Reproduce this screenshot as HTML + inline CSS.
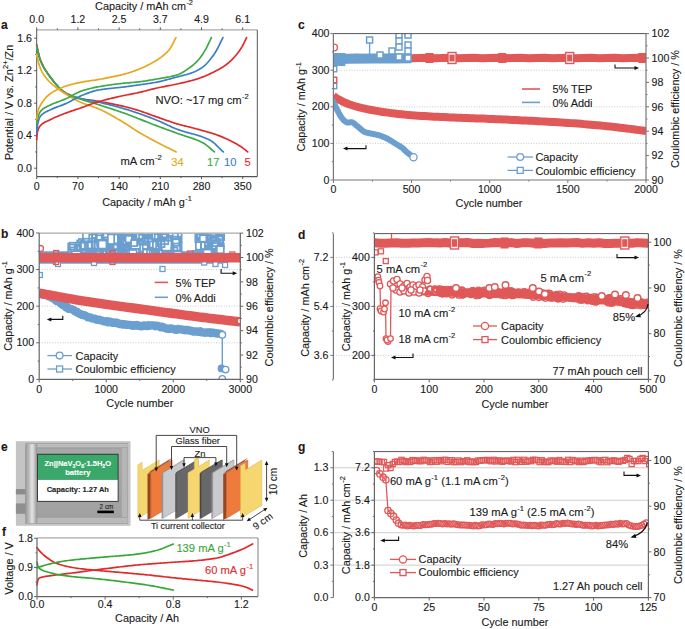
<!DOCTYPE html>
<html><head><meta charset="utf-8"><style>
html,body{margin:0;padding:0;background:#fff;width:685px;height:629px;overflow:hidden}
svg{display:block;font-family:"Liberation Sans", sans-serif}
text{stroke-width:0.12px;paint-order:stroke}
</style></head><body>
<svg width="685" height="629" viewBox="0 0 685 629">
<rect width="685" height="629" fill="#fff"/>
<line x1="36.7" y1="29.9" x2="257.3" y2="29.9" stroke="#a9a9a9" stroke-width="1.3" />
<line x1="257.3" y1="29.9" x2="257.3" y2="176.6" stroke="#555555" stroke-width="1" />
<line x1="36.7" y1="29.9" x2="36.7" y2="176.6" stroke="#555555" stroke-width="1" />
<line x1="36.7" y1="176.6" x2="257.3" y2="176.6" stroke="#555555" stroke-width="1.1" />
<line x1="36.7" y1="176.6" x2="36.7" y2="179.1" stroke="#555555" stroke-width="1" />
<line x1="36.7" y1="29.9" x2="36.7" y2="27.4" stroke="#555555" stroke-width="1" />
<line x1="57.3" y1="176.6" x2="57.3" y2="178.1" stroke="#555555" stroke-width="1" />
<line x1="57.3" y1="29.9" x2="57.3" y2="28.4" stroke="#555555" stroke-width="1" />
<line x1="77.9" y1="176.6" x2="77.9" y2="179.1" stroke="#555555" stroke-width="1" />
<line x1="77.9" y1="29.9" x2="77.9" y2="27.4" stroke="#555555" stroke-width="1" />
<line x1="98.5" y1="176.6" x2="98.5" y2="178.1" stroke="#555555" stroke-width="1" />
<line x1="98.5" y1="29.9" x2="98.5" y2="28.4" stroke="#555555" stroke-width="1" />
<line x1="119.1" y1="176.6" x2="119.1" y2="179.1" stroke="#555555" stroke-width="1" />
<line x1="119.1" y1="29.9" x2="119.1" y2="27.4" stroke="#555555" stroke-width="1" />
<line x1="139.7" y1="176.6" x2="139.7" y2="178.1" stroke="#555555" stroke-width="1" />
<line x1="139.7" y1="29.9" x2="139.7" y2="28.4" stroke="#555555" stroke-width="1" />
<line x1="160.3" y1="176.6" x2="160.3" y2="179.1" stroke="#555555" stroke-width="1" />
<line x1="160.3" y1="29.9" x2="160.3" y2="27.4" stroke="#555555" stroke-width="1" />
<line x1="180.9" y1="176.6" x2="180.9" y2="178.1" stroke="#555555" stroke-width="1" />
<line x1="180.9" y1="29.9" x2="180.9" y2="28.4" stroke="#555555" stroke-width="1" />
<line x1="201.5" y1="176.6" x2="201.5" y2="179.1" stroke="#555555" stroke-width="1" />
<line x1="201.5" y1="29.9" x2="201.5" y2="27.4" stroke="#555555" stroke-width="1" />
<line x1="222.1" y1="176.6" x2="222.1" y2="178.1" stroke="#555555" stroke-width="1" />
<line x1="222.1" y1="29.9" x2="222.1" y2="28.4" stroke="#555555" stroke-width="1" />
<line x1="242.7" y1="176.6" x2="242.7" y2="179.1" stroke="#555555" stroke-width="1" />
<line x1="242.7" y1="29.9" x2="242.7" y2="27.4" stroke="#555555" stroke-width="1" />
<line x1="36.7" y1="168.2" x2="34.2" y2="168.2" stroke="#555555" stroke-width="1" />
<line x1="36.7" y1="151.95" x2="35.2" y2="151.95" stroke="#555555" stroke-width="1" />
<line x1="36.7" y1="135.7" x2="34.2" y2="135.7" stroke="#555555" stroke-width="1" />
<line x1="36.7" y1="119.45" x2="35.2" y2="119.45" stroke="#555555" stroke-width="1" />
<line x1="36.7" y1="103.2" x2="34.2" y2="103.2" stroke="#555555" stroke-width="1" />
<line x1="36.7" y1="86.95" x2="35.2" y2="86.95" stroke="#555555" stroke-width="1" />
<line x1="36.7" y1="70.7" x2="34.2" y2="70.7" stroke="#555555" stroke-width="1" />
<line x1="36.7" y1="54.45" x2="35.2" y2="54.45" stroke="#555555" stroke-width="1" />
<line x1="36.7" y1="38.2" x2="34.2" y2="38.2" stroke="#555555" stroke-width="1" />
<text x="36.7" y="189.6" font-size="10.6" text-anchor="middle" fill="#1a1a1a" stroke="#1a1a1a" >0</text>
<text x="77.9" y="189.6" font-size="10.6" text-anchor="middle" fill="#1a1a1a" stroke="#1a1a1a" >70</text>
<text x="119.1" y="189.6" font-size="10.6" text-anchor="middle" fill="#1a1a1a" stroke="#1a1a1a" >140</text>
<text x="160.3" y="189.6" font-size="10.6" text-anchor="middle" fill="#1a1a1a" stroke="#1a1a1a" >210</text>
<text x="201.5" y="189.6" font-size="10.6" text-anchor="middle" fill="#1a1a1a" stroke="#1a1a1a" >280</text>
<text x="242.7" y="189.6" font-size="10.6" text-anchor="middle" fill="#1a1a1a" stroke="#1a1a1a" >350</text>
<text x="36.7" y="23.2" font-size="10.6" text-anchor="middle" fill="#1a1a1a" stroke="#1a1a1a" >0.0</text>
<text x="77.9" y="23.2" font-size="10.6" text-anchor="middle" fill="#1a1a1a" stroke="#1a1a1a" >1.2</text>
<text x="119.1" y="23.2" font-size="10.6" text-anchor="middle" fill="#1a1a1a" stroke="#1a1a1a" >2.5</text>
<text x="160.3" y="23.2" font-size="10.6" text-anchor="middle" fill="#1a1a1a" stroke="#1a1a1a" >3.7</text>
<text x="201.5" y="23.2" font-size="10.6" text-anchor="middle" fill="#1a1a1a" stroke="#1a1a1a" >4.9</text>
<text x="242.7" y="23.2" font-size="10.6" text-anchor="middle" fill="#1a1a1a" stroke="#1a1a1a" >6.1</text>
<text x="32" y="171.8" font-size="10.6" text-anchor="end" fill="#1a1a1a" stroke="#1a1a1a" >0.0</text>
<text x="32" y="139.3" font-size="10.6" text-anchor="end" fill="#1a1a1a" stroke="#1a1a1a" >0.4</text>
<text x="32" y="106.8" font-size="10.6" text-anchor="end" fill="#1a1a1a" stroke="#1a1a1a" >0.8</text>
<text x="32" y="74.3" font-size="10.6" text-anchor="end" fill="#1a1a1a" stroke="#1a1a1a" >1.2</text>
<text x="32" y="41.8" font-size="10.6" text-anchor="end" fill="#1a1a1a" stroke="#1a1a1a" >1.6</text>
<text x="147" y="206.2" font-size="10.85" text-anchor="middle" fill="#1a1a1a" stroke="#1a1a1a" >Capacity / mAh g<tspan font-size="7.38" dx="0.33" dy="-4.88">-1</tspan><tspan dy="4.88">&#8203;</tspan></text>
<text x="144" y="10.3" font-size="10.85" text-anchor="middle" fill="#1a1a1a" stroke="#1a1a1a" >Capacity / mAh cm<tspan font-size="7.38" dx="0.33" dy="-4.88">-2</tspan><tspan dy="4.88">&#8203;</tspan></text>
<text x="12.5" y="102.5" font-size="10.85" text-anchor="middle" fill="#1a1a1a" stroke="#1a1a1a" transform="rotate(-90 12.5 102.5)" >Potential / V vs. Zn<tspan font-size="7.38" dx="0.33" dy="-4.88">2+</tspan><tspan dy="4.88">&#8203;</tspan>/Zn</text>
<text x="155.5" y="103.8" font-size="11.2" text-anchor="start" fill="#1a1a1a" stroke="#1a1a1a" >NVO: ~17 mg cm<tspan font-size="7.62" dx="0.34" dy="-5.04">-2</tspan><tspan dy="5.04">&#8203;</tspan></text>
<text x="120.5" y="165.2" font-size="11.2" text-anchor="start" fill="#1a1a1a" stroke="#1a1a1a" >mA cm<tspan font-size="7.62" dx="0.34" dy="-5.04">-2</tspan><tspan dy="5.04">&#8203;</tspan></text>
<text x="171.3" y="165.5" font-size="11.2" text-anchor="start" fill="#e5a920" stroke="#e5a920" >34</text>
<text x="207" y="165.5" font-size="11.2" text-anchor="start" fill="#3daa45" stroke="#3daa45" >17</text>
<text x="224" y="165.5" font-size="11.2" text-anchor="start" fill="#3b7fc4" stroke="#3b7fc4" >10</text>
<text x="244.6" y="165.5" font-size="11.2" text-anchor="start" fill="#e02b2b" stroke="#e02b2b" >5</text>
<text x="1" y="28.7" font-size="12" text-anchor="start" fill="#1f1515" stroke="#1f1515" font-weight="bold" >a</text>
<path d="M36.7,44.7 L38.17,51.8 L39.64,57.7 L40.92,61.05 L42.2,64 L43.48,66.59 L44.76,68.89 L46.04,70.96 L47.32,72.85 L48.6,74.65 L49.88,76.39 L51.11,78.04 L52.33,79.65 L53.55,81.24 L54.77,82.77 L56,84.25 L57.22,85.66 L58.44,87.01 L59.66,88.27 L60.89,89.44 L62.11,90.51 L63.33,91.47 L64.55,92.32 L65.78,93.04 L67,93.68 L68.23,94.29 L69.46,94.86 L70.68,95.39 L71.91,95.89 L73.14,96.36 L74.36,96.8 L75.59,97.2 L76.82,97.58 L78.04,97.93 L79.27,98.25 L80.5,98.54 L81.73,98.81 L82.95,99.06 L84.17,99.28 L85.39,99.48 L86.62,99.66 L87.84,99.83 L89.06,100 L90.28,100.15 L91.51,100.31 L92.73,100.46 L93.95,100.62 L95.17,100.79 L96.39,100.97 L97.62,101.17 L98.82,101.37 L100.01,101.58 L101.21,101.79 L102.41,102 L103.61,102.22 L104.81,102.44 L106.01,102.66 L107.21,102.89 L108.4,103.12 L109.6,103.35 L110.8,103.59 L112,103.83 L113.2,104.07 L114.4,104.32 L115.6,104.57 L116.79,104.83 L117.99,105.09 L119.19,105.35 L120.39,105.62 L121.59,105.89 L122.79,106.17 L123.99,106.45 L125.17,106.73 L126.36,107.03 L127.55,107.33 L128.74,107.64 L129.92,107.96 L131.11,108.29 L132.3,108.62 L133.49,108.96 L134.68,109.31 L135.86,109.67 L137.05,110.02 L138.3,110.41 L139.55,110.81 L140.79,111.23 L142.04,111.65 L143.29,112.08 L144.53,112.52 L145.78,112.97 L147.03,113.42 L148.27,113.87 L149.52,114.33 L150.77,114.78 L152.02,115.24 L153.26,115.69 L154.51,116.14 L155.76,116.58 L157,117.01 L158.18,117.42 L159.36,117.83 L160.54,118.25 L161.71,118.67 L162.89,119.09 L164.07,119.51 L165.24,119.93 L166.42,120.34 L167.6,120.76 L168.78,121.17 L169.95,121.57 L171.13,121.97 L172.31,122.36 L173.48,122.74 L174.66,123.12 L175.84,123.48 L177.02,123.84 L178.26,124.2 L179.51,124.55 L180.76,124.89 L182,125.22 L183.25,125.54 L184.5,125.86 L185.74,126.17 L186.99,126.48 L188.24,126.79 L189.49,127.1 L190.73,127.41 L191.98,127.72 L193.23,128.04 L194.47,128.37 L195.72,128.7 L196.97,129.04 L198.15,129.36 L199.32,129.69 L200.5,130.01 L201.68,130.33 L202.85,130.65 L204.03,130.98 L205.21,131.3 L206.39,131.64 L207.56,131.97 L208.74,132.31 L209.92,132.66 L211.09,133.02 L212.27,133.39 L213.45,133.77 L214.63,134.15 L215.8,134.56 L216.98,134.97 L218.21,135.42 L219.44,135.88 L220.67,136.37 L221.91,136.87 L223.14,137.38 L224.37,137.91 L225.6,138.46 L226.83,139.02 L228.06,139.6 L229.29,140.19 L230.53,140.79 L231.76,141.41 L232.99,142.04 L234.2,142.68 L235.42,143.34 L236.63,144.02 L237.84,144.74 L239.06,145.48 L240.27,146.25 L241.49,147.05 L242.7,147.89 L243.95,148.83 L245.2,149.85 L246.45,150.91 L247.7,151.95" stroke="#e02b2b" stroke-width="1.7" fill="none" stroke-linecap="round" stroke-linejoin="round" />
<path d="M36.7,46.32 L38.17,52.97 L39.64,58.51 L40.92,61.7 L42.2,64.49 L43.48,66.95 L44.76,69.14 L46.04,71.12 L47.32,72.95 L48.6,74.68 L49.88,76.39 L51.11,78.01 L52.33,79.61 L53.55,81.18 L54.77,82.71 L56,84.19 L57.22,85.61 L58.44,86.96 L59.66,88.23 L60.89,89.41 L62.11,90.49 L63.33,91.47 L64.55,92.32 L65.78,93.04 L67,93.68 L68.23,94.27 L69.46,94.83 L70.68,95.34 L71.91,95.82 L73.14,96.27 L74.36,96.7 L75.59,97.09 L76.82,97.47 L78.04,97.82 L79.27,98.17 L80.5,98.49 L81.73,98.81 L82.95,99.11 L84.17,99.39 L85.39,99.65 L86.62,99.9 L87.84,100.13 L89.06,100.36 L90.28,100.58 L91.51,100.79 L92.73,101.01 L93.95,101.24 L95.17,101.47 L96.39,101.72 L97.62,101.98 L98.82,102.25 L100.01,102.52 L101.21,102.79 L102.41,103.07 L103.61,103.35 L104.81,103.64 L106.01,103.93 L107.21,104.22 L108.4,104.52 L109.6,104.82 L110.8,105.12 L112,105.43 L113.2,105.74 L114.4,106.05 L115.6,106.37 L116.79,106.7 L117.99,107.02 L119.19,107.36 L120.39,107.69 L121.59,108.03 L122.79,108.38 L123.99,108.72 L125.18,109.08 L126.37,109.43 L127.56,109.8 L128.76,110.17 L129.95,110.54 L131.14,110.92 L132.34,111.3 L133.53,111.69 L134.72,112.08 L135.92,112.48 L137.11,112.89 L138.3,113.29 L139.49,113.71 L140.69,114.12 L141.88,114.55 L143.07,114.97 L144.27,115.4 L145.46,115.84 L146.65,116.27 L147.84,116.72 L149.04,117.16 L150.23,117.61 L151.42,118.07 L152.62,118.52 L153.81,118.99 L155,119.45 L156.23,119.94 L157.45,120.45 L158.67,120.97 L159.89,121.51 L161.12,122.07 L162.34,122.63 L163.56,123.2 L164.79,123.77 L166.01,124.35 L167.23,124.92 L168.45,125.49 L169.68,126.06 L170.9,126.62 L172.12,127.16 L173.35,127.7 L174.57,128.22 L175.79,128.72 L177.02,129.2 L178.24,129.66 L179.46,130.09 L180.68,130.5 L181.9,130.89 L183.12,131.27 L184.34,131.63 L185.56,131.98 L186.78,132.32 L188,132.65 L189.22,132.98 L190.44,133.31 L191.66,133.64 L192.89,133.97 L194.11,134.3 L195.33,134.64 L196.55,135 L197.77,135.36 L198.99,135.74 L200.21,136.13 L201.43,136.54 L202.65,136.98 L203.87,137.44 L205.09,137.92 L206.31,138.44 L207.53,138.98 L208.75,139.56 L209.98,140.17 L211.18,140.87 L212.39,141.71 L213.6,142.67 L214.81,143.73 L216.02,144.86 L217.23,146.04 L218.44,147.25 L219.65,148.47 L220.86,149.68 L222.07,150.84 L223.28,151.95" stroke="#3b7fc4" stroke-width="1.7" fill="none" stroke-linecap="round" stroke-linejoin="round" />
<path d="M36.7,46.32 L38.17,52.96 L39.64,58.51 L40.92,61.73 L42.2,64.55 L43.48,67.05 L44.76,69.27 L46.04,71.28 L47.32,73.14 L48.6,74.91 L49.88,76.63 L51.11,78.27 L52.33,79.89 L53.55,81.47 L54.77,83 L56,84.49 L57.22,85.92 L58.44,87.27 L59.66,88.55 L60.89,89.74 L62.11,90.84 L63.33,91.82 L64.55,92.7 L65.78,93.45 L67,94.11 L68.23,94.72 L69.46,95.27 L70.68,95.79 L71.91,96.27 L73.14,96.72 L74.36,97.15 L75.59,97.56 L76.82,97.95 L78.04,98.35 L79.27,98.74 L80.5,99.13 L81.73,99.54 L82.95,99.95 L84.17,100.35 L85.39,100.73 L86.62,101.11 L87.84,101.48 L89.06,101.85 L90.28,102.21 L91.51,102.57 L92.73,102.93 L93.95,103.29 L95.17,103.66 L96.39,104.04 L97.62,104.42 L98.82,104.8 L100.01,105.18 L101.21,105.56 L102.41,105.94 L103.61,106.32 L104.81,106.7 L106.01,107.09 L107.21,107.47 L108.4,107.86 L109.6,108.24 L110.8,108.63 L112,109.03 L113.2,109.42 L114.4,109.82 L115.6,110.22 L116.79,110.62 L117.99,111.03 L119.19,111.44 L120.39,111.85 L121.59,112.27 L122.79,112.69 L123.99,113.11 L125.26,113.57 L126.54,114.04 L127.82,114.52 L129.09,115.01 L130.37,115.5 L131.65,116 L132.93,116.5 L134.2,116.99 L135.48,117.49 L136.76,117.99 L137.97,118.46 L139.19,118.93 L140.41,119.41 L141.62,119.89 L142.84,120.37 L144.06,120.85 L145.27,121.34 L146.49,121.82 L147.7,122.3 L148.92,122.78 L150.14,123.26 L151.35,123.73 L152.57,124.2 L153.79,124.67 L155,125.14 L156.23,125.6 L157.45,126.06 L158.67,126.52 L159.89,126.98 L161.12,127.43 L162.34,127.88 L163.56,128.33 L164.79,128.78 L166.01,129.23 L167.23,129.68 L168.45,130.12 L169.68,130.57 L170.9,131.02 L172.12,131.46 L173.35,131.91 L174.57,132.36 L175.79,132.81 L177.02,133.26 L178.21,133.7 L179.4,134.11 L180.6,134.52 L181.79,134.92 L182.98,135.3 L184.17,135.69 L185.37,136.07 L186.56,136.45 L187.75,136.83 L188.95,137.21 L190.14,137.6 L191.33,138 L192.53,138.41 L193.72,138.84 L194.91,139.28 L196.11,139.74 L197.3,140.22 L198.49,140.72 L199.69,141.25 L200.88,141.81 L202.07,142.39 L203.27,143.01 L204.51,143.74 L205.75,144.6 L206.99,145.55 L208.24,146.58 L209.48,147.65 L210.72,148.75 L211.96,149.85 L213.21,150.92 L214.45,151.95" stroke="#3daa45" stroke-width="1.7" fill="none" stroke-linecap="round" stroke-linejoin="round" />
<path d="M36.7,54.45 L37.58,58.77 L38.47,62.57 L39.64,66.3 L40.82,69.39 L42,71.84 L43.31,74.07 L44.63,76.04 L45.94,77.78 L47.26,79.33 L48.57,80.75 L49.88,82.07 L51.11,83.24 L52.33,84.35 L53.55,85.41 L54.77,86.41 L56,87.37 L57.22,88.29 L58.44,89.17 L59.66,90.03 L60.89,90.86 L62.11,91.66 L63.33,92.46 L64.55,93.24 L65.78,94.02 L67,94.79 L68.23,95.56 L69.46,96.31 L70.68,97.04 L71.91,97.77 L73.14,98.47 L74.36,99.16 L75.59,99.82 L76.82,100.47 L78.04,101.09 L79.27,101.68 L80.5,102.25 L81.73,102.79 L82.95,103.3 L84.17,103.77 L85.39,104.21 L86.62,104.63 L87.84,105.03 L89.06,105.42 L90.28,105.81 L91.51,106.2 L92.73,106.6 L93.95,107.01 L95.17,107.44 L96.39,107.91 L97.62,108.4 L98.82,108.91 L100.01,109.45 L101.21,110 L102.41,110.57 L103.61,111.16 L104.81,111.76 L106.01,112.37 L107.21,113 L108.4,113.65 L109.6,114.3 L110.8,114.97 L112,115.64 L113.2,116.33 L114.4,117.02 L115.6,117.71 L116.79,118.42 L117.99,119.13 L119.19,119.84 L120.39,120.55 L121.59,121.27 L122.79,121.98 L123.99,122.7 L125.26,123.48 L126.54,124.29 L127.82,125.12 L129.09,125.97 L130.37,126.83 L131.65,127.69 L132.93,128.54 L134.2,129.38 L135.48,130.2 L136.76,130.99 L137.93,131.7 L139.11,132.4 L140.29,133.09 L141.47,133.77 L142.64,134.45 L143.82,135.13 L145,135.79 L146.17,136.45 L147.35,137.11 L148.53,137.76 L149.71,138.41 L150.88,139.05 L152.06,139.68 L153.24,140.32 L154.41,140.95 L155.59,141.58 L156.77,142.2 L157.98,142.84 L159.2,143.47 L160.41,144.09 L161.62,144.71 L162.84,145.33 L164.05,145.93 L165.27,146.54 L166.48,147.14 L167.69,147.74 L168.91,148.34 L170.12,148.94 L171.34,149.54 L172.55,150.14 L173.76,150.74 L174.98,151.34 L176.19,151.95" stroke="#e5a920" stroke-width="1.7" fill="none" stroke-linecap="round" stroke-linejoin="round" />
<path d="M36.7,139.76 L36.99,135.52 L37.29,132.45 L38.85,127.66 L40.41,125.54 L41.59,124.42 L42.78,123.49 L43.96,122.71 L45.15,122.06 L46.33,121.49 L47.52,120.95 L48.7,120.42 L49.88,119.86 L51.11,119.25 L52.33,118.66 L53.55,118.1 L54.77,117.55 L56,117.01 L57.22,116.5 L58.44,115.99 L59.66,115.49 L60.89,115 L62.11,114.52 L63.33,114.05 L64.55,113.58 L65.78,113.11 L67,112.65 L68.23,112.2 L69.46,111.76 L70.68,111.33 L71.91,110.91 L73.14,110.49 L74.36,110.08 L75.59,109.67 L76.82,109.26 L78.04,108.85 L79.27,108.43 L80.5,108.01 L81.73,107.59 L82.95,107.15 L84.17,106.71 L85.39,106.26 L86.62,105.81 L87.84,105.35 L89.06,104.9 L90.28,104.45 L91.51,104.01 L92.73,103.57 L93.95,103.15 L95.17,102.74 L96.39,102.35 L97.62,101.98 L98.82,101.63 L100.01,101.29 L101.21,100.95 L102.41,100.62 L103.61,100.3 L104.81,99.98 L106.01,99.67 L107.21,99.36 L108.4,99.06 L109.6,98.76 L110.8,98.47 L112,98.18 L113.2,97.89 L114.4,97.61 L115.6,97.34 L116.79,97.06 L117.99,96.79 L119.19,96.52 L120.39,96.26 L121.59,96 L122.79,95.74 L123.99,95.48 L125.17,95.23 L126.35,95 L127.53,94.77 L128.72,94.55 L129.9,94.33 L131.08,94.12 L132.26,93.9 L133.45,93.68 L134.63,93.45 L135.81,93.21 L136.99,92.96 L138.17,92.7 L139.35,92.43 L140.52,92.15 L141.7,91.86 L142.88,91.57 L144.06,91.26 L145.23,90.96 L146.41,90.65 L147.59,90.34 L148.76,90.03 L149.94,89.73 L151.12,89.42 L152.3,89.13 L153.47,88.83 L154.65,88.55 L155.83,88.27 L157,88.01 L158.18,87.75 L159.36,87.5 L160.54,87.26 L161.71,87.03 L162.89,86.8 L164.07,86.57 L165.24,86.35 L166.42,86.13 L167.6,85.91 L168.78,85.69 L169.95,85.46 L171.13,85.24 L172.31,85.01 L173.48,84.77 L174.66,84.53 L175.84,84.28 L177.02,84.02 L178.26,83.75 L179.51,83.47 L180.76,83.19 L182,82.91 L183.25,82.63 L184.5,82.34 L185.74,82.04 L186.99,81.74 L188.24,81.44 L189.49,81.12 L190.73,80.8 L191.98,80.46 L193.23,80.11 L194.47,79.75 L195.72,79.38 L196.97,78.99 L198.15,78.6 L199.32,78.2 L200.5,77.78 L201.68,77.35 L202.85,76.9 L204.03,76.43 L205.21,75.95 L206.39,75.45 L207.56,74.94 L208.74,74.41 L209.92,73.87 L211.09,73.32 L212.27,72.75 L213.45,72.18 L214.63,71.59 L215.8,70.99 L216.98,70.37 L218.23,69.71 L219.48,69.01 L220.73,68.28 L221.98,67.52 L223.23,66.72 L224.48,65.87 L225.73,64.98 L226.99,64.04 L228.24,63.03 L229.49,61.96 L230.74,60.81 L231.99,59.6 L233.24,58.31 L234.49,56.96 L235.74,55.54 L236.99,54.04 L238.19,52.51 L239.39,50.83 L240.59,49.02 L241.79,47.08 L242.99,45.02 L244.19,42.72 L245.39,40.18 L246.58,37.63" stroke="#e02b2b" stroke-width="1.7" fill="none" stroke-linecap="round" stroke-linejoin="round" />
<path d="M36.7,133.26 L37.14,128.22 L37.58,124.32 L39,118.93 L40.41,116.2 L41.59,114.91 L42.78,113.86 L43.96,113.01 L45.15,112.3 L46.33,111.69 L47.52,111.14 L48.7,110.6 L49.88,110.02 L51.11,109.43 L52.33,108.87 L53.55,108.35 L54.77,107.85 L56,107.38 L57.22,106.92 L58.44,106.47 L59.66,106.03 L60.89,105.58 L62.11,105.12 L63.33,104.64 L64.55,104.14 L65.78,103.61 L67,103.04 L68.23,102.43 L69.46,101.81 L70.68,101.16 L71.91,100.5 L73.14,99.83 L74.36,99.16 L75.59,98.5 L76.82,97.86 L78.04,97.24 L79.27,96.64 L80.5,96.08 L81.73,95.56 L82.95,95.07 L84.17,94.57 L85.39,94.08 L86.62,93.6 L87.84,93.13 L89.06,92.67 L90.28,92.23 L91.51,91.82 L92.73,91.43 L93.95,91.07 L95.17,90.74 L96.39,90.45 L97.62,90.2 L98.82,89.98 L100.01,89.78 L101.21,89.59 L102.41,89.41 L103.61,89.24 L104.81,89.08 L106.01,88.93 L107.21,88.78 L108.4,88.65 L109.6,88.51 L110.8,88.39 L112,88.26 L113.2,88.14 L114.4,88.02 L115.6,87.9 L116.79,87.77 L117.99,87.65 L119.19,87.52 L120.39,87.39 L121.59,87.25 L122.79,87.1 L123.99,86.95 L125.17,86.79 L126.35,86.64 L127.53,86.48 L128.72,86.32 L129.9,86.16 L131.08,86 L132.26,85.83 L133.45,85.67 L134.63,85.5 L135.81,85.33 L136.99,85.16 L138.17,84.99 L139.35,84.83 L140.52,84.66 L141.7,84.49 L142.88,84.33 L144.06,84.16 L145.23,83.99 L146.41,83.82 L147.59,83.65 L148.76,83.47 L149.94,83.29 L151.12,83.11 L152.3,82.91 L153.47,82.72 L154.65,82.51 L155.83,82.3 L157,82.07 L158.18,81.84 L159.36,81.59 L160.54,81.33 L161.71,81.05 L162.89,80.77 L164.07,80.47 L165.24,80.17 L166.42,79.86 L167.6,79.54 L168.78,79.22 L169.95,78.89 L171.13,78.57 L172.31,78.24 L173.48,77.92 L174.66,77.59 L175.84,77.27 L177.02,76.96 L178.28,76.63 L179.54,76.31 L180.8,76 L182.07,75.68 L183.33,75.37 L184.59,75.04 L185.85,74.7 L187.12,74.35 L188.38,73.97 L189.64,73.57 L190.91,73.14 L192.12,72.69 L193.33,72.22 L194.54,71.72 L195.75,71.17 L196.95,70.59 L198.16,69.97 L199.37,69.29 L200.58,68.56 L201.79,67.77 L203.01,66.89 L204.23,65.88 L205.45,64.76 L206.67,63.54 L207.89,62.21 L209.1,60.8 L210.32,59.31 L211.54,57.75 L212.76,56.13 L213.98,54.45 L215.26,52.49 L216.55,50.26 L217.84,47.83 L219.12,45.28 L220.41,42.68 L221.7,40.11 L222.98,37.63" stroke="#3b7fc4" stroke-width="1.7" fill="none" stroke-linecap="round" stroke-linejoin="round" />
<path d="M36.7,123.51 L37.14,120.88 L37.58,118.64 L39,114.06 L40.41,111.32 L41.59,110.08 L42.78,109.06 L43.96,108.21 L45.15,107.51 L46.33,106.9 L47.52,106.34 L48.7,105.8 L49.88,105.23 L51.11,104.63 L52.33,104.08 L53.55,103.56 L54.77,103.06 L56,102.59 L57.22,102.13 L58.44,101.68 L59.66,101.23 L60.89,100.78 L62.11,100.32 L63.33,99.84 L64.55,99.34 L65.78,98.81 L67,98.24 L68.23,97.64 L69.46,97 L70.68,96.34 L71.91,95.66 L73.14,94.99 L74.36,94.31 L75.59,93.66 L76.82,93.03 L78.04,92.43 L79.27,91.88 L80.5,91.37 L81.73,90.93 L82.95,90.53 L84.17,90.15 L85.39,89.79 L86.62,89.45 L87.84,89.12 L89.06,88.8 L90.28,88.5 L91.51,88.21 L92.73,87.94 L93.95,87.67 L95.17,87.42 L96.39,87.18 L97.62,86.95 L98.82,86.73 L100.01,86.52 L101.21,86.31 L102.41,86.1 L103.61,85.91 L104.81,85.71 L106.01,85.52 L107.21,85.34 L108.4,85.16 L109.6,84.99 L110.8,84.82 L112,84.65 L113.2,84.49 L114.4,84.33 L115.6,84.18 L116.79,84.03 L117.99,83.89 L119.19,83.74 L120.39,83.61 L121.59,83.47 L122.79,83.34 L123.99,83.21 L125.17,83.09 L126.35,82.99 L127.53,82.88 L128.72,82.79 L129.9,82.7 L131.08,82.6 L132.26,82.51 L133.45,82.41 L134.63,82.31 L135.81,82.2 L136.99,82.07 L138.17,81.94 L139.35,81.8 L140.52,81.65 L141.7,81.49 L142.88,81.32 L144.06,81.15 L145.23,80.97 L146.41,80.79 L147.59,80.6 L148.76,80.41 L149.94,80.21 L151.12,80.01 L152.3,79.81 L153.47,79.61 L154.65,79.4 L155.83,79.19 L157,78.99 L158.18,78.78 L159.36,78.59 L160.54,78.39 L161.71,78.2 L162.89,78.01 L164.07,77.81 L165.24,77.61 L166.42,77.4 L167.6,77.19 L168.78,76.96 L169.95,76.72 L171.13,76.47 L172.31,76.2 L173.48,75.92 L174.66,75.61 L175.84,75.28 L177.02,74.92 L178.26,74.49 L179.51,73.96 L180.76,73.36 L182.01,72.69 L183.25,71.95 L184.5,71.17 L185.75,70.36 L187,69.51 L188.25,68.65 L189.49,67.77 L190.86,66.79 L192.22,65.75 L193.58,64.62 L194.95,63.42 L196.31,62.11 L197.67,60.71 L198.9,59.31 L200.13,57.76 L201.35,56.08 L202.58,54.28 L203.81,52.38 L205.03,50.39 L206.3,48.12 L207.57,45.6 L208.85,42.95 L210.12,40.25 L211.39,37.63" stroke="#3daa45" stroke-width="1.7" fill="none" stroke-linecap="round" stroke-linejoin="round" />
<path d="M36.7,119.45 L37.29,114.93 L37.88,111.32 L39.14,107.62 L40.41,105.23 L41.59,103.3 L42.78,101.54 L43.96,99.93 L45.15,98.47 L46.33,97.16 L47.52,95.98 L48.7,94.94 L49.88,94.02 L51.11,93.16 L52.33,92.36 L53.55,91.6 L54.77,90.89 L56,90.23 L57.22,89.61 L58.44,89.02 L59.66,88.47 L60.89,87.95 L62.11,87.46 L63.33,87 L64.55,86.56 L65.78,86.14 L67,85.73 L68.23,85.35 L69.46,84.98 L70.68,84.63 L71.91,84.29 L73.14,83.97 L74.36,83.67 L75.59,83.37 L76.82,83.09 L78.04,82.82 L79.27,82.56 L80.5,82.31 L81.73,82.07 L82.95,81.85 L84.17,81.64 L85.39,81.44 L86.62,81.26 L87.84,81.08 L89.06,80.91 L90.28,80.74 L91.51,80.57 L92.73,80.4 L93.95,80.22 L95.17,80.04 L96.39,79.84 L97.62,79.64 L98.82,79.43 L100.01,79.22 L101.21,79 L102.41,78.79 L103.61,78.57 L104.81,78.35 L106.01,78.13 L107.21,77.9 L108.4,77.67 L109.6,77.44 L110.8,77.2 L112,76.95 L113.2,76.7 L114.4,76.45 L115.6,76.19 L116.79,75.92 L117.99,75.65 L119.19,75.38 L120.39,75.09 L121.59,74.8 L122.79,74.5 L123.99,74.19 L125.17,73.88 L126.35,73.55 L127.53,73.21 L128.72,72.85 L129.9,72.48 L131.08,72.1 L132.26,71.7 L133.45,71.29 L134.63,70.86 L135.81,70.42 L136.99,69.97 L138.17,69.51 L139.35,69.03 L140.52,68.54 L141.7,68.04 L142.88,67.53 L144.06,66.99 L145.23,66.45 L146.41,65.88 L147.59,65.3 L148.76,64.71 L149.94,64.09 L151.12,63.46 L152.3,62.8 L153.47,62.13 L154.65,61.43 L155.83,60.71 L157,59.97 L158.2,59.2 L159.41,58.4 L160.61,57.57 L161.81,56.7 L163.01,55.77 L164.21,54.78 L165.41,53.72 L166.61,52.57 L167.81,51.33 L169.01,49.98 L170.41,48.05 L171.81,45.64 L173.21,42.97 L174.61,40.23 L176.01,37.63" stroke="#e5a920" stroke-width="1.7" fill="none" stroke-linecap="round" stroke-linejoin="round" />
<line x1="333.4" y1="143.4" x2="646" y2="143.4" stroke="#bdbdbd" stroke-width="0.8" stroke-dasharray="1,1.6"/>
<line x1="333.4" y1="106.8" x2="646" y2="106.8" stroke="#bdbdbd" stroke-width="0.8" stroke-dasharray="1,1.6"/>
<line x1="333.4" y1="70.2" x2="646" y2="70.2" stroke="#bdbdbd" stroke-width="0.8" stroke-dasharray="1,1.6"/>
<clipPath id="cpc"><rect x="333.4" y="33.6" width="312.6" height="146.4"/></clipPath><g clip-path="url(#cpc)">
<path d="M333.4,57.7 L341.21,58.3 L349.03,58 L356.84,57.7 L364.66,58.3 L372.47,58 L380.29,57.7 L388.1,58.3 L395.92,58 L403.73,57.7 L411.55,58.3 L419.37,58 L427.18,57.7 L435,58.3 L442.81,58 L450.62,57.7 L458.44,58.3 L466.25,58 L474.07,57.7 L481.88,58.3 L489.7,58 L497.51,57.7 L505.33,58.3 L513.14,58 L520.96,57.7 L528.77,58.3 L536.59,58 L544.4,57.7 L552.22,58.3 L560.03,58 L567.85,57.7 L575.66,58.3 L583.48,58 L591.29,57.7 L599.11,58.3 L606.92,58 L614.74,57.7 L622.55,58.3 L630.37,58 L638.18,57.7 L646,58.3" stroke="#e05858" stroke-width="8" fill="none" stroke-linecap="butt" stroke-linejoin="round" />
<rect x="425.52" y="53" width="8" height="10" fill="#e05858" stroke="none" stroke-width="1" />
<rect x="498.2" y="53" width="8" height="10" fill="#e05858" stroke="none" stroke-width="1" />
<rect x="638.25" y="53" width="8" height="10" fill="#e05858" stroke="none" stroke-width="1" />
<rect x="448.03" y="52.5" width="8" height="11" fill="#fff" stroke="#e05858" stroke-width="1.4" />
<rect x="449.43" y="54.6" width="5.2" height="6.8" fill="#e05858" stroke="none" stroke-width="1" />
<rect x="565.73" y="52.5" width="8" height="11" fill="#fff" stroke="#e05858" stroke-width="1.4" />
<rect x="567.13" y="54.6" width="5.2" height="6.8" fill="#e05858" stroke="none" stroke-width="1" />
<path d="M333.4,59.5 L338.09,59 L349.03,58.8 L372.47,58.6 L395.92,58.4 L411.55,58.2" stroke="#6a9fd0" stroke-width="10" fill="none" stroke-linecap="butt" stroke-linejoin="round" />
<polygon points="333.4,53 345.4,53 345.4,66 333.4,66" fill="#6a9fd0" stroke="none" stroke-width="1" />
<rect x="366.6" y="37" width="6" height="6" stroke="#6a9fd0" stroke-width="1.5" fill="#fff" />
<rect x="396" y="32" width="6" height="6" stroke="#6a9fd0" stroke-width="1.5" fill="#fff" />
<rect x="396" y="38" width="6" height="6" stroke="#6a9fd0" stroke-width="1.5" fill="#fff" />
<rect x="396" y="44" width="6" height="6" stroke="#6a9fd0" stroke-width="1.5" fill="#fff" />
<rect x="396" y="54" width="6" height="6" stroke="#6a9fd0" stroke-width="1.5" fill="#fff" />
<rect x="405" y="32" width="6" height="6" stroke="#6a9fd0" stroke-width="1.5" fill="#fff" />
<rect x="405" y="42" width="6" height="6" stroke="#6a9fd0" stroke-width="1.5" fill="#fff" />
<rect x="405" y="48" width="6" height="6" stroke="#6a9fd0" stroke-width="1.5" fill="#fff" />
<rect x="405" y="55" width="6" height="6" stroke="#6a9fd0" stroke-width="1.5" fill="#fff" />
<rect x="389" y="48" width="6" height="6" stroke="#6a9fd0" stroke-width="1.5" fill="#fff" />
<rect x="377" y="52" width="6" height="6" stroke="#6a9fd0" stroke-width="1.5" fill="#fff" />
<line x1="369.6" y1="43" x2="369.6" y2="54" stroke="#6a9fd0" stroke-width="1.3" />
<rect x="331.25" y="66.25" width="5.5" height="5.5" stroke="#6a9fd0" stroke-width="1.4" fill="#fff" />
<rect x="331.25" y="83.25" width="5.5" height="5.5" stroke="#6a9fd0" stroke-width="1.4" fill="#fff" />
<rect x="331.25" y="77.25" width="5.5" height="5.5" stroke="#e05858" stroke-width="1.4" fill="#fff" />
<circle cx="334" cy="47.5" r="3.4" stroke="#e05858" stroke-width="1.4" fill="#fff" />
<path d="M333.4,96.19 L335.74,97.7 L338.09,99.11 L341.74,101.04 L345.38,102.77 L349.03,104.24 L352.16,105.3 L355.28,106.26 L358.41,107.13 L361.53,107.92 L364.66,108.63 L368.01,109.33 L371.36,109.99 L374.71,110.6 L378.06,111.17 L381.41,111.7 L384.76,112.19 L388.1,112.66 L391.45,113.1 L394.8,113.52 L398.15,113.91 L401.5,114.29 L404.85,114.63 L408.2,114.94 L411.55,115.22 L414.81,115.46 L418.06,115.68 L421.32,115.9 L424.57,116.1 L427.83,116.29 L431.09,116.47 L434.34,116.64 L437.6,116.81 L440.86,116.96 L444.11,117.12 L447.37,117.27 L450.62,117.41 L453.88,117.56 L457.14,117.69 L460.39,117.81 L463.65,117.93 L466.91,118.05 L470.16,118.16 L473.42,118.27 L476.67,118.39 L479.93,118.5 L483.19,118.62 L486.44,118.75 L489.7,118.88 L492.96,119.02 L496.21,119.16 L499.47,119.3 L502.72,119.45 L505.98,119.59 L509.24,119.75 L512.49,119.9 L515.75,120.06 L519.01,120.22 L522.26,120.38 L525.52,120.54 L528.77,120.71 L532.03,120.87 L535.29,121.04 L538.54,121.21 L541.8,121.38 L545.06,121.55 L548.31,121.73 L551.57,121.91 L554.83,122.09 L558.08,122.28 L561.34,122.48 L564.59,122.69 L567.85,122.9 L571.11,123.13 L574.36,123.36 L577.62,123.61 L580.88,123.86 L584.13,124.12 L587.39,124.39 L590.64,124.67 L593.9,124.96 L597.16,125.26 L600.41,125.56 L603.67,125.88 L606.92,126.2 L610.18,126.53 L613.44,126.89 L616.69,127.27 L619.95,127.66 L623.21,128.06 L626.46,128.47 L629.72,128.89 L632.97,129.31 L636.23,129.73 L639.49,130.14 L642.74,130.55 L646,130.96" stroke="#e05858" stroke-width="8" fill="none" stroke-linecap="butt" stroke-linejoin="round" />
<path d="M333.4,101.68 L334.18,103.45 L334.96,105.24 L335.74,106.99 L336.53,108.63 L337.31,110.19 L338.09,111.72 L338.87,113.19 L339.65,114.59 L340.43,115.88 L341.21,117.05 L342,118.12 L342.78,119.12 L343.56,120 L344.34,120.71 L345.12,121.34 L345.9,121.93 L346.69,122.37 L347.47,122.54 L348.28,122.5 L349.09,122.41 L349.91,122.3 L350.72,122.21 L351.53,122.17 L352.42,122.36 L353.3,122.84 L354.19,123.53 L355.07,124.32 L355.96,125.12 L356.84,125.83 L357.65,126.44 L358.46,127.1 L359.27,127.8 L360.08,128.51 L360.89,129.22 L361.7,129.91 L362.51,130.56 L363.32,131.15 L364.13,131.68 L364.94,132.1 L365.75,132.42 L366.61,132.66 L367.47,132.86 L368.33,133.03 L369.19,133.19 L370.05,133.35 L370.91,133.52 L371.75,133.69 L372.59,133.87 L373.43,134.04 L374.27,134.21 L375.11,134.38 L375.95,134.57 L376.79,134.77 L377.63,134.98 L378.45,135.21 L379.27,135.45 L380.08,135.7 L380.9,135.97 L381.71,136.26 L382.53,136.56 L383.35,136.87 L384.16,137.2 L384.98,137.54 L385.77,137.9 L386.56,138.28 L387.35,138.69 L388.15,139.12 L388.94,139.57 L389.73,140.04 L390.52,140.52 L391.31,141.01 L392.11,141.51 L392.9,142.01 L393.69,142.51 L394.48,143.02 L395.27,143.52 L396.07,144.01 L396.86,144.5 L397.74,145.02 L398.63,145.53 L399.51,146.04 L400.4,146.58 L401.29,147.16 L402.17,147.79 L403.02,148.5 L403.86,149.32 L404.7,150.18 L405.55,151.04 L406.39,151.82 L407.25,152.54 L408.11,153.22 L408.97,153.88 L409.83,154.53 L410.69,155.18 L411.55,155.84" stroke="#6a9fd0" stroke-width="6" fill="none" stroke-linecap="round" stroke-linejoin="round" />
<circle cx="413.5" cy="157.3" r="3.6" stroke="#6a9fd0" stroke-width="1.3" fill="#fff" />
</g>
<line x1="333.4" y1="33.6" x2="646" y2="33.6" stroke="#555" stroke-width="1" />
<line x1="333.4" y1="180" x2="646" y2="180" stroke="#777" stroke-width="1.2" />
<line x1="333.4" y1="33.6" x2="333.4" y2="180" stroke="#777" stroke-width="1.2" />
<line x1="646" y1="33.6" x2="646" y2="180" stroke="#777" stroke-width="1.2" />
<line x1="333.4" y1="180" x2="330.4" y2="180" stroke="#777" stroke-width="1" />
<line x1="333.4" y1="143.4" x2="330.4" y2="143.4" stroke="#777" stroke-width="1" />
<line x1="333.4" y1="106.8" x2="330.4" y2="106.8" stroke="#777" stroke-width="1" />
<line x1="333.4" y1="70.2" x2="330.4" y2="70.2" stroke="#777" stroke-width="1" />
<line x1="333.4" y1="33.6" x2="330.4" y2="33.6" stroke="#777" stroke-width="1" />
<line x1="333.4" y1="161.7" x2="331.9" y2="161.7" stroke="#777" stroke-width="1" />
<line x1="333.4" y1="125.1" x2="331.9" y2="125.1" stroke="#777" stroke-width="1" />
<line x1="333.4" y1="88.5" x2="331.9" y2="88.5" stroke="#777" stroke-width="1" />
<line x1="333.4" y1="51.9" x2="331.9" y2="51.9" stroke="#777" stroke-width="1" />
<line x1="646" y1="180" x2="649" y2="180" stroke="#777" stroke-width="1" />
<line x1="646" y1="155.6" x2="649" y2="155.6" stroke="#777" stroke-width="1" />
<line x1="646" y1="131.2" x2="649" y2="131.2" stroke="#777" stroke-width="1" />
<line x1="646" y1="106.8" x2="649" y2="106.8" stroke="#777" stroke-width="1" />
<line x1="646" y1="82.4" x2="649" y2="82.4" stroke="#777" stroke-width="1" />
<line x1="646" y1="58" x2="649" y2="58" stroke="#777" stroke-width="1" />
<line x1="646" y1="33.6" x2="649" y2="33.6" stroke="#777" stroke-width="1" />
<line x1="646" y1="167.8" x2="647.5" y2="167.8" stroke="#777" stroke-width="1" />
<line x1="646" y1="143.4" x2="647.5" y2="143.4" stroke="#777" stroke-width="1" />
<line x1="646" y1="119" x2="647.5" y2="119" stroke="#777" stroke-width="1" />
<line x1="646" y1="94.6" x2="647.5" y2="94.6" stroke="#777" stroke-width="1" />
<line x1="646" y1="70.2" x2="647.5" y2="70.2" stroke="#777" stroke-width="1" />
<line x1="646" y1="45.8" x2="647.5" y2="45.8" stroke="#777" stroke-width="1" />
<line x1="333.4" y1="180" x2="333.4" y2="183" stroke="#777" stroke-width="1" />
<line x1="411.55" y1="180" x2="411.55" y2="183" stroke="#777" stroke-width="1" />
<line x1="489.7" y1="180" x2="489.7" y2="183" stroke="#777" stroke-width="1" />
<line x1="567.85" y1="180" x2="567.85" y2="183" stroke="#777" stroke-width="1" />
<line x1="646" y1="180" x2="646" y2="183" stroke="#777" stroke-width="1" />
<line x1="372.47" y1="180" x2="372.47" y2="181.5" stroke="#777" stroke-width="1" />
<line x1="450.62" y1="180" x2="450.62" y2="181.5" stroke="#777" stroke-width="1" />
<line x1="528.77" y1="180" x2="528.77" y2="181.5" stroke="#777" stroke-width="1" />
<line x1="606.92" y1="180" x2="606.92" y2="181.5" stroke="#777" stroke-width="1" />
<text x="329.5" y="183.6" font-size="10.6" text-anchor="end" fill="#1a1a1a" stroke="#1a1a1a" >0</text>
<text x="329.5" y="147" font-size="10.6" text-anchor="end" fill="#1a1a1a" stroke="#1a1a1a" >100</text>
<text x="329.5" y="110.4" font-size="10.6" text-anchor="end" fill="#1a1a1a" stroke="#1a1a1a" >200</text>
<text x="329.5" y="73.8" font-size="10.6" text-anchor="end" fill="#1a1a1a" stroke="#1a1a1a" >300</text>
<text x="329.5" y="37.2" font-size="10.6" text-anchor="end" fill="#1a1a1a" stroke="#1a1a1a" >400</text>
<text x="651.6" y="183.7" font-size="10.6" text-anchor="start" fill="#1a1a1a" stroke="#1a1a1a" >90</text>
<text x="651.6" y="159.3" font-size="10.6" text-anchor="start" fill="#1a1a1a" stroke="#1a1a1a" >92</text>
<text x="651.6" y="134.9" font-size="10.6" text-anchor="start" fill="#1a1a1a" stroke="#1a1a1a" >94</text>
<text x="651.6" y="110.5" font-size="10.6" text-anchor="start" fill="#1a1a1a" stroke="#1a1a1a" >96</text>
<text x="651.6" y="86.1" font-size="10.6" text-anchor="start" fill="#1a1a1a" stroke="#1a1a1a" >98</text>
<text x="651.6" y="61.7" font-size="10.6" text-anchor="start" fill="#1a1a1a" stroke="#1a1a1a" >100</text>
<text x="651.6" y="37.3" font-size="10.6" text-anchor="start" fill="#1a1a1a" stroke="#1a1a1a" >102</text>
<text x="333.4" y="193.2" font-size="10.6" text-anchor="middle" fill="#1a1a1a" stroke="#1a1a1a" >0</text>
<text x="411.55" y="193.2" font-size="10.6" text-anchor="middle" fill="#1a1a1a" stroke="#1a1a1a" >500</text>
<text x="489.7" y="193.2" font-size="10.6" text-anchor="middle" fill="#1a1a1a" stroke="#1a1a1a" >1000</text>
<text x="567.85" y="193.2" font-size="10.6" text-anchor="middle" fill="#1a1a1a" stroke="#1a1a1a" >1500</text>
<text x="646" y="193.2" font-size="10.6" text-anchor="middle" fill="#1a1a1a" stroke="#1a1a1a" >2000</text>
<text x="489" y="206.8" font-size="10.85" text-anchor="middle" fill="#1a1a1a" stroke="#1a1a1a" >Cycle number</text>
<text x="305.5" y="106.8" font-size="10.85" text-anchor="middle" fill="#1a1a1a" stroke="#1a1a1a" transform="rotate(-90 305.5 106.8)" >Capacity / mAh g<tspan font-size="7.38" dx="0.33" dy="-4.88">-1</tspan><tspan dy="4.88">&#8203;</tspan></text>
<text x="678.6" y="109" font-size="10.85" text-anchor="middle" fill="#1a1a1a" stroke="#1a1a1a" transform="rotate(-90 678.6 109)" >Coulombic efficiency / %</text>
<text x="298" y="28.8" font-size="12" text-anchor="start" fill="#1f1515" stroke="#1f1515" font-weight="bold" >c</text>
<line x1="522" y1="89" x2="540" y2="89" stroke="#e05858" stroke-width="1.6" />
<text x="552.4" y="93.2" font-size="10.95" text-anchor="start" fill="#1a1a1a" stroke="#1a1a1a" >5% TEP</text>
<line x1="522" y1="102.4" x2="540" y2="102.4" stroke="#6a9fd0" stroke-width="1.6" />
<text x="552.4" y="106.6" font-size="10.95" text-anchor="start" fill="#1a1a1a" stroke="#1a1a1a" >0% Addi</text>
<line x1="507.6" y1="157" x2="533" y2="157" stroke="#6a9fd0" stroke-width="1.3" />
<circle cx="520.2" cy="157" r="3.4" stroke="#6a9fd0" stroke-width="1.3" fill="#fff" />
<text x="535.4" y="161.2" font-size="10.95" text-anchor="start" fill="#1a1a1a" stroke="#1a1a1a" >Capacity</text>
<line x1="507.6" y1="170.4" x2="533" y2="170.4" stroke="#6a9fd0" stroke-width="1.3" />
<rect x="517.2" y="167.4" width="6" height="6" stroke="#6a9fd0" stroke-width="1.3" fill="#fff" />
<text x="535.4" y="174.6" font-size="10.95" text-anchor="start" fill="#1a1a1a" stroke="#1a1a1a" >Coulombic efficiency</text>
<polyline points="366,145.3 366,148.6 346,148.6" stroke="#111" stroke-width="1.1" fill="none" />
<polygon points="343,148.6 347.5,146.6 347.5,150.6" fill="#111" stroke="none" stroke-width="1" />
<polyline points="615,64.4 615,68 636,68" stroke="#111" stroke-width="1.1" fill="none" />
<polygon points="639,68 634.5,66 634.5,70" fill="#111" stroke="none" stroke-width="1" />
<line x1="39.2" y1="342.79" x2="240.3" y2="342.79" stroke="#bdbdbd" stroke-width="0.8" stroke-dasharray="1,1.6"/>
<line x1="39.2" y1="306.18" x2="240.3" y2="306.18" stroke="#bdbdbd" stroke-width="0.8" stroke-dasharray="1,1.6"/>
<line x1="39.2" y1="269.57" x2="240.3" y2="269.57" stroke="#bdbdbd" stroke-width="0.8" stroke-dasharray="1,1.6"/>
<clipPath id="cpb"><rect x="39.2" y="233.6" width="201.1" height="145.8"/></clipPath><g clip-path="url(#cpb)">
<path d="M39.2,257.5 L224,257.5" stroke="#6a9fd0" stroke-width="12.5" fill="none" stroke-linecap="butt" stroke-linejoin="round" />
<rect x="101.94" y="243.41" width="6.5" height="6.5" stroke="#6a9fd0" stroke-width="1.7" fill="none" />
<rect x="138.09" y="243.41" width="8" height="8" stroke="#6a9fd0" stroke-width="1.7" fill="#fff" />
<rect x="195.9" y="237.82" width="6" height="6" stroke="#6a9fd0" stroke-width="1.7" fill="#fff" />
<rect x="139.45" y="245.6" width="6" height="6" stroke="#6a9fd0" stroke-width="1.7" fill="#fff" />
<rect x="88.2" y="250.98" width="7" height="7" stroke="#6a9fd0" stroke-width="1.7" fill="none" />
<rect x="167.94" y="231.81" width="10" height="10" stroke="#6a9fd0" stroke-width="1.7" fill="none" />
<rect x="69.69" y="248.8" width="10" height="10" stroke="#6a9fd0" stroke-width="1.7" fill="none" />
<rect x="138.39" y="246.74" width="7" height="7" stroke="#6a9fd0" stroke-width="1.7" fill="none" />
<rect x="206.97" y="238.6" width="10" height="10" stroke="#6a9fd0" stroke-width="1.7" fill="none" />
<rect x="215.44" y="235" width="6.5" height="6.5" stroke="#6a9fd0" stroke-width="1.7" fill="#fff" />
<rect x="84.75" y="235.45" width="9" height="9" stroke="#6a9fd0" stroke-width="1.7" fill="none" />
<rect x="161.95" y="237.67" width="8" height="8" stroke="#6a9fd0" stroke-width="1.7" fill="none" />
<rect x="154.22" y="242.95" width="7" height="7" stroke="#6a9fd0" stroke-width="1.7" fill="none" />
<rect x="206.83" y="246.98" width="5" height="5" stroke="#6a9fd0" stroke-width="1.7" fill="none" />
<rect x="173.19" y="238.19" width="8" height="8" stroke="#6a9fd0" stroke-width="1.7" fill="none" />
<rect x="153.95" y="247.13" width="6" height="6" stroke="#6a9fd0" stroke-width="1.7" fill="none" />
<rect x="74.42" y="251.04" width="7" height="7" stroke="#6a9fd0" stroke-width="1.7" fill="#fff" />
<rect x="200.41" y="232.41" width="8" height="8" stroke="#6a9fd0" stroke-width="1.7" fill="none" />
<rect x="123.05" y="243.52" width="8" height="8" stroke="#6a9fd0" stroke-width="1.7" fill="none" />
<rect x="218.77" y="243.36" width="5" height="5" stroke="#6a9fd0" stroke-width="1.7" fill="#fff" />
<rect x="77.53" y="247.5" width="5" height="5" stroke="#6a9fd0" stroke-width="1.7" fill="none" />
<rect x="216.58" y="238.23" width="6.5" height="6.5" stroke="#6a9fd0" stroke-width="1.7" fill="#fff" />
<rect x="71.38" y="251.43" width="6.5" height="6.5" stroke="#6a9fd0" stroke-width="1.7" fill="none" />
<rect x="86.12" y="249.67" width="7" height="7" stroke="#6a9fd0" stroke-width="1.7" fill="none" />
<rect x="145.29" y="244.7" width="8" height="8" stroke="#6a9fd0" stroke-width="1.7" fill="none" />
<rect x="79.03" y="250.44" width="10" height="10" stroke="#6a9fd0" stroke-width="1.7" fill="none" />
<rect x="132.4" y="247.27" width="6" height="6" stroke="#6a9fd0" stroke-width="1.7" fill="none" />
<rect x="133.12" y="237.54" width="6.5" height="6.5" stroke="#6a9fd0" stroke-width="1.7" fill="none" />
<rect x="113.22" y="239.22" width="8" height="8" stroke="#6a9fd0" stroke-width="1.7" fill="none" />
<rect x="73.89" y="248.77" width="7" height="7" stroke="#6a9fd0" stroke-width="1.7" fill="none" />
<rect x="208.13" y="244.73" width="6.5" height="6.5" stroke="#6a9fd0" stroke-width="1.7" fill="none" />
<rect x="136.07" y="244.4" width="6.5" height="6.5" stroke="#6a9fd0" stroke-width="1.7" fill="#fff" />
<rect x="91.95" y="246.04" width="10" height="10" stroke="#6a9fd0" stroke-width="1.7" fill="none" />
<rect x="109.95" y="238.23" width="10" height="10" stroke="#6a9fd0" stroke-width="1.7" fill="none" />
<rect x="216.83" y="246.52" width="6" height="6" stroke="#6a9fd0" stroke-width="1.7" fill="#fff" />
<rect x="99.78" y="248.98" width="6" height="6" stroke="#6a9fd0" stroke-width="1.7" fill="#fff" />
<rect x="171.48" y="246.32" width="5" height="5" stroke="#6a9fd0" stroke-width="1.7" fill="#fff" />
<rect x="113.32" y="237.34" width="10" height="10" stroke="#6a9fd0" stroke-width="1.7" fill="#fff" />
<rect x="116.63" y="244.83" width="8" height="8" stroke="#6a9fd0" stroke-width="1.7" fill="none" />
<rect x="99.17" y="233.98" width="8" height="8" stroke="#6a9fd0" stroke-width="1.7" fill="none" />
<rect x="113.26" y="248.64" width="8" height="8" stroke="#6a9fd0" stroke-width="1.7" fill="#fff" />
<rect x="107.04" y="247.55" width="9" height="9" stroke="#6a9fd0" stroke-width="1.7" fill="#fff" />
<rect x="161.3" y="244.08" width="7" height="7" stroke="#6a9fd0" stroke-width="1.7" fill="#fff" />
<rect x="106.88" y="239.1" width="7" height="7" stroke="#6a9fd0" stroke-width="1.7" fill="#fff" />
<rect x="153.33" y="232.73" width="7" height="7" stroke="#6a9fd0" stroke-width="1.7" fill="#fff" />
<rect x="97.71" y="245.78" width="10" height="10" stroke="#6a9fd0" stroke-width="1.7" fill="none" />
<rect x="215.57" y="243.65" width="6" height="6" stroke="#6a9fd0" stroke-width="1.7" fill="none" />
<rect x="199.6" y="252.9" width="5" height="5" stroke="#6a9fd0" stroke-width="1.7" fill="none" />
<rect x="70.55" y="250.54" width="9" height="9" stroke="#6a9fd0" stroke-width="1.7" fill="none" />
<rect x="95.52" y="250.11" width="7" height="7" stroke="#6a9fd0" stroke-width="1.7" fill="none" />
<rect x="144.15" y="237.9" width="5" height="5" stroke="#6a9fd0" stroke-width="1.7" fill="none" />
<rect x="128.67" y="250.75" width="8" height="8" stroke="#6a9fd0" stroke-width="1.7" fill="#fff" />
<rect x="83.6" y="251.43" width="8" height="8" stroke="#6a9fd0" stroke-width="1.7" fill="none" />
<rect x="118.99" y="235.55" width="8" height="8" stroke="#6a9fd0" stroke-width="1.7" fill="none" />
<rect x="83.38" y="237.16" width="6.5" height="6.5" stroke="#6a9fd0" stroke-width="1.7" fill="none" />
<rect x="140.7" y="243.7" width="7" height="7" stroke="#6a9fd0" stroke-width="1.7" fill="#fff" />
<rect x="106.42" y="237.01" width="8" height="8" stroke="#6a9fd0" stroke-width="1.7" fill="none" />
<rect x="70.97" y="244.23" width="10" height="10" stroke="#6a9fd0" stroke-width="1.7" fill="#fff" />
<rect x="74.07" y="244.77" width="5" height="5" stroke="#6a9fd0" stroke-width="1.7" fill="#fff" />
<rect x="138.96" y="231.68" width="9" height="9" stroke="#6a9fd0" stroke-width="1.7" fill="#fff" />
<rect x="143.23" y="238.73" width="6.5" height="6.5" stroke="#6a9fd0" stroke-width="1.7" fill="#fff" />
<rect x="125.05" y="240.24" width="6.5" height="6.5" stroke="#6a9fd0" stroke-width="1.7" fill="none" />
<rect x="95.37" y="239.74" width="5" height="5" stroke="#6a9fd0" stroke-width="1.7" fill="#fff" />
<rect x="77.24" y="240.43" width="6.5" height="6.5" stroke="#6a9fd0" stroke-width="1.7" fill="none" />
<rect x="165.14" y="242.1" width="9" height="9" stroke="#6a9fd0" stroke-width="1.7" fill="none" />
<rect x="162.11" y="241.1" width="6.5" height="6.5" stroke="#6a9fd0" stroke-width="1.7" fill="none" />
<rect x="113.73" y="251.48" width="7" height="7" stroke="#6a9fd0" stroke-width="1.7" fill="none" />
<rect x="101.81" y="241.98" width="9" height="9" stroke="#6a9fd0" stroke-width="1.7" fill="none" />
<rect x="202.24" y="251.45" width="6.5" height="6.5" stroke="#6a9fd0" stroke-width="1.7" fill="none" />
<rect x="152.88" y="250.84" width="5" height="5" stroke="#6a9fd0" stroke-width="1.7" fill="none" />
<rect x="82.75" y="247.67" width="9" height="9" stroke="#6a9fd0" stroke-width="1.7" fill="none" />
<rect x="148.37" y="240.72" width="5" height="5" stroke="#6a9fd0" stroke-width="1.7" fill="none" />
<rect x="152.13" y="233.61" width="8" height="8" stroke="#6a9fd0" stroke-width="1.7" fill="none" />
<rect x="138.52" y="236.84" width="7" height="7" stroke="#6a9fd0" stroke-width="1.7" fill="#fff" />
<rect x="78.85" y="238.99" width="7" height="7" stroke="#6a9fd0" stroke-width="1.7" fill="#fff" />
<rect x="69.17" y="251.92" width="5" height="5" stroke="#6a9fd0" stroke-width="1.7" fill="#fff" />
<rect x="81.49" y="240.88" width="9" height="9" stroke="#6a9fd0" stroke-width="1.7" fill="none" />
<rect x="156.01" y="249.37" width="5" height="5" stroke="#6a9fd0" stroke-width="1.7" fill="none" />
<rect x="153.1" y="243.34" width="6" height="6" stroke="#6a9fd0" stroke-width="1.7" fill="#fff" />
<rect x="210.82" y="233.5" width="6.5" height="6.5" stroke="#6a9fd0" stroke-width="1.7" fill="none" />
<rect x="93.2" y="234.09" width="6" height="6" stroke="#6a9fd0" stroke-width="1.7" fill="none" />
<rect x="135.48" y="246.35" width="7" height="7" stroke="#6a9fd0" stroke-width="1.7" fill="#fff" />
<rect x="157.69" y="250.74" width="8" height="8" stroke="#6a9fd0" stroke-width="1.7" fill="none" />
<rect x="77.51" y="245" width="7" height="7" stroke="#6a9fd0" stroke-width="1.7" fill="none" />
<rect x="215.16" y="240.01" width="8" height="8" stroke="#6a9fd0" stroke-width="1.7" fill="none" />
<rect x="169.82" y="242.6" width="7" height="7" stroke="#6a9fd0" stroke-width="1.7" fill="#fff" />
<rect x="127.68" y="250.69" width="6" height="6" stroke="#6a9fd0" stroke-width="1.7" fill="#fff" />
<rect x="207.77" y="242.6" width="7" height="7" stroke="#6a9fd0" stroke-width="1.7" fill="none" />
<rect x="197.12" y="233.29" width="10" height="10" stroke="#6a9fd0" stroke-width="1.7" fill="#fff" />
<rect x="156.53" y="238.95" width="6" height="6" stroke="#6a9fd0" stroke-width="1.7" fill="none" />
<rect x="147.59" y="246.98" width="9" height="9" stroke="#6a9fd0" stroke-width="1.7" fill="none" />
<rect x="128.58" y="249" width="8" height="8" stroke="#6a9fd0" stroke-width="1.7" fill="none" />
<rect x="203.76" y="238.55" width="6.5" height="6.5" stroke="#6a9fd0" stroke-width="1.7" fill="none" />
<rect x="124.57" y="235.78" width="6.5" height="6.5" stroke="#6a9fd0" stroke-width="1.7" fill="#fff" />
<rect x="139.93" y="249.71" width="7" height="7" stroke="#6a9fd0" stroke-width="1.7" fill="none" />
<rect x="139.46" y="244.28" width="7" height="7" stroke="#6a9fd0" stroke-width="1.7" fill="none" />
<rect x="206.44" y="246.37" width="5" height="5" stroke="#6a9fd0" stroke-width="1.7" fill="none" />
<rect x="202.83" y="233.44" width="6" height="6" stroke="#6a9fd0" stroke-width="1.7" fill="none" />
<rect x="166.82" y="248.94" width="5" height="5" stroke="#6a9fd0" stroke-width="1.7" fill="none" />
<rect x="198.46" y="237.46" width="6" height="6" stroke="#6a9fd0" stroke-width="1.7" fill="none" />
<rect x="84.99" y="243.75" width="9" height="9" stroke="#6a9fd0" stroke-width="1.7" fill="none" />
<rect x="203.63" y="235.73" width="10" height="10" stroke="#6a9fd0" stroke-width="1.7" fill="#fff" />
<rect x="91.64" y="232.36" width="10" height="10" stroke="#6a9fd0" stroke-width="1.7" fill="#fff" />
<rect x="79.23" y="250.26" width="6.5" height="6.5" stroke="#6a9fd0" stroke-width="1.7" fill="#fff" />
<rect x="135.45" y="247.3" width="6.5" height="6.5" stroke="#6a9fd0" stroke-width="1.7" fill="#fff" />
<rect x="116.83" y="240.94" width="7" height="7" stroke="#6a9fd0" stroke-width="1.7" fill="#fff" />
<rect x="165.2" y="247.22" width="7" height="7" stroke="#6a9fd0" stroke-width="1.7" fill="none" />
<rect x="149.83" y="234.69" width="6.5" height="6.5" stroke="#6a9fd0" stroke-width="1.7" fill="#fff" />
<rect x="131.61" y="240.49" width="8" height="8" stroke="#6a9fd0" stroke-width="1.7" fill="none" />
<rect x="79.9" y="251.87" width="6.5" height="6.5" stroke="#6a9fd0" stroke-width="1.7" fill="none" />
<rect x="121.09" y="240.23" width="9" height="9" stroke="#6a9fd0" stroke-width="1.7" fill="none" />
<rect x="166.98" y="248.77" width="6.5" height="6.5" stroke="#6a9fd0" stroke-width="1.7" fill="#fff" />
<rect x="211.62" y="238.44" width="8" height="8" stroke="#6a9fd0" stroke-width="1.7" fill="none" />
<rect x="82.46" y="242.37" width="6.5" height="6.5" stroke="#6a9fd0" stroke-width="1.7" fill="#fff" />
<rect x="109.52" y="245.92" width="9" height="9" stroke="#6a9fd0" stroke-width="1.7" fill="#fff" />
<rect x="165.92" y="245.43" width="6" height="6" stroke="#6a9fd0" stroke-width="1.7" fill="none" />
<rect x="209.29" y="242.31" width="5" height="5" stroke="#6a9fd0" stroke-width="1.7" fill="none" />
<rect x="85.6" y="237.8" width="9" height="9" stroke="#6a9fd0" stroke-width="1.7" fill="none" />
<rect x="130.67" y="238.66" width="6" height="6" stroke="#6a9fd0" stroke-width="1.7" fill="none" />
<rect x="114.33" y="236.62" width="5" height="5" stroke="#6a9fd0" stroke-width="1.7" fill="#fff" />
<rect x="92.33" y="242.85" width="8" height="8" stroke="#6a9fd0" stroke-width="1.7" fill="none" />
<rect x="120.65" y="237.45" width="7" height="7" stroke="#6a9fd0" stroke-width="1.7" fill="#fff" />
<rect x="86.09" y="242.06" width="6.5" height="6.5" stroke="#6a9fd0" stroke-width="1.7" fill="#fff" />
<rect x="119.85" y="238.82" width="7" height="7" stroke="#6a9fd0" stroke-width="1.7" fill="none" />
<rect x="197.12" y="234.55" width="6.5" height="6.5" stroke="#6a9fd0" stroke-width="1.7" fill="none" />
<rect x="170.02" y="242.57" width="9" height="9" stroke="#6a9fd0" stroke-width="1.7" fill="#fff" />
<rect x="172.62" y="242.63" width="9" height="9" stroke="#6a9fd0" stroke-width="1.7" fill="none" />
<rect x="158.01" y="248.12" width="10" height="10" stroke="#6a9fd0" stroke-width="1.7" fill="#fff" />
<rect x="147.46" y="244.15" width="6" height="6" stroke="#6a9fd0" stroke-width="1.7" fill="none" />
<rect x="120.77" y="236.51" width="10" height="10" stroke="#6a9fd0" stroke-width="1.7" fill="none" />
<rect x="203.79" y="251.46" width="7" height="7" stroke="#6a9fd0" stroke-width="1.7" fill="#fff" />
<rect x="206.13" y="238.35" width="7" height="7" stroke="#6a9fd0" stroke-width="1.7" fill="none" />
<rect x="170.32" y="236.64" width="10" height="10" stroke="#6a9fd0" stroke-width="1.7" fill="none" />
<rect x="68.22" y="243.4" width="9" height="9" stroke="#6a9fd0" stroke-width="1.7" fill="#fff" />
<rect x="167.46" y="241.58" width="8" height="8" stroke="#6a9fd0" stroke-width="1.7" fill="none" />
<rect x="96.09" y="248.53" width="6" height="6" stroke="#6a9fd0" stroke-width="1.7" fill="#fff" />
<rect x="142.72" y="245.24" width="7" height="7" stroke="#6a9fd0" stroke-width="1.7" fill="#fff" />
<rect x="109.27" y="245.98" width="6" height="6" stroke="#6a9fd0" stroke-width="1.7" fill="#fff" />
<rect x="162.17" y="233.29" width="6.5" height="6.5" stroke="#6a9fd0" stroke-width="1.7" fill="none" />
<rect x="144.58" y="243.22" width="5" height="5" stroke="#6a9fd0" stroke-width="1.7" fill="none" />
<rect x="114" y="248.85" width="9" height="9" stroke="#6a9fd0" stroke-width="1.7" fill="none" />
<rect x="75.58" y="248.59" width="10" height="10" stroke="#6a9fd0" stroke-width="1.7" fill="none" />
<rect x="197.65" y="239.46" width="10" height="10" stroke="#6a9fd0" stroke-width="1.7" fill="#fff" />
<rect x="113.86" y="248.13" width="7" height="7" stroke="#6a9fd0" stroke-width="1.7" fill="#fff" />
<rect x="95.81" y="235.3" width="7" height="7" stroke="#6a9fd0" stroke-width="1.7" fill="none" />
<rect x="75.63" y="250.78" width="6" height="6" stroke="#6a9fd0" stroke-width="1.7" fill="none" />
<rect x="110.62" y="240.02" width="10" height="10" stroke="#6a9fd0" stroke-width="1.7" fill="none" />
<rect x="134.02" y="242.34" width="5" height="5" stroke="#6a9fd0" stroke-width="1.7" fill="none" />
<rect x="121.35" y="239.1" width="8" height="8" stroke="#6a9fd0" stroke-width="1.7" fill="none" />
<rect x="125.8" y="250.38" width="10" height="10" stroke="#6a9fd0" stroke-width="1.7" fill="#fff" />
<rect x="87.43" y="241.93" width="6" height="6" stroke="#6a9fd0" stroke-width="1.7" fill="#fff" />
<rect x="91.8" y="233.56" width="5" height="5" stroke="#6a9fd0" stroke-width="1.7" fill="none" />
<rect x="132.2" y="234.29" width="10" height="10" stroke="#6a9fd0" stroke-width="1.7" fill="#fff" />
<rect x="133.53" y="239.36" width="9" height="9" stroke="#6a9fd0" stroke-width="1.7" fill="none" />
<rect x="101.89" y="232.8" width="7" height="7" stroke="#6a9fd0" stroke-width="1.7" fill="#fff" />
<rect x="216.41" y="237.49" width="5" height="5" stroke="#6a9fd0" stroke-width="1.7" fill="none" />
<rect x="95.3" y="239.83" width="5" height="5" stroke="#6a9fd0" stroke-width="1.7" fill="#fff" />
<rect x="82.87" y="232.06" width="9" height="9" stroke="#6a9fd0" stroke-width="1.7" fill="#fff" />
<rect x="210.82" y="238.66" width="6" height="6" stroke="#6a9fd0" stroke-width="1.7" fill="none" />
<rect x="69.46" y="246.12" width="6.5" height="6.5" stroke="#6a9fd0" stroke-width="1.7" fill="#fff" />
<rect x="74.37" y="247.85" width="5" height="5" stroke="#6a9fd0" stroke-width="1.7" fill="none" />
<rect x="73.18" y="249.29" width="6.5" height="6.5" stroke="#6a9fd0" stroke-width="1.7" fill="#fff" />
<rect x="138.31" y="238.21" width="9" height="9" stroke="#6a9fd0" stroke-width="1.7" fill="#fff" />
<rect x="112.13" y="244.44" width="7" height="7" stroke="#6a9fd0" stroke-width="1.7" fill="#fff" />
<rect x="111.36" y="250.42" width="5" height="5" stroke="#6a9fd0" stroke-width="1.7" fill="none" />
<rect x="148.54" y="241.5" width="10" height="10" stroke="#6a9fd0" stroke-width="1.7" fill="none" />
<rect x="90.79" y="246.17" width="9" height="9" stroke="#6a9fd0" stroke-width="1.7" fill="none" />
<rect x="211.55" y="239.86" width="6" height="6" stroke="#6a9fd0" stroke-width="1.7" fill="none" />
<rect x="127.82" y="235.2" width="10" height="10" stroke="#6a9fd0" stroke-width="1.7" fill="none" />
<rect x="117.95" y="248.33" width="8" height="8" stroke="#6a9fd0" stroke-width="1.7" fill="none" />
<rect x="159.17" y="246.57" width="7" height="7" stroke="#6a9fd0" stroke-width="1.7" fill="none" />
<rect x="69.68" y="242.72" width="10" height="10" stroke="#6a9fd0" stroke-width="1.7" fill="#fff" />
<rect x="136.48" y="246.55" width="9" height="9" stroke="#6a9fd0" stroke-width="1.7" fill="none" />
<rect x="113.03" y="242.81" width="10" height="10" stroke="#6a9fd0" stroke-width="1.7" fill="none" />
<rect x="201.81" y="249.88" width="7" height="7" stroke="#6a9fd0" stroke-width="1.7" fill="none" />
<rect x="200.54" y="245.51" width="6.5" height="6.5" stroke="#6a9fd0" stroke-width="1.7" fill="#fff" />
<rect x="95.95" y="249.13" width="5" height="5" stroke="#6a9fd0" stroke-width="1.7" fill="#fff" />
<rect x="111.66" y="239.73" width="10" height="10" stroke="#6a9fd0" stroke-width="1.7" fill="none" />
<rect x="102.62" y="233.5" width="6" height="6" stroke="#6a9fd0" stroke-width="1.7" fill="none" />
<rect x="87.87" y="253.2" width="5" height="5" stroke="#6a9fd0" stroke-width="1.7" fill="#fff" />
<rect x="215.18" y="236.01" width="8" height="8" stroke="#6a9fd0" stroke-width="1.7" fill="none" />
<rect x="143.67" y="250.85" width="6.5" height="6.5" stroke="#6a9fd0" stroke-width="1.7" fill="none" />
<rect x="148.65" y="236.36" width="6" height="6" stroke="#6a9fd0" stroke-width="1.7" fill="none" />
<rect x="70.46" y="250.06" width="8" height="8" stroke="#6a9fd0" stroke-width="1.7" fill="#fff" />
<rect x="215.8" y="236.33" width="6.5" height="6.5" stroke="#6a9fd0" stroke-width="1.7" fill="#fff" />
<rect x="135.72" y="235.07" width="10" height="10" stroke="#6a9fd0" stroke-width="1.7" fill="none" />
<rect x="80.51" y="240.95" width="9" height="9" stroke="#6a9fd0" stroke-width="1.7" fill="none" />
<rect x="118.59" y="244.36" width="7" height="7" stroke="#6a9fd0" stroke-width="1.7" fill="none" />
<rect x="110.12" y="251.37" width="7" height="7" stroke="#6a9fd0" stroke-width="1.7" fill="none" />
<rect x="96.7" y="243.05" width="7" height="7" stroke="#6a9fd0" stroke-width="1.7" fill="#fff" />
<rect x="165.45" y="239.5" width="6" height="6" stroke="#6a9fd0" stroke-width="1.7" fill="none" />
<rect x="74.68" y="244.79" width="9" height="9" stroke="#6a9fd0" stroke-width="1.7" fill="none" />
<rect x="75.47" y="245.78" width="6" height="6" stroke="#6a9fd0" stroke-width="1.7" fill="none" />
<rect x="133.37" y="237.39" width="6.5" height="6.5" stroke="#6a9fd0" stroke-width="1.7" fill="#fff" />
<rect x="208.5" y="245.39" width="10" height="10" stroke="#6a9fd0" stroke-width="1.7" fill="none" />
<rect x="135.45" y="245.08" width="10" height="10" stroke="#6a9fd0" stroke-width="1.7" fill="none" />
<rect x="212.68" y="250.51" width="7" height="7" stroke="#6a9fd0" stroke-width="1.7" fill="none" />
<rect x="129.11" y="253.44" width="5" height="5" stroke="#6a9fd0" stroke-width="1.7" fill="#fff" />
<rect x="211.51" y="236.78" width="5" height="5" stroke="#6a9fd0" stroke-width="1.7" fill="#fff" />
<rect x="89.05" y="243.32" width="5" height="5" stroke="#6a9fd0" stroke-width="1.7" fill="none" />
<rect x="71.09" y="250.2" width="6.5" height="6.5" stroke="#6a9fd0" stroke-width="1.7" fill="none" />
<rect x="70.88" y="247.68" width="6" height="6" stroke="#6a9fd0" stroke-width="1.7" fill="none" />
<rect x="109.66" y="234.37" width="6.5" height="6.5" stroke="#6a9fd0" stroke-width="1.7" fill="none" />
<rect x="133.87" y="236.21" width="7" height="7" stroke="#6a9fd0" stroke-width="1.7" fill="none" />
<rect x="201.94" y="240.14" width="6" height="6" stroke="#6a9fd0" stroke-width="1.7" fill="none" />
<rect x="210.92" y="241.22" width="8" height="8" stroke="#6a9fd0" stroke-width="1.7" fill="#fff" />
<rect x="215.01" y="238.91" width="5" height="5" stroke="#6a9fd0" stroke-width="1.7" fill="none" />
<rect x="203.36" y="248.8" width="6.5" height="6.5" stroke="#6a9fd0" stroke-width="1.7" fill="none" />
<rect x="210.88" y="243.65" width="5" height="5" stroke="#6a9fd0" stroke-width="1.7" fill="#fff" />
<rect x="147.97" y="243.48" width="6" height="6" stroke="#6a9fd0" stroke-width="1.7" fill="none" />
<rect x="135.8" y="250.58" width="10" height="10" stroke="#6a9fd0" stroke-width="1.7" fill="none" />
<rect x="151.38" y="242.55" width="6" height="6" stroke="#6a9fd0" stroke-width="1.7" fill="#fff" />
<rect x="133.08" y="239.93" width="5" height="5" stroke="#6a9fd0" stroke-width="1.7" fill="none" />
<rect x="103.14" y="248.44" width="7" height="7" stroke="#6a9fd0" stroke-width="1.7" fill="none" />
<rect x="118.57" y="233.6" width="5" height="5" stroke="#6a9fd0" stroke-width="1.7" fill="none" />
<rect x="168.54" y="249.21" width="10" height="10" stroke="#6a9fd0" stroke-width="1.7" fill="none" />
<rect x="212.04" y="245.74" width="10" height="10" stroke="#6a9fd0" stroke-width="1.7" fill="none" />
<rect x="143.53" y="248.54" width="8" height="8" stroke="#6a9fd0" stroke-width="1.7" fill="#fff" />
<rect x="165.02" y="250.39" width="7" height="7" stroke="#6a9fd0" stroke-width="1.7" fill="none" />
<rect x="167.02" y="249.54" width="10" height="10" stroke="#6a9fd0" stroke-width="1.7" fill="none" />
<rect x="144.03" y="238.61" width="9" height="9" stroke="#6a9fd0" stroke-width="1.7" fill="#fff" />
<rect x="91.59" y="244.52" width="10" height="10" stroke="#6a9fd0" stroke-width="1.7" fill="none" />
<rect x="128.29" y="239.21" width="7" height="7" stroke="#6a9fd0" stroke-width="1.7" fill="#fff" />
<rect x="103.95" y="237.3" width="8" height="8" stroke="#6a9fd0" stroke-width="1.7" fill="#fff" />
<rect x="113.72" y="242.7" width="7" height="7" stroke="#6a9fd0" stroke-width="1.7" fill="none" />
<rect x="100.03" y="240.91" width="8" height="8" stroke="#6a9fd0" stroke-width="1.7" fill="none" />
<rect x="68.78" y="247.75" width="8" height="8" stroke="#6a9fd0" stroke-width="1.7" fill="#fff" />
<rect x="82.57" y="246.6" width="10" height="10" stroke="#6a9fd0" stroke-width="1.7" fill="none" />
<rect x="80.76" y="245.96" width="6.5" height="6.5" stroke="#6a9fd0" stroke-width="1.7" fill="#fff" />
<rect x="139.12" y="245.93" width="10" height="10" stroke="#6a9fd0" stroke-width="1.7" fill="none" />
<rect x="95.49" y="251.37" width="6" height="6" stroke="#6a9fd0" stroke-width="1.7" fill="none" />
<rect x="212.66" y="241.13" width="5" height="5" stroke="#6a9fd0" stroke-width="1.7" fill="#fff" />
<rect x="213.22" y="251.6" width="6.5" height="6.5" stroke="#6a9fd0" stroke-width="1.7" fill="none" />
<rect x="151.27" y="232.73" width="7" height="7" stroke="#6a9fd0" stroke-width="1.7" fill="#fff" />
<rect x="218.2" y="234.12" width="6" height="6" stroke="#6a9fd0" stroke-width="1.7" fill="none" />
<rect x="172.63" y="233.36" width="9" height="9" stroke="#6a9fd0" stroke-width="1.7" fill="none" />
<rect x="164.14" y="249.77" width="5" height="5" stroke="#6a9fd0" stroke-width="1.7" fill="none" />
<rect x="216.79" y="246.19" width="7" height="7" stroke="#6a9fd0" stroke-width="1.7" fill="#fff" />
<rect x="139.47" y="236.99" width="8" height="8" stroke="#6a9fd0" stroke-width="1.7" fill="none" />
<rect x="92.3" y="242.48" width="6" height="6" stroke="#6a9fd0" stroke-width="1.7" fill="#fff" />
<rect x="206.03" y="235.65" width="7" height="7" stroke="#6a9fd0" stroke-width="1.7" fill="none" />
<rect x="166.62" y="235.92" width="5" height="5" stroke="#6a9fd0" stroke-width="1.7" fill="#fff" />
<rect x="161.44" y="237.38" width="9" height="9" stroke="#6a9fd0" stroke-width="1.7" fill="none" />
<rect x="201.73" y="233.5" width="6" height="6" stroke="#6a9fd0" stroke-width="1.7" fill="none" />
<rect x="124.27" y="234.19" width="7" height="7" stroke="#6a9fd0" stroke-width="1.7" fill="#fff" />
<rect x="69.61" y="244.54" width="5" height="5" stroke="#6a9fd0" stroke-width="1.7" fill="#fff" />
<rect x="83.84" y="238.72" width="8" height="8" stroke="#6a9fd0" stroke-width="1.7" fill="#fff" />
<rect x="95.01" y="251.76" width="6" height="6" stroke="#6a9fd0" stroke-width="1.7" fill="none" />
<rect x="102.94" y="239.26" width="7" height="7" stroke="#6a9fd0" stroke-width="1.7" fill="#fff" />
<rect x="195.87" y="240.69" width="9" height="9" stroke="#6a9fd0" stroke-width="1.7" fill="#fff" />
<rect x="152.91" y="241.01" width="8" height="8" stroke="#6a9fd0" stroke-width="1.7" fill="#fff" />
<rect x="87.81" y="241.35" width="7" height="7" stroke="#6a9fd0" stroke-width="1.7" fill="#fff" />
<rect x="155.89" y="249.62" width="10" height="10" stroke="#6a9fd0" stroke-width="1.7" fill="none" />
<rect x="112" y="250.1" width="6" height="6" stroke="#6a9fd0" stroke-width="1.7" fill="#fff" />
<rect x="195.28" y="234.17" width="8" height="8" stroke="#6a9fd0" stroke-width="1.7" fill="none" />
<rect x="129.47" y="250.89" width="5" height="5" stroke="#6a9fd0" stroke-width="1.7" fill="none" />
<rect x="89.19" y="234.51" width="7" height="7" stroke="#6a9fd0" stroke-width="1.7" fill="none" />
<rect x="170.14" y="241.27" width="10" height="10" stroke="#6a9fd0" stroke-width="1.7" fill="#fff" />
<rect x="137.18" y="244.16" width="6.5" height="6.5" stroke="#6a9fd0" stroke-width="1.7" fill="#fff" />
<rect x="157.84" y="238.12" width="8" height="8" stroke="#6a9fd0" stroke-width="1.7" fill="none" />
<rect x="163.02" y="243.12" width="9" height="9" stroke="#6a9fd0" stroke-width="1.7" fill="none" />
<rect x="172.67" y="239.25" width="6.5" height="6.5" stroke="#6a9fd0" stroke-width="1.7" fill="#fff" />
<rect x="82.75" y="241.27" width="9" height="9" stroke="#6a9fd0" stroke-width="1.7" fill="none" />
<rect x="103.61" y="241.16" width="6.5" height="6.5" stroke="#6a9fd0" stroke-width="1.7" fill="none" />
<rect x="137.69" y="241.39" width="10" height="10" stroke="#6a9fd0" stroke-width="1.7" fill="#fff" />
<rect x="160.96" y="242.18" width="8" height="8" stroke="#6a9fd0" stroke-width="1.7" fill="#fff" />
<rect x="129.25" y="242.77" width="8" height="8" stroke="#6a9fd0" stroke-width="1.7" fill="none" />
<rect x="73.78" y="251.04" width="7" height="7" stroke="#6a9fd0" stroke-width="1.7" fill="#fff" />
<rect x="77.19" y="246.21" width="5" height="5" stroke="#6a9fd0" stroke-width="1.7" fill="none" />
<rect x="201.15" y="239.34" width="10" height="10" stroke="#6a9fd0" stroke-width="1.7" fill="none" />
<rect x="152.34" y="232.49" width="6.5" height="6.5" stroke="#6a9fd0" stroke-width="1.7" fill="none" />
<rect x="125.87" y="238.64" width="9" height="9" stroke="#6a9fd0" stroke-width="1.7" fill="none" />
<rect x="81.04" y="242.4" width="6.5" height="6.5" stroke="#6a9fd0" stroke-width="1.7" fill="#fff" />
<rect x="122.98" y="245.1" width="6" height="6" stroke="#6a9fd0" stroke-width="1.7" fill="none" />
<rect x="97.69" y="241.42" width="6" height="6" stroke="#6a9fd0" stroke-width="1.7" fill="#fff" />
<rect x="148.21" y="250.39" width="8" height="8" stroke="#6a9fd0" stroke-width="1.7" fill="none" />
<rect x="119.89" y="245.28" width="10" height="10" stroke="#6a9fd0" stroke-width="1.7" fill="none" />
<rect x="134.49" y="246.99" width="5" height="5" stroke="#6a9fd0" stroke-width="1.7" fill="none" />
<rect x="210.01" y="237.11" width="6" height="6" stroke="#6a9fd0" stroke-width="1.7" fill="none" />
<rect x="107.82" y="234.39" width="10" height="10" stroke="#6a9fd0" stroke-width="1.7" fill="#fff" />
<rect x="200.94" y="239.33" width="10" height="10" stroke="#6a9fd0" stroke-width="1.7" fill="none" />
<rect x="138.88" y="235.37" width="6" height="6" stroke="#6a9fd0" stroke-width="1.7" fill="none" />
<rect x="131.08" y="243.89" width="9" height="9" stroke="#6a9fd0" stroke-width="1.7" fill="#fff" />
<rect x="108.35" y="244.13" width="9" height="9" stroke="#6a9fd0" stroke-width="1.7" fill="none" />
<rect x="76.06" y="242.63" width="10" height="10" stroke="#6a9fd0" stroke-width="1.7" fill="none" />
<rect x="114.94" y="249.67" width="6.5" height="6.5" stroke="#6a9fd0" stroke-width="1.7" fill="none" />
<rect x="128.97" y="248.84" width="10" height="10" stroke="#6a9fd0" stroke-width="1.7" fill="none" />
<rect x="165.68" y="250.57" width="6" height="6" stroke="#6a9fd0" stroke-width="1.7" fill="none" />
<rect x="97.06" y="241.03" width="5" height="5" stroke="#6a9fd0" stroke-width="1.7" fill="#fff" />
<rect x="144.97" y="250.01" width="8" height="8" stroke="#6a9fd0" stroke-width="1.7" fill="none" />
<rect x="154.7" y="234.25" width="6" height="6" stroke="#6a9fd0" stroke-width="1.7" fill="none" />
<rect x="193.34" y="250.82" width="7" height="7" stroke="#6a9fd0" stroke-width="1.7" fill="#fff" />
<rect x="100.17" y="244" width="6.5" height="6.5" stroke="#6a9fd0" stroke-width="1.7" fill="none" />
<rect x="84.77" y="242.4" width="8" height="8" stroke="#6a9fd0" stroke-width="1.7" fill="none" />
<rect x="113.21" y="249.13" width="8" height="8" stroke="#6a9fd0" stroke-width="1.7" fill="none" />
<rect x="96.32" y="233.23" width="7" height="7" stroke="#6a9fd0" stroke-width="1.7" fill="none" />
<rect x="161.41" y="240.62" width="10" height="10" stroke="#6a9fd0" stroke-width="1.7" fill="#fff" />
<rect x="194.1" y="252.22" width="5" height="5" stroke="#6a9fd0" stroke-width="1.7" fill="none" />
<rect x="143.09" y="249.52" width="6.5" height="6.5" stroke="#6a9fd0" stroke-width="1.7" fill="#fff" />
<rect x="70.39" y="247.49" width="7" height="7" stroke="#6a9fd0" stroke-width="1.7" fill="none" />
<rect x="171.42" y="247.45" width="6" height="6" stroke="#6a9fd0" stroke-width="1.7" fill="none" />
<rect x="125.58" y="235.89" width="6.5" height="6.5" stroke="#6a9fd0" stroke-width="1.7" fill="#fff" />
<rect x="71.76" y="251.16" width="9" height="9" stroke="#6a9fd0" stroke-width="1.7" fill="#fff" />
<rect x="98.45" y="240.56" width="8" height="8" stroke="#6a9fd0" stroke-width="1.7" fill="#fff" />
<rect x="138.49" y="234.79" width="10" height="10" stroke="#6a9fd0" stroke-width="1.7" fill="none" />
<rect x="158.24" y="234.1" width="10" height="10" stroke="#6a9fd0" stroke-width="1.7" fill="none" />
<rect x="158.54" y="241.2" width="6" height="6" stroke="#6a9fd0" stroke-width="1.7" fill="none" />
<rect x="132.14" y="231.65" width="10" height="10" stroke="#6a9fd0" stroke-width="1.7" fill="none" />
<rect x="136.45" y="232.87" width="6" height="6" stroke="#6a9fd0" stroke-width="1.7" fill="#fff" />
<rect x="205.46" y="246.56" width="6" height="6" stroke="#6a9fd0" stroke-width="1.7" fill="none" />
<rect x="142.75" y="241.95" width="7" height="7" stroke="#6a9fd0" stroke-width="1.7" fill="none" />
<rect x="139.01" y="234.66" width="9" height="9" stroke="#6a9fd0" stroke-width="1.7" fill="none" />
<rect x="199.85" y="235.21" width="6.5" height="6.5" stroke="#6a9fd0" stroke-width="1.7" fill="#fff" />
<rect x="147.04" y="249.44" width="7" height="7" stroke="#6a9fd0" stroke-width="1.7" fill="none" />
<rect x="88.5" y="251.15" width="6.5" height="6.5" stroke="#6a9fd0" stroke-width="1.7" fill="none" />
<rect x="156.09" y="249.39" width="6" height="6" stroke="#6a9fd0" stroke-width="1.7" fill="none" />
<rect x="173.72" y="251.5" width="8" height="8" stroke="#6a9fd0" stroke-width="1.7" fill="#fff" />
<rect x="203.44" y="249.63" width="8" height="8" stroke="#6a9fd0" stroke-width="1.7" fill="#fff" />
<rect x="127.61" y="249.94" width="9" height="9" stroke="#6a9fd0" stroke-width="1.7" fill="#fff" />
<rect x="131.08" y="240.09" width="6" height="6" stroke="#6a9fd0" stroke-width="1.7" fill="#fff" />
<rect x="173.54" y="243.53" width="7" height="7" stroke="#6a9fd0" stroke-width="1.7" fill="none" />
<rect x="114.15" y="234.32" width="9" height="9" stroke="#6a9fd0" stroke-width="1.7" fill="none" />
<rect x="149.09" y="241.54" width="7" height="7" stroke="#6a9fd0" stroke-width="1.7" fill="none" />
<rect x="121.16" y="246.34" width="8" height="8" stroke="#6a9fd0" stroke-width="1.7" fill="none" />
<rect x="160" y="266.5" width="5" height="5" stroke="#6a9fd0" stroke-width="1.3" fill="#fff" />
<rect x="213" y="261.5" width="5" height="5" stroke="#6a9fd0" stroke-width="1.3" fill="#fff" />
<rect x="222.6" y="262.5" width="5" height="5" stroke="#6a9fd0" stroke-width="1.3" fill="#fff" />
<rect x="201.7" y="260" width="5" height="5" stroke="#6a9fd0" stroke-width="1.3" fill="#fff" />
<rect x="37.3" y="272.5" width="5" height="5" stroke="#6a9fd0" stroke-width="1.3" fill="#fff" />
<rect x="91.5" y="260.5" width="5" height="5" stroke="#6a9fd0" stroke-width="1.3" fill="#fff" />
<rect x="55.5" y="261.5" width="5" height="5" stroke="#6a9fd0" stroke-width="1.3" fill="#fff" />
<path d="M39.2,257.7 L240.3,257.7" stroke="#e05858" stroke-width="9.6" fill="none" stroke-linecap="butt" stroke-linejoin="round" />
<rect x="53.6" y="250.5" width="5" height="5" stroke="#e05858" stroke-width="1.3" fill="none" />
<rect x="53.6" y="259.5" width="5" height="5" stroke="#e05858" stroke-width="1.3" fill="none" />
<rect x="110" y="250.5" width="5" height="5" stroke="#e05858" stroke-width="1.3" fill="none" />
<rect x="110" y="259.5" width="5" height="5" stroke="#e05858" stroke-width="1.3" fill="none" />
<rect x="229.8" y="252" width="5" height="5" stroke="#e05858" stroke-width="1.3" fill="none" />
<rect x="187.5" y="251" width="5" height="5" stroke="#e05858" stroke-width="1.3" fill="none" />
<circle cx="40.5" cy="248.5" r="3" stroke="#e05858" stroke-width="1.3" fill="#fff" />
<path d="M39.2,293.52 L40.54,293.59 L41.88,294.45 L43.22,294.02 L44.56,294.88 L45.9,295.04 L47.24,295.16 L48.58,296.32 L49.92,296.47 L51.27,297.69 L52.61,297.98 L53.95,298.7 L55.29,299.8 L56.63,301.01 L57.97,300.91 L59.31,301.82 L60.65,303.17 L61.99,304.51 L63.33,305.05 L64.67,305.81 L66.01,307.41 L67.35,307.1 L68.69,308.76 L70.03,308.7 L71.37,309.1 L72.72,309.63 L74.06,310.44 L75.4,311.68 L76.74,311.64 L78.08,312.91 L79.42,313.77 L80.76,314.19 L82.1,315.02 L83.55,315.01 L84.99,315.53 L86.44,316.2 L87.89,317.24 L89.34,317.37 L90.79,317.65 L92.23,318.37 L93.68,318.59 L95.13,318.77 L96.58,319.71 L98.05,319.94 L99.51,319.73 L100.98,320.44 L102.45,320.69 L103.92,321.4 L105.39,321.51 L106.85,321.25 L108.32,322.35 L109.79,321.58 L111.26,322.19 L112.72,322.85 L114.18,322.37 L115.64,323.02 L117.1,322.71 L118.56,323.7 L120.02,324.04 L121.49,324.02 L122.95,324.58 L124.41,324.09 L125.87,324.72 L127.26,324.75 L128.64,324.89 L130.03,324.89 L131.41,325.49 L132.8,325.75 L134.18,325.3 L135.57,325.63 L136.95,324.99 L138.34,325.83 L139.74,325.81 L141.14,326.26 L142.54,326.08 L143.95,325.46 L145.35,325.6 L146.75,325.96 L148.15,325.2 L149.55,325.75 L150.96,325.42 L152.36,325.4 L153.76,325.37 L155.16,326.27 L156.59,325.62 L158.01,325.98 L159.44,326.44 L160.86,327.35 L162.28,326.75 L163.71,327.54 L165.13,327.96 L166.56,328.61 L167.95,328.72 L169.35,328.95 L170.75,328.41 L172.14,328.74 L173.54,328.82 L174.94,329.59 L176.33,329.82 L177.73,328.99 L179.13,329.16 L180.52,329.36 L181.92,329.51 L183.31,329.96 L184.75,330.24 L186.19,330.01 L187.62,329.85 L189.06,330.51 L190.5,330.6 L191.93,331 L193.37,331.62 L194.71,331.45 L196.05,331.38 L197.39,331.64 L198.73,331.85 L200.07,331.24 L201.41,332.39 L202.75,332.38 L204.09,332.64 L205.43,332.69 L206.78,332.34 L208.12,332.5 L209.46,332.3 L210.8,333.1 L212.14,332.57 L213.48,332.75 L214.82,333.11 L216.16,333.25 L217.5,333.67 L218.84,333.55 L220.18,333.7 L221.52,334.1 L222.86,334.26" stroke="#6a9fd0" stroke-width="8.4" fill="none" stroke-linecap="butt" stroke-linejoin="round" />
<path d="M39.2,293 L42.55,293.63 L45.9,294.26 L49.25,294.91 L52.61,295.55 L55.96,296.19 L59.31,296.82 L62.66,297.45 L66.01,298.06 L69.36,298.65 L72.72,299.22 L76.07,299.78 L79.42,300.32 L82.77,300.85 L86.12,301.37 L89.47,301.88 L92.82,302.39 L96.18,302.89 L99.53,303.38 L102.88,303.86 L106.23,304.35 L109.8,304.86 L113.36,305.36 L116.93,305.85 L120.5,306.34 L124.07,306.82 L127.63,307.3 L131.2,307.78 L134.77,308.26 L138.34,308.74 L141.83,309.22 L145.32,309.7 L148.81,310.18 L152.31,310.66 L155.8,311.14 L159.29,311.61 L162.78,312.09 L166.28,312.56 L169.77,313.03 L173.26,313.5 L176.61,313.95 L179.96,314.4 L183.31,314.84 L186.67,315.29 L190.02,315.73 L193.37,316.17 L196.72,316.61 L200.07,317.04 L203.42,317.47 L206.78,317.9 L210.13,318.31 L213.48,318.72 L216.83,319.13 L220.18,319.53 L223.53,319.93 L226.88,320.33 L230.24,320.73 L233.59,321.12 L236.94,321.52 L240.29,321.92" stroke="#e05858" stroke-width="9.4" fill="none" stroke-linecap="butt" stroke-linejoin="round" />
<line x1="222.3" y1="334.8" x2="222.3" y2="368" stroke="#6a9fd0" stroke-width="1.4" />
<circle cx="222.3" cy="334.8" r="3.3" stroke="#6a9fd0" stroke-width="1.4" fill="#fff" />
<circle cx="221.5" cy="368.4" r="3.2" stroke="#6a9fd0" stroke-width="1.4" fill="#6a9fd0" />
<circle cx="225.6" cy="369.6" r="3.2" stroke="#6a9fd0" stroke-width="1.4" fill="#fff" />
<circle cx="222.3" cy="378.8" r="3.2" stroke="#6a9fd0" stroke-width="1.4" fill="#fff" />
<circle cx="240.3" cy="321" r="3" stroke="#e05858" stroke-width="1.3" fill="#fff" />
</g>
<line x1="39.2" y1="233.1" x2="240.3" y2="233.1" stroke="#a9a9a9" stroke-width="1.4" />
<line x1="39.2" y1="379.4" x2="240.3" y2="379.4" stroke="#666" stroke-width="1.2" />
<line x1="39.2" y1="233.1" x2="39.2" y2="379.4" stroke="#666" stroke-width="1.2" />
<line x1="240.3" y1="233.1" x2="240.3" y2="379.4" stroke="#666" stroke-width="1.2" />
<line x1="39.2" y1="379.4" x2="36.2" y2="379.4" stroke="#666" stroke-width="1" />
<line x1="39.2" y1="342.79" x2="36.2" y2="342.79" stroke="#666" stroke-width="1" />
<line x1="39.2" y1="306.18" x2="36.2" y2="306.18" stroke="#666" stroke-width="1" />
<line x1="39.2" y1="269.57" x2="36.2" y2="269.57" stroke="#666" stroke-width="1" />
<line x1="39.2" y1="232.96" x2="36.2" y2="232.96" stroke="#666" stroke-width="1" />
<line x1="39.2" y1="361.09" x2="37.7" y2="361.09" stroke="#666" stroke-width="1" />
<line x1="39.2" y1="324.48" x2="37.7" y2="324.48" stroke="#666" stroke-width="1" />
<line x1="39.2" y1="287.88" x2="37.7" y2="287.88" stroke="#666" stroke-width="1" />
<line x1="39.2" y1="251.26" x2="37.7" y2="251.26" stroke="#666" stroke-width="1" />
<line x1="240.3" y1="379.4" x2="243.3" y2="379.4" stroke="#666" stroke-width="1" />
<line x1="240.3" y1="355.02" x2="243.3" y2="355.02" stroke="#666" stroke-width="1" />
<line x1="240.3" y1="330.64" x2="243.3" y2="330.64" stroke="#666" stroke-width="1" />
<line x1="240.3" y1="306.26" x2="243.3" y2="306.26" stroke="#666" stroke-width="1" />
<line x1="240.3" y1="281.88" x2="243.3" y2="281.88" stroke="#666" stroke-width="1" />
<line x1="240.3" y1="257.5" x2="243.3" y2="257.5" stroke="#666" stroke-width="1" />
<line x1="240.3" y1="233.12" x2="243.3" y2="233.12" stroke="#666" stroke-width="1" />
<line x1="240.3" y1="367.21" x2="241.8" y2="367.21" stroke="#666" stroke-width="1" />
<line x1="240.3" y1="342.83" x2="241.8" y2="342.83" stroke="#666" stroke-width="1" />
<line x1="240.3" y1="318.45" x2="241.8" y2="318.45" stroke="#666" stroke-width="1" />
<line x1="240.3" y1="294.07" x2="241.8" y2="294.07" stroke="#666" stroke-width="1" />
<line x1="240.3" y1="269.69" x2="241.8" y2="269.69" stroke="#666" stroke-width="1" />
<line x1="240.3" y1="245.31" x2="241.8" y2="245.31" stroke="#666" stroke-width="1" />
<line x1="39.2" y1="379.4" x2="39.2" y2="382.4" stroke="#666" stroke-width="1" />
<line x1="106.23" y1="379.4" x2="106.23" y2="382.4" stroke="#666" stroke-width="1" />
<line x1="173.26" y1="379.4" x2="173.26" y2="382.4" stroke="#666" stroke-width="1" />
<line x1="240.29" y1="379.4" x2="240.29" y2="382.4" stroke="#666" stroke-width="1" />
<line x1="72.72" y1="379.4" x2="72.72" y2="380.9" stroke="#666" stroke-width="1" />
<line x1="139.75" y1="379.4" x2="139.75" y2="380.9" stroke="#666" stroke-width="1" />
<line x1="206.78" y1="379.4" x2="206.78" y2="380.9" stroke="#666" stroke-width="1" />
<text x="34.1" y="383" font-size="10.6" text-anchor="end" fill="#1a1a1a" stroke="#1a1a1a" >0</text>
<text x="34.1" y="346.39" font-size="10.6" text-anchor="end" fill="#1a1a1a" stroke="#1a1a1a" >100</text>
<text x="34.1" y="309.78" font-size="10.6" text-anchor="end" fill="#1a1a1a" stroke="#1a1a1a" >200</text>
<text x="34.1" y="273.17" font-size="10.6" text-anchor="end" fill="#1a1a1a" stroke="#1a1a1a" >300</text>
<text x="34.1" y="236.56" font-size="10.6" text-anchor="end" fill="#1a1a1a" stroke="#1a1a1a" >400</text>
<text x="246" y="383.1" font-size="10.6" text-anchor="start" fill="#1a1a1a" stroke="#1a1a1a" >90</text>
<text x="246" y="358.72" font-size="10.6" text-anchor="start" fill="#1a1a1a" stroke="#1a1a1a" >92</text>
<text x="246" y="334.34" font-size="10.6" text-anchor="start" fill="#1a1a1a" stroke="#1a1a1a" >94</text>
<text x="246" y="309.96" font-size="10.6" text-anchor="start" fill="#1a1a1a" stroke="#1a1a1a" >96</text>
<text x="246" y="285.58" font-size="10.6" text-anchor="start" fill="#1a1a1a" stroke="#1a1a1a" >98</text>
<text x="246" y="261.2" font-size="10.6" text-anchor="start" fill="#1a1a1a" stroke="#1a1a1a" >100</text>
<text x="246" y="236.82" font-size="10.6" text-anchor="start" fill="#1a1a1a" stroke="#1a1a1a" >102</text>
<text x="39.2" y="393" font-size="10.6" text-anchor="middle" fill="#1a1a1a" stroke="#1a1a1a" >0</text>
<text x="106.23" y="393" font-size="10.6" text-anchor="middle" fill="#1a1a1a" stroke="#1a1a1a" >1000</text>
<text x="173.26" y="393" font-size="10.6" text-anchor="middle" fill="#1a1a1a" stroke="#1a1a1a" >2000</text>
<text x="240.29" y="393" font-size="10.6" text-anchor="middle" fill="#1a1a1a" stroke="#1a1a1a" >3000</text>
<text x="139.8" y="406.5" font-size="10.85" text-anchor="middle" fill="#1a1a1a" stroke="#1a1a1a" >Cycle number</text>
<text x="11.5" y="306" font-size="10.85" text-anchor="middle" fill="#1a1a1a" stroke="#1a1a1a" transform="rotate(-90 11.5 306)" >Capacity / mAh g<tspan font-size="7.38" dx="0.33" dy="-4.88">-1</tspan><tspan dy="4.88">&#8203;</tspan></text>
<text x="273.4" y="307.4" font-size="10.85" text-anchor="middle" fill="#1a1a1a" stroke="#1a1a1a" transform="rotate(-90 273.4 307.4)" >Coulombic efficiency / %</text>
<text x="1" y="237.8" font-size="12" text-anchor="start" fill="#1f1515" stroke="#1f1515" font-weight="bold" >b</text>
<line x1="154.7" y1="282.4" x2="168" y2="282.4" stroke="#e05858" stroke-width="1.6" />
<text x="175.6" y="286.6" font-size="10.95" text-anchor="start" fill="#1a1a1a" stroke="#1a1a1a" >5% TEP</text>
<line x1="154.7" y1="297.3" x2="168" y2="297.3" stroke="#6a9fd0" stroke-width="1.6" />
<text x="175.6" y="301.6" font-size="10.95" text-anchor="start" fill="#1a1a1a" stroke="#1a1a1a" >0% Addi</text>
<line x1="47.4" y1="355.6" x2="72" y2="355.6" stroke="#6a9fd0" stroke-width="1.3" />
<circle cx="59.6" cy="355.6" r="3.4" stroke="#6a9fd0" stroke-width="1.3" fill="#fff" />
<text x="75.6" y="359.8" font-size="10.95" text-anchor="start" fill="#1a1a1a" stroke="#1a1a1a" >Capacity</text>
<line x1="47.4" y1="369" x2="72" y2="369" stroke="#6a9fd0" stroke-width="1.3" />
<rect x="56.6" y="366" width="6" height="6" stroke="#6a9fd0" stroke-width="1.3" fill="#fff" />
<text x="75.6" y="373.2" font-size="10.95" text-anchor="start" fill="#1a1a1a" stroke="#1a1a1a" >Coulombic efficiency</text>
<polyline points="62.8,315.8 62.8,319.4 49.8,319.4" stroke="#111" stroke-width="1.1" fill="none" />
<polygon points="46.8,319.4 51.3,317.4 51.3,321.4" fill="#111" stroke="none" stroke-width="1" />
<polyline points="221.1,269 221.1,273.3 234.2,273.3" stroke="#111" stroke-width="1.1" fill="none" />
<polygon points="237.2,273.3 232.7,271.3 232.7,275.3" fill="#111" stroke="none" stroke-width="1" />
<line x1="333.4" y1="355.4" x2="648.4" y2="355.4" stroke="#bdbdbd" stroke-width="0.8" stroke-dasharray="1,1.6"/>
<line x1="333.4" y1="306.4" x2="648.4" y2="306.4" stroke="#bdbdbd" stroke-width="0.8" stroke-dasharray="1,1.6"/>
<line x1="333.4" y1="257.4" x2="648.4" y2="257.4" stroke="#bdbdbd" stroke-width="0.8" stroke-dasharray="1,1.6"/>
<line x1="333.4" y1="233.6" x2="333.4" y2="379.4" stroke="#777" stroke-width="1.2" />
<line x1="333.4" y1="355.4" x2="330.4" y2="355.4" stroke="#777" stroke-width="1" />
<line x1="333.4" y1="306.4" x2="330.4" y2="306.4" stroke="#777" stroke-width="1" />
<line x1="333.4" y1="257.4" x2="330.4" y2="257.4" stroke="#777" stroke-width="1" />
<line x1="333.4" y1="379.9" x2="331.9" y2="379.9" stroke="#777" stroke-width="1" />
<line x1="333.4" y1="330.9" x2="331.9" y2="330.9" stroke="#777" stroke-width="1" />
<line x1="333.4" y1="281.9" x2="331.9" y2="281.9" stroke="#777" stroke-width="1" />
<line x1="333.4" y1="232.9" x2="331.9" y2="232.9" stroke="#777" stroke-width="1" />
<text x="328.4" y="359" font-size="10.6" text-anchor="end" fill="#1a1a1a" stroke="#1a1a1a" >3.6</text>
<text x="328.4" y="310" font-size="10.6" text-anchor="end" fill="#1a1a1a" stroke="#1a1a1a" >5.4</text>
<text x="328.4" y="261" font-size="10.6" text-anchor="end" fill="#1a1a1a" stroke="#1a1a1a" >7.2</text>
<text x="308.9" y="307.9" font-size="10.85" text-anchor="middle" fill="#1a1a1a" stroke="#1a1a1a" transform="rotate(-90 308.9 307.9)" >Capacity / mAh cm<tspan font-size="7.38" dx="0.33" dy="-4.88">-2</tspan><tspan dy="4.88">&#8203;</tspan></text>
<text x="349.9" y="306.5" font-size="10.85" text-anchor="middle" fill="#1a1a1a" stroke="#1a1a1a" transform="rotate(-90 349.9 306.5)" >Capacity / mAh g<tspan font-size="7.38" dx="0.33" dy="-4.88">-1</tspan><tspan dy="4.88">&#8203;</tspan></text>
<clipPath id="cpd"><rect x="374.4" y="233.6" width="274" height="145.8"/></clipPath><g clip-path="url(#cpd)">
<path d="M374.4,242.66 L379.88,243.19 L385.36,243.13 L390.84,242.98 L396.32,242.72 L401.8,243.29 L407.28,243.31 L412.76,243.01 L418.24,243.01 L423.72,242.74 L429.2,242.5 L434.68,242.87 L440.16,243.09 L445.64,242.57 L451.12,243.29 L456.6,242.73 L462.08,242.73 L467.56,242.54 L473.04,243.5 L478.52,243.24 L484,243.38 L489.48,243.12 L494.96,242.53 L500.44,242.83 L505.92,243 L511.4,242.62 L516.88,243.45 L522.36,242.87 L527.84,242.65 L533.32,243.32 L538.8,242.62 L544.28,243.43 L549.76,242.95 L555.24,243.05 L560.72,242.84 L566.2,242.98 L571.68,242.69 L577.16,242.54 L582.64,243.37 L588.12,242.73 L593.6,243.28 L599.08,242.71 L604.56,243.47 L610.04,243.39 L615.52,243.25 L621,243.26 L626.48,243.08 L631.96,243.23 L637.44,242.62 L642.92,242.98 L648.4,243.33" stroke="#e05858" stroke-width="9" fill="none" stroke-linecap="butt" stroke-linejoin="round" />
<line x1="391.5" y1="240" x2="391.5" y2="233.6" stroke="#e05858" stroke-width="1.3" />
<rect x="373" y="249.9" width="5" height="5" stroke="#e05858" stroke-width="1.3" fill="#fff" />
<rect x="378.5" y="248.8" width="5" height="5" stroke="#e05858" stroke-width="1.3" fill="#fff" />
<rect x="383.3" y="258.6" width="5" height="5" stroke="#e05858" stroke-width="1.3" fill="#fff" />
<rect x="500.5" y="237.5" width="8" height="11" fill="#e05858" stroke="none" stroke-width="1" />
<rect x="534.3" y="237.5" width="8" height="11" fill="#e05858" stroke="none" stroke-width="1" />
<rect x="450.5" y="237" width="8" height="12" fill="#fff" stroke="#e05858" stroke-width="1.4" />
<rect x="451.9" y="239.2" width="5.2" height="7.6" fill="#e05858" stroke="none" stroke-width="1" />
<rect x="620.8" y="237" width="8" height="12" fill="#fff" stroke="#e05858" stroke-width="1.4" />
<rect x="622.2" y="239.2" width="5.2" height="7.6" fill="#e05858" stroke="none" stroke-width="1" />
<polyline points="378,277 380,286 380.5,309 385.5,303 386,338.6 390.5,338.6 391,285 394,282" stroke="#e05858" stroke-width="1.3" fill="none" />
<circle cx="377.8" cy="276.6" r="2.8" stroke="#e05858" stroke-width="1.3" fill="#fff" />
<circle cx="378.5" cy="280.2" r="2.8" stroke="#e05858" stroke-width="1.3" fill="#fff" />
<circle cx="379" cy="282.4" r="2.8" stroke="#e05858" stroke-width="1.3" fill="#fff" />
<circle cx="380" cy="286" r="2.8" stroke="#e05858" stroke-width="1.3" fill="#fff" />
<circle cx="380" cy="308.7" r="2.8" stroke="#e05858" stroke-width="1.3" fill="#fff" />
<circle cx="381" cy="311" r="2.8" stroke="#e05858" stroke-width="1.3" fill="#fff" />
<circle cx="383.5" cy="312" r="2.8" stroke="#e05858" stroke-width="1.3" fill="#fff" />
<circle cx="384.5" cy="309" r="2.8" stroke="#e05858" stroke-width="1.3" fill="#fff" />
<circle cx="385.5" cy="302.8" r="2.8" stroke="#e05858" stroke-width="1.3" fill="#fff" />
<circle cx="386" cy="338.6" r="2.8" stroke="#e05858" stroke-width="1.3" fill="#fff" />
<circle cx="388" cy="341.5" r="2.8" stroke="#e05858" stroke-width="1.3" fill="#fff" />
<circle cx="387" cy="340" r="2.8" stroke="#e05858" stroke-width="1.3" fill="#fff" />
<circle cx="390.5" cy="338.6" r="2.8" stroke="#e05858" stroke-width="1.3" fill="#fff" />
<path d="M407.28,290.23 L412.76,290.48 L418.24,290.73 L423.72,290.97 L429.2,291.21 L434.68,291.45 L440.16,291.71 L445.64,291.97 L451.12,292.22 L456.6,292.46 L462.08,292.66 L467.56,292.82 L473.04,292.92 L478.52,292.99 L484,293.03 L489.48,293.06 L494.96,293.11 L500.44,293.17 L505.92,293.3 L511.4,293.5 L516.88,293.77 L522.36,294.09 L527.84,294.43 L533.32,294.78 L538.8,295.13 L544.67,295.52 L550.54,295.94 L556.41,296.4 L562.29,296.88 L568.16,297.37 L574.03,297.85 L579.9,298.31 L585.77,298.76 L591.64,299.2 L597.51,299.64 L603.39,300.08 L609.26,300.54 L615.13,301.01 L621,301.5 L627.03,302.09 L633.06,302.74 L639.08,303.35 L645.11,303.8 L646.76,303.88 L648.4,303.95" stroke="#e05858" stroke-width="9" fill="none" stroke-linecap="butt" stroke-linejoin="round" />
<circle cx="390.5" cy="283.9" r="3.1" stroke="#e05858" stroke-width="1.3" fill="#fff" />
<circle cx="393.5" cy="281" r="3.1" stroke="#e05858" stroke-width="1.3" fill="#fff" />
<circle cx="397" cy="279.5" r="3.1" stroke="#e05858" stroke-width="1.3" fill="#fff" />
<circle cx="400" cy="284" r="3.1" stroke="#e05858" stroke-width="1.3" fill="#fff" />
<circle cx="404" cy="286" r="3.1" stroke="#e05858" stroke-width="1.3" fill="#fff" />
<circle cx="407" cy="283.5" r="3.1" stroke="#e05858" stroke-width="1.3" fill="#fff" />
<circle cx="410" cy="287" r="3.1" stroke="#e05858" stroke-width="1.3" fill="#fff" />
<circle cx="413" cy="285" r="3.1" stroke="#e05858" stroke-width="1.3" fill="#fff" />
<circle cx="416" cy="287" r="3.1" stroke="#e05858" stroke-width="1.3" fill="#fff" />
<circle cx="419" cy="285" r="3.1" stroke="#e05858" stroke-width="1.3" fill="#fff" />
<circle cx="422.5" cy="287" r="3.1" stroke="#e05858" stroke-width="1.3" fill="#fff" />
<circle cx="425" cy="280" r="3.1" stroke="#e05858" stroke-width="1.3" fill="#fff" />
<circle cx="427" cy="276.5" r="3.1" stroke="#e05858" stroke-width="1.3" fill="#fff" />
<circle cx="427.5" cy="280.5" r="3.1" stroke="#e05858" stroke-width="1.3" fill="#fff" />
<circle cx="396" cy="290" r="3.1" stroke="#e05858" stroke-width="1.3" fill="#fff" />
<circle cx="400" cy="292" r="3.1" stroke="#e05858" stroke-width="1.3" fill="#fff" />
<circle cx="404" cy="291" r="3.1" stroke="#e05858" stroke-width="1.3" fill="#fff" />
<circle cx="409" cy="293" r="3.1" stroke="#e05858" stroke-width="1.3" fill="#fff" />
<circle cx="414" cy="292" r="3.1" stroke="#e05858" stroke-width="1.3" fill="#fff" />
<circle cx="419" cy="293" r="3.1" stroke="#e05858" stroke-width="1.3" fill="#fff" />
<circle cx="424" cy="291" r="3.1" stroke="#e05858" stroke-width="1.3" fill="#fff" />
<circle cx="393" cy="288" r="3.1" stroke="#e05858" stroke-width="1.3" fill="#fff" />
<circle cx="402" cy="288" r="3.1" stroke="#e05858" stroke-width="1.3" fill="#fff" />
<circle cx="411" cy="290" r="3.1" stroke="#e05858" stroke-width="1.3" fill="#fff" />
<circle cx="420" cy="290" r="3.1" stroke="#e05858" stroke-width="1.3" fill="#fff" />
<circle cx="430" cy="289" r="3.1" stroke="#e05858" stroke-width="1.3" fill="#fff" />
<circle cx="435" cy="291" r="3.1" stroke="#e05858" stroke-width="1.3" fill="#fff" />
<circle cx="428.1" cy="293.55" r="3" stroke="#e05858" stroke-width="1.2" fill="none" />
<circle cx="430.3" cy="289.3" r="3" stroke="#e05858" stroke-width="1.2" fill="none" />
<circle cx="434.68" cy="288.95" r="3" stroke="#e05858" stroke-width="1.2" fill="none" />
<circle cx="435.78" cy="289.47" r="3" stroke="#e05858" stroke-width="1.2" fill="none" />
<circle cx="436.87" cy="289.91" r="3" stroke="#e05858" stroke-width="1.2" fill="none" />
<circle cx="439.06" cy="288.75" r="3" stroke="#e05858" stroke-width="1.2" fill="none" />
<circle cx="440.16" cy="289.05" r="3" stroke="#e05858" stroke-width="1.2" fill="none" />
<circle cx="441.26" cy="293.75" r="3" stroke="#e05858" stroke-width="1.2" fill="none" />
<circle cx="442.35" cy="289.25" r="3" stroke="#e05858" stroke-width="1.2" fill="none" />
<circle cx="442.35" cy="294.04" r="3" stroke="#e05858" stroke-width="1.2" fill="none" />
<circle cx="443.45" cy="289.5" r="3" stroke="#e05858" stroke-width="1.2" fill="none" />
<circle cx="443.45" cy="293.6" r="3" stroke="#e05858" stroke-width="1.2" fill="none" />
<circle cx="444.54" cy="290.31" r="3" stroke="#e05858" stroke-width="1.2" fill="none" />
<circle cx="445.64" cy="293.75" r="3" stroke="#e05858" stroke-width="1.2" fill="none" />
<circle cx="446.74" cy="289.53" r="3" stroke="#e05858" stroke-width="1.2" fill="none" />
<circle cx="446.74" cy="293.95" r="3" stroke="#e05858" stroke-width="1.2" fill="none" />
<circle cx="447.83" cy="289.38" r="3" stroke="#e05858" stroke-width="1.2" fill="none" />
<circle cx="450.02" cy="290.03" r="3" stroke="#e05858" stroke-width="1.2" fill="none" />
<circle cx="451.12" cy="289.33" r="3" stroke="#e05858" stroke-width="1.2" fill="none" />
<circle cx="452.22" cy="290.52" r="3" stroke="#e05858" stroke-width="1.2" fill="none" />
<circle cx="452.22" cy="294.92" r="3" stroke="#e05858" stroke-width="1.2" fill="none" />
<circle cx="453.31" cy="290.19" r="3" stroke="#e05858" stroke-width="1.2" fill="none" />
<circle cx="454.41" cy="290.79" r="3" stroke="#e05858" stroke-width="1.2" fill="none" />
<circle cx="455.5" cy="290.2" r="3" stroke="#e05858" stroke-width="1.2" fill="none" />
<circle cx="456.6" cy="289.6" r="3" stroke="#e05858" stroke-width="1.2" fill="none" />
<circle cx="458.79" cy="290.35" r="3" stroke="#e05858" stroke-width="1.2" fill="none" />
<circle cx="458.79" cy="295.19" r="3" stroke="#e05858" stroke-width="1.2" fill="none" />
<circle cx="460.98" cy="290.26" r="3" stroke="#e05858" stroke-width="1.2" fill="none" />
<circle cx="462.08" cy="289.83" r="3" stroke="#e05858" stroke-width="1.2" fill="none" />
<circle cx="462.08" cy="295.11" r="3" stroke="#e05858" stroke-width="1.2" fill="none" />
<circle cx="463.18" cy="295.04" r="3" stroke="#e05858" stroke-width="1.2" fill="none" />
<circle cx="470.85" cy="294.6" r="3" stroke="#e05858" stroke-width="1.2" fill="none" />
<circle cx="471.94" cy="290.84" r="3" stroke="#e05858" stroke-width="1.2" fill="none" />
<circle cx="473.04" cy="290.23" r="3" stroke="#e05858" stroke-width="1.2" fill="none" />
<circle cx="474.14" cy="291.42" r="3" stroke="#e05858" stroke-width="1.2" fill="none" />
<circle cx="476.33" cy="295.69" r="3" stroke="#e05858" stroke-width="1.2" fill="none" />
<circle cx="477.42" cy="291.44" r="3" stroke="#e05858" stroke-width="1.2" fill="none" />
<circle cx="478.52" cy="290.05" r="3" stroke="#e05858" stroke-width="1.2" fill="none" />
<circle cx="478.52" cy="295.52" r="3" stroke="#e05858" stroke-width="1.2" fill="none" />
<circle cx="479.62" cy="294.73" r="3" stroke="#e05858" stroke-width="1.2" fill="none" />
<circle cx="480.71" cy="291.28" r="3" stroke="#e05858" stroke-width="1.2" fill="none" />
<circle cx="484" cy="290.04" r="3" stroke="#e05858" stroke-width="1.2" fill="none" />
<circle cx="486.19" cy="290.57" r="3" stroke="#e05858" stroke-width="1.2" fill="none" />
<circle cx="488.38" cy="290.19" r="3" stroke="#e05858" stroke-width="1.2" fill="none" />
<circle cx="488.38" cy="294.81" r="3" stroke="#e05858" stroke-width="1.2" fill="none" />
<circle cx="489.48" cy="290.73" r="3" stroke="#e05858" stroke-width="1.2" fill="none" />
<circle cx="489.48" cy="295.62" r="3" stroke="#e05858" stroke-width="1.2" fill="none" />
<circle cx="491.67" cy="294.71" r="3" stroke="#e05858" stroke-width="1.2" fill="none" />
<circle cx="492.77" cy="290.63" r="3" stroke="#e05858" stroke-width="1.2" fill="none" />
<circle cx="493.86" cy="290.59" r="3" stroke="#e05858" stroke-width="1.2" fill="none" />
<circle cx="494.96" cy="290.82" r="3" stroke="#e05858" stroke-width="1.2" fill="none" />
<circle cx="496.06" cy="291.28" r="3" stroke="#e05858" stroke-width="1.2" fill="none" />
<circle cx="496.06" cy="294.77" r="3" stroke="#e05858" stroke-width="1.2" fill="none" />
<circle cx="497.15" cy="291.69" r="3" stroke="#e05858" stroke-width="1.2" fill="none" />
<circle cx="498.25" cy="291.69" r="3" stroke="#e05858" stroke-width="1.2" fill="none" />
<circle cx="500.44" cy="295.06" r="3" stroke="#e05858" stroke-width="1.2" fill="none" />
<circle cx="503.73" cy="295.58" r="3" stroke="#e05858" stroke-width="1.2" fill="none" />
<circle cx="504.82" cy="290.58" r="3" stroke="#e05858" stroke-width="1.2" fill="none" />
<circle cx="505.92" cy="291.6" r="3" stroke="#e05858" stroke-width="1.2" fill="none" />
<circle cx="505.92" cy="295.77" r="3" stroke="#e05858" stroke-width="1.2" fill="none" />
<circle cx="508.11" cy="291.44" r="3" stroke="#e05858" stroke-width="1.2" fill="none" />
<circle cx="510.3" cy="290.61" r="3" stroke="#e05858" stroke-width="1.2" fill="none" />
<circle cx="511.4" cy="290.85" r="3" stroke="#e05858" stroke-width="1.2" fill="none" />
<circle cx="511.4" cy="295.3" r="3" stroke="#e05858" stroke-width="1.2" fill="none" />
<circle cx="512.5" cy="291.32" r="3" stroke="#e05858" stroke-width="1.2" fill="none" />
<circle cx="512.5" cy="295.66" r="3" stroke="#e05858" stroke-width="1.2" fill="none" />
<circle cx="513.59" cy="295.37" r="3" stroke="#e05858" stroke-width="1.2" fill="none" />
<circle cx="516.88" cy="292.17" r="3" stroke="#e05858" stroke-width="1.2" fill="none" />
<circle cx="519.07" cy="291.83" r="3" stroke="#e05858" stroke-width="1.2" fill="none" />
<circle cx="523.46" cy="291.89" r="3" stroke="#e05858" stroke-width="1.2" fill="none" />
<circle cx="524.55" cy="291.63" r="3" stroke="#e05858" stroke-width="1.2" fill="none" />
<circle cx="528.94" cy="292.22" r="3" stroke="#e05858" stroke-width="1.2" fill="none" />
<circle cx="530.03" cy="292.53" r="3" stroke="#e05858" stroke-width="1.2" fill="none" />
<circle cx="532.22" cy="291.76" r="3" stroke="#e05858" stroke-width="1.2" fill="none" />
<circle cx="533.32" cy="297.37" r="3" stroke="#e05858" stroke-width="1.2" fill="none" />
<circle cx="537.7" cy="292.25" r="3" stroke="#e05858" stroke-width="1.2" fill="none" />
<circle cx="538.8" cy="297.59" r="3" stroke="#e05858" stroke-width="1.2" fill="none" />
<circle cx="539.91" cy="292.87" r="3" stroke="#e05858" stroke-width="1.2" fill="none" />
<circle cx="543.24" cy="292.81" r="3" stroke="#e05858" stroke-width="1.2" fill="none" />
<circle cx="543.24" cy="297.03" r="3" stroke="#e05858" stroke-width="1.2" fill="none" />
<circle cx="545.46" cy="298.36" r="3" stroke="#e05858" stroke-width="1.2" fill="none" />
<circle cx="546.58" cy="293.34" r="3" stroke="#e05858" stroke-width="1.2" fill="none" />
<circle cx="547.69" cy="294.27" r="3" stroke="#e05858" stroke-width="1.2" fill="none" />
<circle cx="548.8" cy="293.1" r="3" stroke="#e05858" stroke-width="1.2" fill="none" />
<circle cx="549.91" cy="293.38" r="3" stroke="#e05858" stroke-width="1.2" fill="none" />
<circle cx="549.91" cy="297.89" r="3" stroke="#e05858" stroke-width="1.2" fill="none" />
<circle cx="552.13" cy="298.31" r="3" stroke="#e05858" stroke-width="1.2" fill="none" />
<circle cx="556.57" cy="294.42" r="3" stroke="#e05858" stroke-width="1.2" fill="none" />
<circle cx="556.57" cy="298.21" r="3" stroke="#e05858" stroke-width="1.2" fill="none" />
<circle cx="557.68" cy="298.87" r="3" stroke="#e05858" stroke-width="1.2" fill="none" />
<circle cx="558.79" cy="298.95" r="3" stroke="#e05858" stroke-width="1.2" fill="none" />
<circle cx="559.91" cy="294.22" r="3" stroke="#e05858" stroke-width="1.2" fill="none" />
<circle cx="563.24" cy="299.36" r="3" stroke="#e05858" stroke-width="1.2" fill="none" />
<circle cx="564.35" cy="294.95" r="3" stroke="#e05858" stroke-width="1.2" fill="none" />
<circle cx="577.68" cy="296.16" r="3" stroke="#e05858" stroke-width="1.2" fill="none" />
<circle cx="578.79" cy="295.57" r="3" stroke="#e05858" stroke-width="1.2" fill="none" />
<circle cx="579.9" cy="300.08" r="3" stroke="#e05858" stroke-width="1.2" fill="none" />
<circle cx="581.01" cy="296.28" r="3" stroke="#e05858" stroke-width="1.2" fill="none" />
<circle cx="582.12" cy="296.75" r="3" stroke="#e05858" stroke-width="1.2" fill="none" />
<circle cx="582.12" cy="300.34" r="3" stroke="#e05858" stroke-width="1.2" fill="none" />
<circle cx="585.45" cy="296.34" r="3" stroke="#e05858" stroke-width="1.2" fill="none" />
<circle cx="586.56" cy="296.14" r="3" stroke="#e05858" stroke-width="1.2" fill="none" />
<circle cx="587.68" cy="300.8" r="3" stroke="#e05858" stroke-width="1.2" fill="none" />
<circle cx="589.9" cy="297.33" r="3" stroke="#e05858" stroke-width="1.2" fill="none" />
<circle cx="592.12" cy="301.35" r="3" stroke="#e05858" stroke-width="1.2" fill="none" />
<circle cx="593.23" cy="296.73" r="3" stroke="#e05858" stroke-width="1.2" fill="none" />
<circle cx="594.34" cy="301.14" r="3" stroke="#e05858" stroke-width="1.2" fill="none" />
<circle cx="595.45" cy="296.76" r="3" stroke="#e05858" stroke-width="1.2" fill="none" />
<circle cx="595.45" cy="302.18" r="3" stroke="#e05858" stroke-width="1.2" fill="none" />
<circle cx="596.56" cy="301.81" r="3" stroke="#e05858" stroke-width="1.2" fill="none" />
<circle cx="597.67" cy="297.43" r="3" stroke="#e05858" stroke-width="1.2" fill="none" />
<circle cx="601.01" cy="297.54" r="3" stroke="#e05858" stroke-width="1.2" fill="none" />
<circle cx="607.67" cy="298.4" r="3" stroke="#e05858" stroke-width="1.2" fill="none" />
<circle cx="607.67" cy="302.38" r="3" stroke="#e05858" stroke-width="1.2" fill="none" />
<circle cx="608.78" cy="297.83" r="3" stroke="#e05858" stroke-width="1.2" fill="none" />
<circle cx="608.78" cy="302.88" r="3" stroke="#e05858" stroke-width="1.2" fill="none" />
<circle cx="609.89" cy="297.68" r="3" stroke="#e05858" stroke-width="1.2" fill="none" />
<circle cx="611" cy="303.1" r="3" stroke="#e05858" stroke-width="1.2" fill="none" />
<circle cx="612.11" cy="298.12" r="3" stroke="#e05858" stroke-width="1.2" fill="none" />
<circle cx="612.11" cy="303.13" r="3" stroke="#e05858" stroke-width="1.2" fill="none" />
<circle cx="616.56" cy="298.38" r="3" stroke="#e05858" stroke-width="1.2" fill="none" />
<circle cx="619.89" cy="298.7" r="3" stroke="#e05858" stroke-width="1.2" fill="none" />
<circle cx="622.1" cy="298.61" r="3" stroke="#e05858" stroke-width="1.2" fill="none" />
<circle cx="624.29" cy="303.65" r="3" stroke="#e05858" stroke-width="1.2" fill="none" />
<circle cx="626.48" cy="300.57" r="3" stroke="#e05858" stroke-width="1.2" fill="none" />
<circle cx="626.48" cy="304.22" r="3" stroke="#e05858" stroke-width="1.2" fill="none" />
<circle cx="628.67" cy="304.54" r="3" stroke="#e05858" stroke-width="1.2" fill="none" />
<circle cx="629.77" cy="304.5" r="3" stroke="#e05858" stroke-width="1.2" fill="none" />
<circle cx="630.86" cy="305.03" r="3" stroke="#e05858" stroke-width="1.2" fill="none" />
<circle cx="631.96" cy="305.41" r="3" stroke="#e05858" stroke-width="1.2" fill="none" />
<circle cx="633.06" cy="305.53" r="3" stroke="#e05858" stroke-width="1.2" fill="none" />
<circle cx="635.25" cy="301.23" r="3" stroke="#e05858" stroke-width="1.2" fill="none" />
<circle cx="636.34" cy="305.26" r="3" stroke="#e05858" stroke-width="1.2" fill="none" />
<circle cx="638.54" cy="300.83" r="3" stroke="#e05858" stroke-width="1.2" fill="none" />
<circle cx="640.73" cy="305.84" r="3" stroke="#e05858" stroke-width="1.2" fill="none" />
<circle cx="641.82" cy="301.97" r="3" stroke="#e05858" stroke-width="1.2" fill="none" />
<circle cx="644.02" cy="305.41" r="3" stroke="#e05858" stroke-width="1.2" fill="none" />
<circle cx="647.3" cy="302.08" r="3" stroke="#e05858" stroke-width="1.2" fill="none" />
<circle cx="456" cy="288" r="3.3" stroke="#e05858" stroke-width="1.4" fill="#fff" />
<circle cx="489.3" cy="288" r="3.3" stroke="#e05858" stroke-width="1.4" fill="#fff" />
<circle cx="494.8" cy="287" r="3.3" stroke="#e05858" stroke-width="1.4" fill="#fff" />
<circle cx="505.5" cy="285" r="3.3" stroke="#e05858" stroke-width="1.4" fill="#fff" />
<circle cx="532.8" cy="288" r="3.3" stroke="#e05858" stroke-width="1.4" fill="#fff" />
<circle cx="539" cy="291.5" r="3.3" stroke="#e05858" stroke-width="1.4" fill="#fff" />
<circle cx="544.9" cy="294" r="3.3" stroke="#e05858" stroke-width="1.4" fill="#fff" />
<circle cx="601.8" cy="296" r="3.3" stroke="#e05858" stroke-width="1.4" fill="#fff" />
<circle cx="615" cy="294.5" r="3.3" stroke="#e05858" stroke-width="1.4" fill="#fff" />
<circle cx="625.9" cy="295" r="3.3" stroke="#e05858" stroke-width="1.4" fill="#fff" />
<circle cx="637.5" cy="298" r="3.3" stroke="#e05858" stroke-width="1.4" fill="#fff" />
</g>
<line x1="374.4" y1="233.6" x2="648.4" y2="233.6" stroke="#555" stroke-width="1" />
<line x1="374.4" y1="379.4" x2="648.4" y2="379.4" stroke="#666" stroke-width="1.2" />
<line x1="374.4" y1="233.6" x2="374.4" y2="379.4" stroke="#666" stroke-width="1.2" />
<line x1="648.4" y1="233.6" x2="648.4" y2="379.4" stroke="#666" stroke-width="1.2" />
<line x1="374.4" y1="355.4" x2="371.4" y2="355.4" stroke="#666" stroke-width="1" />
<line x1="374.4" y1="306.4" x2="371.4" y2="306.4" stroke="#666" stroke-width="1" />
<line x1="374.4" y1="257.4" x2="371.4" y2="257.4" stroke="#666" stroke-width="1" />
<line x1="374.4" y1="379.9" x2="372.9" y2="379.9" stroke="#666" stroke-width="1" />
<line x1="374.4" y1="330.9" x2="372.9" y2="330.9" stroke="#666" stroke-width="1" />
<line x1="374.4" y1="281.9" x2="372.9" y2="281.9" stroke="#666" stroke-width="1" />
<line x1="374.4" y1="232.9" x2="372.9" y2="232.9" stroke="#666" stroke-width="1" />
<line x1="648.4" y1="379.4" x2="651.4" y2="379.4" stroke="#666" stroke-width="1" />
<line x1="648.4" y1="333.67" x2="651.4" y2="333.67" stroke="#666" stroke-width="1" />
<line x1="648.4" y1="287.94" x2="651.4" y2="287.94" stroke="#666" stroke-width="1" />
<line x1="648.4" y1="242.21" x2="651.4" y2="242.21" stroke="#666" stroke-width="1" />
<line x1="648.4" y1="356.53" x2="649.9" y2="356.53" stroke="#666" stroke-width="1" />
<line x1="648.4" y1="310.8" x2="649.9" y2="310.8" stroke="#666" stroke-width="1" />
<line x1="648.4" y1="265.07" x2="649.9" y2="265.07" stroke="#666" stroke-width="1" />
<line x1="374.4" y1="379.4" x2="374.4" y2="382.4" stroke="#666" stroke-width="1" />
<line x1="429.2" y1="379.4" x2="429.2" y2="382.4" stroke="#666" stroke-width="1" />
<line x1="484" y1="379.4" x2="484" y2="382.4" stroke="#666" stroke-width="1" />
<line x1="538.8" y1="379.4" x2="538.8" y2="382.4" stroke="#666" stroke-width="1" />
<line x1="593.6" y1="379.4" x2="593.6" y2="382.4" stroke="#666" stroke-width="1" />
<line x1="648.4" y1="379.4" x2="648.4" y2="382.4" stroke="#666" stroke-width="1" />
<text x="369.8" y="359" font-size="10.6" text-anchor="end" fill="#1a1a1a" stroke="#1a1a1a" >200</text>
<text x="369.8" y="310" font-size="10.6" text-anchor="end" fill="#1a1a1a" stroke="#1a1a1a" >300</text>
<text x="369.8" y="261" font-size="10.6" text-anchor="end" fill="#1a1a1a" stroke="#1a1a1a" >400</text>
<text x="653.6" y="383.1" font-size="10.6" text-anchor="start" fill="#1a1a1a" stroke="#1a1a1a" >70</text>
<text x="653.6" y="337.37" font-size="10.6" text-anchor="start" fill="#1a1a1a" stroke="#1a1a1a" >80</text>
<text x="653.6" y="291.64" font-size="10.6" text-anchor="start" fill="#1a1a1a" stroke="#1a1a1a" >90</text>
<text x="653.6" y="245.91" font-size="10.6" text-anchor="start" fill="#1a1a1a" stroke="#1a1a1a" >100</text>
<text x="374.4" y="393" font-size="10.6" text-anchor="middle" fill="#1a1a1a" stroke="#1a1a1a" >0</text>
<text x="429.2" y="393" font-size="10.6" text-anchor="middle" fill="#1a1a1a" stroke="#1a1a1a" >100</text>
<text x="484" y="393" font-size="10.6" text-anchor="middle" fill="#1a1a1a" stroke="#1a1a1a" >200</text>
<text x="538.8" y="393" font-size="10.6" text-anchor="middle" fill="#1a1a1a" stroke="#1a1a1a" >300</text>
<text x="593.6" y="393" font-size="10.6" text-anchor="middle" fill="#1a1a1a" stroke="#1a1a1a" >400</text>
<text x="648.4" y="393" font-size="10.6" text-anchor="middle" fill="#1a1a1a" stroke="#1a1a1a" >500</text>
<text x="514.9" y="408" font-size="10.85" text-anchor="middle" fill="#1a1a1a" stroke="#1a1a1a" >Cycle number</text>
<text x="682.3" y="308" font-size="10.85" text-anchor="middle" fill="#1a1a1a" stroke="#1a1a1a" transform="rotate(-90 682.3 308)" >Coulombic efficiency / %</text>
<text x="298" y="238.8" font-size="12" text-anchor="start" fill="#1f1515" stroke="#1f1515" font-weight="bold" >d</text>
<text x="376.6" y="272.5" font-size="11.2" text-anchor="start" fill="#1a1a1a" stroke="#1a1a1a" >5 mA cm<tspan font-size="7.62" dx="0.34" dy="-5.04">-2</tspan><tspan dy="5.04">&#8203;</tspan></text>
<text x="398.5" y="316.8" font-size="11.2" text-anchor="start" fill="#1a1a1a" stroke="#1a1a1a" >10 mA cm<tspan font-size="7.62" dx="0.34" dy="-5.04">-2</tspan><tspan dy="5.04">&#8203;</tspan></text>
<text x="398.5" y="343" font-size="11.2" text-anchor="start" fill="#1a1a1a" stroke="#1a1a1a" >18 mA cm<tspan font-size="7.62" dx="0.34" dy="-5.04">-2</tspan><tspan dy="5.04">&#8203;</tspan></text>
<text x="540.5" y="281.5" font-size="11.2" text-anchor="start" fill="#1a1a1a" stroke="#1a1a1a" >5 mA cm<tspan font-size="7.62" dx="0.34" dy="-5.04">-2</tspan><tspan dy="5.04">&#8203;</tspan></text>
<text x="612.8" y="321.2" font-size="11.2" text-anchor="start" fill="#1a1a1a" stroke="#1a1a1a" >85%</text>
<path d="M648,304 Q647,313 636.5,316.5" stroke="#111" stroke-width="1.2" fill="none"/>
<polygon points="635.08,316.97 639.6,313.15 640.99,317.32" fill="#111" stroke="none" stroke-width="1" />
<line x1="473" y1="326" x2="497" y2="326" stroke="#e05858" stroke-width="1.3" />
<circle cx="485" cy="326" r="3.6" stroke="#e05858" stroke-width="1.3" fill="#fff" />
<text x="501" y="330.2" font-size="10.95" text-anchor="start" fill="#1a1a1a" stroke="#1a1a1a" >Capacity</text>
<line x1="473" y1="339.6" x2="497" y2="339.6" stroke="#e05858" stroke-width="1.3" />
<rect x="482" y="336.6" width="6" height="6" stroke="#e05858" stroke-width="1.3" fill="#fff" />
<text x="501" y="343.6" font-size="10.95" text-anchor="start" fill="#1a1a1a" stroke="#1a1a1a" >Coulombic efficiency</text>
<text x="552.4" y="374.6" font-size="10.95" text-anchor="start" fill="#1a1a1a" stroke="#1a1a1a" >77 mAh pouch cell</text>
<polyline points="413,353.5 413,357.5 394,357.5" stroke="#111" stroke-width="1.1" fill="none" />
<polygon points="391,357.5 395.5,355.5 395.5,359.5" fill="#111" stroke="none" stroke-width="1" />
<polyline points="617,254 617,257.6 636,257.6" stroke="#111" stroke-width="1.1" fill="none" />
<polygon points="639,257.6 634.5,255.6 634.5,259.6" fill="#111" stroke="none" stroke-width="1" />
<line x1="333.4" y1="565.15" x2="648.4" y2="565.15" stroke="#c8c8c8" stroke-width="0.9" />
<line x1="333.4" y1="532.69" x2="648.4" y2="532.69" stroke="#c8c8c8" stroke-width="0.9" />
<line x1="333.4" y1="500.24" x2="648.4" y2="500.24" stroke="#c8c8c8" stroke-width="0.9" />
<line x1="333.4" y1="467.78" x2="648.4" y2="467.78" stroke="#c8c8c8" stroke-width="0.9" />
<line x1="333.4" y1="451.6" x2="333.4" y2="597.6" stroke="#777" stroke-width="1.2" />
<line x1="333.4" y1="597.6" x2="330.4" y2="597.6" stroke="#777" stroke-width="1" />
<line x1="333.4" y1="565.15" x2="330.4" y2="565.15" stroke="#777" stroke-width="1" />
<line x1="333.4" y1="532.69" x2="330.4" y2="532.69" stroke="#777" stroke-width="1" />
<line x1="333.4" y1="500.24" x2="330.4" y2="500.24" stroke="#777" stroke-width="1" />
<line x1="333.4" y1="467.78" x2="330.4" y2="467.78" stroke="#777" stroke-width="1" />
<line x1="333.4" y1="581.37" x2="331.9" y2="581.37" stroke="#777" stroke-width="1" />
<line x1="333.4" y1="548.92" x2="331.9" y2="548.92" stroke="#777" stroke-width="1" />
<line x1="333.4" y1="516.47" x2="331.9" y2="516.47" stroke="#777" stroke-width="1" />
<line x1="333.4" y1="484.01" x2="331.9" y2="484.01" stroke="#777" stroke-width="1" />
<line x1="333.4" y1="451.56" x2="331.9" y2="451.56" stroke="#777" stroke-width="1" />
<text x="328.4" y="601.2" font-size="10.6" text-anchor="end" fill="#1a1a1a" stroke="#1a1a1a" >0.0</text>
<text x="328.4" y="568.75" font-size="10.6" text-anchor="end" fill="#1a1a1a" stroke="#1a1a1a" >0.3</text>
<text x="328.4" y="536.29" font-size="10.6" text-anchor="end" fill="#1a1a1a" stroke="#1a1a1a" >0.6</text>
<text x="328.4" y="503.84" font-size="10.6" text-anchor="end" fill="#1a1a1a" stroke="#1a1a1a" >1.0</text>
<text x="328.4" y="471.38" font-size="10.6" text-anchor="end" fill="#1a1a1a" stroke="#1a1a1a" >1.3</text>
<text x="307.5" y="525.9" font-size="10.85" text-anchor="middle" fill="#1a1a1a" stroke="#1a1a1a" transform="rotate(-90 307.5 525.9)" >Capacity / Ah</text>
<text x="349.9" y="525.2" font-size="10.85" text-anchor="middle" fill="#1a1a1a" stroke="#1a1a1a" transform="rotate(-90 349.9 525.2)" >Capacity / mAh cm<tspan font-size="7.38" dx="0.33" dy="-4.88">-2</tspan><tspan dy="4.88">&#8203;</tspan></text>
<clipPath id="cpg"><rect x="374.4" y="451.6" width="274" height="146"/></clipPath><g clip-path="url(#cpg)">
<rect x="372.6" y="458.69" width="5.2" height="5.2" stroke="#e05858" stroke-width="1.2" fill="none" />
<rect x="374.79" y="458.98" width="5.2" height="5.2" stroke="#e05858" stroke-width="1.2" fill="none" />
<rect x="376.98" y="459.11" width="5.2" height="5.2" stroke="#e05858" stroke-width="1.2" fill="none" />
<rect x="379.18" y="459.46" width="5.2" height="5.2" stroke="#e05858" stroke-width="1.2" fill="none" />
<rect x="381.37" y="459.4" width="5.2" height="5.2" stroke="#e05858" stroke-width="1.2" fill="none" />
<rect x="383.56" y="465.9" width="5.2" height="5.2" stroke="#e05858" stroke-width="1.2" fill="none" />
<rect x="385.75" y="462.6" width="5.2" height="5.2" stroke="#e05858" stroke-width="1.2" fill="none" />
<rect x="387.94" y="465.4" width="5.2" height="5.2" stroke="#e05858" stroke-width="1.2" fill="none" />
<rect x="390.14" y="461.4" width="5.2" height="5.2" stroke="#e05858" stroke-width="1.2" fill="none" />
<rect x="392.33" y="459.4" width="5.2" height="5.2" stroke="#e05858" stroke-width="1.2" fill="none" />
<rect x="394.52" y="458.98" width="5.2" height="5.2" stroke="#e05858" stroke-width="1.2" fill="none" />
<rect x="396.71" y="459.41" width="5.2" height="5.2" stroke="#e05858" stroke-width="1.2" fill="none" />
<rect x="398.9" y="457.27" width="5.2" height="5.2" stroke="#e05858" stroke-width="1.2" fill="none" />
<rect x="401.1" y="458.32" width="5.2" height="5.2" stroke="#e05858" stroke-width="1.2" fill="none" />
<rect x="403.29" y="459.46" width="5.2" height="5.2" stroke="#e05858" stroke-width="1.2" fill="none" />
<rect x="405.48" y="458.76" width="5.2" height="5.2" stroke="#e05858" stroke-width="1.2" fill="none" />
<rect x="407.67" y="459.36" width="5.2" height="5.2" stroke="#e05858" stroke-width="1.2" fill="none" />
<rect x="409.86" y="457.47" width="5.2" height="5.2" stroke="#e05858" stroke-width="1.2" fill="none" />
<rect x="412.06" y="458.33" width="5.2" height="5.2" stroke="#e05858" stroke-width="1.2" fill="none" />
<rect x="414.25" y="457.79" width="5.2" height="5.2" stroke="#e05858" stroke-width="1.2" fill="none" />
<rect x="416.44" y="458.51" width="5.2" height="5.2" stroke="#e05858" stroke-width="1.2" fill="none" />
<rect x="418.63" y="458.58" width="5.2" height="5.2" stroke="#e05858" stroke-width="1.2" fill="none" />
<rect x="420.82" y="457.23" width="5.2" height="5.2" stroke="#e05858" stroke-width="1.2" fill="none" />
<rect x="423.02" y="457.72" width="5.2" height="5.2" stroke="#e05858" stroke-width="1.2" fill="none" />
<rect x="425.21" y="457.87" width="5.2" height="5.2" stroke="#e05858" stroke-width="1.2" fill="none" />
<rect x="427.4" y="459.4" width="5.2" height="5.2" stroke="#e05858" stroke-width="1.2" fill="none" />
<rect x="429.59" y="459.04" width="5.2" height="5.2" stroke="#e05858" stroke-width="1.2" fill="none" />
<rect x="431.78" y="457.58" width="5.2" height="5.2" stroke="#e05858" stroke-width="1.2" fill="none" />
<rect x="433.98" y="459.11" width="5.2" height="5.2" stroke="#e05858" stroke-width="1.2" fill="none" />
<rect x="436.17" y="457.53" width="5.2" height="5.2" stroke="#e05858" stroke-width="1.2" fill="none" />
<rect x="438.36" y="458.68" width="5.2" height="5.2" stroke="#e05858" stroke-width="1.2" fill="none" />
<rect x="440.55" y="457.5" width="5.2" height="5.2" stroke="#e05858" stroke-width="1.2" fill="none" />
<rect x="442.74" y="457.2" width="5.2" height="5.2" stroke="#e05858" stroke-width="1.2" fill="none" />
<rect x="444.94" y="459.29" width="5.2" height="5.2" stroke="#e05858" stroke-width="1.2" fill="none" />
<rect x="447.13" y="457.7" width="5.2" height="5.2" stroke="#e05858" stroke-width="1.2" fill="none" />
<rect x="449.32" y="457.72" width="5.2" height="5.2" stroke="#e05858" stroke-width="1.2" fill="none" />
<rect x="451.51" y="459.56" width="5.2" height="5.2" stroke="#e05858" stroke-width="1.2" fill="none" />
<rect x="453.7" y="459.29" width="5.2" height="5.2" stroke="#e05858" stroke-width="1.2" fill="none" />
<rect x="455.9" y="457.89" width="5.2" height="5.2" stroke="#e05858" stroke-width="1.2" fill="none" />
<rect x="458.09" y="459.51" width="5.2" height="5.2" stroke="#e05858" stroke-width="1.2" fill="none" />
<rect x="460.28" y="458.49" width="5.2" height="5.2" stroke="#e05858" stroke-width="1.2" fill="none" />
<rect x="462.47" y="458.83" width="5.2" height="5.2" stroke="#e05858" stroke-width="1.2" fill="none" />
<rect x="464.66" y="457.69" width="5.2" height="5.2" stroke="#e05858" stroke-width="1.2" fill="none" />
<rect x="466.86" y="459.46" width="5.2" height="5.2" stroke="#e05858" stroke-width="1.2" fill="none" />
<rect x="469.05" y="458.86" width="5.2" height="5.2" stroke="#e05858" stroke-width="1.2" fill="none" />
<rect x="471.24" y="459.52" width="5.2" height="5.2" stroke="#e05858" stroke-width="1.2" fill="none" />
<rect x="473.43" y="459.34" width="5.2" height="5.2" stroke="#e05858" stroke-width="1.2" fill="none" />
<rect x="475.62" y="457.92" width="5.2" height="5.2" stroke="#e05858" stroke-width="1.2" fill="none" />
<rect x="477.82" y="458.07" width="5.2" height="5.2" stroke="#e05858" stroke-width="1.2" fill="none" />
<rect x="480.01" y="457.6" width="5.2" height="5.2" stroke="#e05858" stroke-width="1.2" fill="none" />
<rect x="482.2" y="457.55" width="5.2" height="5.2" stroke="#e05858" stroke-width="1.2" fill="none" />
<rect x="484.39" y="457.36" width="5.2" height="5.2" stroke="#e05858" stroke-width="1.2" fill="none" />
<rect x="486.58" y="457.92" width="5.2" height="5.2" stroke="#e05858" stroke-width="1.2" fill="none" />
<rect x="488.78" y="458.65" width="5.2" height="5.2" stroke="#e05858" stroke-width="1.2" fill="none" />
<rect x="490.97" y="457.21" width="5.2" height="5.2" stroke="#e05858" stroke-width="1.2" fill="none" />
<rect x="493.16" y="458.83" width="5.2" height="5.2" stroke="#e05858" stroke-width="1.2" fill="none" />
<rect x="495.35" y="458.01" width="5.2" height="5.2" stroke="#e05858" stroke-width="1.2" fill="none" />
<rect x="497.54" y="457.94" width="5.2" height="5.2" stroke="#e05858" stroke-width="1.2" fill="none" />
<rect x="499.74" y="459.16" width="5.2" height="5.2" stroke="#e05858" stroke-width="1.2" fill="none" />
<rect x="501.93" y="458.35" width="5.2" height="5.2" stroke="#e05858" stroke-width="1.2" fill="none" />
<rect x="504.12" y="457.96" width="5.2" height="5.2" stroke="#e05858" stroke-width="1.2" fill="none" />
<rect x="506.31" y="458.35" width="5.2" height="5.2" stroke="#e05858" stroke-width="1.2" fill="none" />
<rect x="508.5" y="458.89" width="5.2" height="5.2" stroke="#e05858" stroke-width="1.2" fill="none" />
<rect x="510.7" y="457.34" width="5.2" height="5.2" stroke="#e05858" stroke-width="1.2" fill="none" />
<rect x="512.89" y="459.54" width="5.2" height="5.2" stroke="#e05858" stroke-width="1.2" fill="none" />
<rect x="515.08" y="457.25" width="5.2" height="5.2" stroke="#e05858" stroke-width="1.2" fill="none" />
<rect x="517.27" y="459" width="5.2" height="5.2" stroke="#e05858" stroke-width="1.2" fill="none" />
<rect x="519.46" y="459.23" width="5.2" height="5.2" stroke="#e05858" stroke-width="1.2" fill="none" />
<rect x="521.66" y="457.24" width="5.2" height="5.2" stroke="#e05858" stroke-width="1.2" fill="none" />
<rect x="523.85" y="459.09" width="5.2" height="5.2" stroke="#e05858" stroke-width="1.2" fill="none" />
<rect x="526.04" y="458.08" width="5.2" height="5.2" stroke="#e05858" stroke-width="1.2" fill="none" />
<rect x="528.23" y="458.59" width="5.2" height="5.2" stroke="#e05858" stroke-width="1.2" fill="none" />
<rect x="530.42" y="457.22" width="5.2" height="5.2" stroke="#e05858" stroke-width="1.2" fill="none" />
<rect x="532.62" y="457.31" width="5.2" height="5.2" stroke="#e05858" stroke-width="1.2" fill="none" />
<rect x="534.81" y="457.63" width="5.2" height="5.2" stroke="#e05858" stroke-width="1.2" fill="none" />
<rect x="537" y="459.49" width="5.2" height="5.2" stroke="#e05858" stroke-width="1.2" fill="none" />
<rect x="539.19" y="457.67" width="5.2" height="5.2" stroke="#e05858" stroke-width="1.2" fill="none" />
<rect x="541.38" y="459.01" width="5.2" height="5.2" stroke="#e05858" stroke-width="1.2" fill="none" />
<rect x="543.58" y="459.43" width="5.2" height="5.2" stroke="#e05858" stroke-width="1.2" fill="none" />
<rect x="545.77" y="459.46" width="5.2" height="5.2" stroke="#e05858" stroke-width="1.2" fill="none" />
<rect x="547.96" y="458.03" width="5.2" height="5.2" stroke="#e05858" stroke-width="1.2" fill="none" />
<rect x="550.15" y="458.05" width="5.2" height="5.2" stroke="#e05858" stroke-width="1.2" fill="none" />
<rect x="552.34" y="458.46" width="5.2" height="5.2" stroke="#e05858" stroke-width="1.2" fill="none" />
<rect x="554.54" y="459.06" width="5.2" height="5.2" stroke="#e05858" stroke-width="1.2" fill="none" />
<rect x="556.73" y="457.46" width="5.2" height="5.2" stroke="#e05858" stroke-width="1.2" fill="none" />
<rect x="558.92" y="459" width="5.2" height="5.2" stroke="#e05858" stroke-width="1.2" fill="none" />
<rect x="561.11" y="459.11" width="5.2" height="5.2" stroke="#e05858" stroke-width="1.2" fill="none" />
<rect x="563.3" y="459.26" width="5.2" height="5.2" stroke="#e05858" stroke-width="1.2" fill="none" />
<rect x="565.5" y="457.29" width="5.2" height="5.2" stroke="#e05858" stroke-width="1.2" fill="none" />
<rect x="567.69" y="459.47" width="5.2" height="5.2" stroke="#e05858" stroke-width="1.2" fill="none" />
<rect x="569.88" y="457.42" width="5.2" height="5.2" stroke="#e05858" stroke-width="1.2" fill="none" />
<rect x="572.07" y="458.02" width="5.2" height="5.2" stroke="#e05858" stroke-width="1.2" fill="none" />
<rect x="574.26" y="458.67" width="5.2" height="5.2" stroke="#e05858" stroke-width="1.2" fill="none" />
<rect x="576.46" y="459.4" width="5.2" height="5.2" stroke="#e05858" stroke-width="1.2" fill="none" />
<rect x="578.65" y="458.02" width="5.2" height="5.2" stroke="#e05858" stroke-width="1.2" fill="none" />
<rect x="580.84" y="459.42" width="5.2" height="5.2" stroke="#e05858" stroke-width="1.2" fill="none" />
<rect x="583.03" y="458.51" width="5.2" height="5.2" stroke="#e05858" stroke-width="1.2" fill="none" />
<rect x="585.22" y="457.95" width="5.2" height="5.2" stroke="#e05858" stroke-width="1.2" fill="none" />
<rect x="587.42" y="457.96" width="5.2" height="5.2" stroke="#e05858" stroke-width="1.2" fill="none" />
<rect x="589.61" y="457.63" width="5.2" height="5.2" stroke="#e05858" stroke-width="1.2" fill="none" />
<rect x="591.8" y="457.39" width="5.2" height="5.2" stroke="#e05858" stroke-width="1.2" fill="none" />
<rect x="593.99" y="457.56" width="5.2" height="5.2" stroke="#e05858" stroke-width="1.2" fill="none" />
<rect x="596.18" y="458.85" width="5.2" height="5.2" stroke="#e05858" stroke-width="1.2" fill="none" />
<rect x="598.38" y="459.59" width="5.2" height="5.2" stroke="#e05858" stroke-width="1.2" fill="none" />
<rect x="600.57" y="457.59" width="5.2" height="5.2" stroke="#e05858" stroke-width="1.2" fill="none" />
<rect x="602.76" y="457.32" width="5.2" height="5.2" stroke="#e05858" stroke-width="1.2" fill="none" />
<rect x="604.95" y="459.57" width="5.2" height="5.2" stroke="#e05858" stroke-width="1.2" fill="none" />
<rect x="607.14" y="458.48" width="5.2" height="5.2" stroke="#e05858" stroke-width="1.2" fill="none" />
<rect x="609.34" y="458.17" width="5.2" height="5.2" stroke="#e05858" stroke-width="1.2" fill="none" />
<rect x="611.53" y="457.77" width="5.2" height="5.2" stroke="#e05858" stroke-width="1.2" fill="none" />
<rect x="613.72" y="458.63" width="5.2" height="5.2" stroke="#e05858" stroke-width="1.2" fill="none" />
<rect x="615.91" y="459.18" width="5.2" height="5.2" stroke="#e05858" stroke-width="1.2" fill="none" />
<rect x="618.1" y="458.29" width="5.2" height="5.2" stroke="#e05858" stroke-width="1.2" fill="none" />
<rect x="620.3" y="458.21" width="5.2" height="5.2" stroke="#e05858" stroke-width="1.2" fill="none" />
<rect x="622.49" y="457.33" width="5.2" height="5.2" stroke="#e05858" stroke-width="1.2" fill="none" />
<rect x="624.68" y="455.4" width="5.2" height="5.2" stroke="#e05858" stroke-width="1.2" fill="none" />
<rect x="626.87" y="456.4" width="5.2" height="5.2" stroke="#e05858" stroke-width="1.2" fill="none" />
<rect x="629.06" y="461.4" width="5.2" height="5.2" stroke="#e05858" stroke-width="1.2" fill="none" />
<rect x="631.26" y="458.4" width="5.2" height="5.2" stroke="#e05858" stroke-width="1.2" fill="none" />
<rect x="633.45" y="458.4" width="5.2" height="5.2" stroke="#e05858" stroke-width="1.2" fill="none" />
<rect x="635.64" y="458.4" width="5.2" height="5.2" stroke="#e05858" stroke-width="1.2" fill="none" />
<rect x="637.83" y="456.4" width="5.2" height="5.2" stroke="#e05858" stroke-width="1.2" fill="none" />
<rect x="640.02" y="455.4" width="5.2" height="5.2" stroke="#e05858" stroke-width="1.2" fill="none" />
<rect x="642.22" y="458.4" width="5.2" height="5.2" stroke="#e05858" stroke-width="1.2" fill="none" />
<rect x="644.41" y="456.4" width="5.2" height="5.2" stroke="#e05858" stroke-width="1.2" fill="none" />
<rect x="646.6" y="461.4" width="5.2" height="5.2" stroke="#e05858" stroke-width="1.2" fill="none" />
<polyline points="376.6,470.6 379.9,473.9 383.1,477.2 385.8,479.8 388,510.5 390.8,513.4" stroke="#e05858" stroke-width="1.3" fill="none" />
<circle cx="376.6" cy="470.6" r="3.2" stroke="#e05858" stroke-width="1.3" fill="none" />
<circle cx="379.9" cy="473.9" r="3.2" stroke="#e05858" stroke-width="1.3" fill="none" />
<circle cx="383.1" cy="477.2" r="3.2" stroke="#e05858" stroke-width="1.3" fill="none" />
<circle cx="385.8" cy="479.8" r="3.2" stroke="#e05858" stroke-width="1.3" fill="none" />
<circle cx="388" cy="510.5" r="3.2" stroke="#e05858" stroke-width="1.3" fill="none" />
<circle cx="390.8" cy="513.4" r="3.2" stroke="#e05858" stroke-width="1.3" fill="none" />
<circle cx="393.6" cy="516.2" r="3.2" stroke="#e05858" stroke-width="1.3" fill="none" />
<circle cx="396.3" cy="520" r="3.2" stroke="#e05858" stroke-width="1.3" fill="none" />
<circle cx="398.5" cy="523.2" r="3.2" stroke="#e05858" stroke-width="1.3" fill="none" />
<circle cx="401" cy="525.07" r="2.9" stroke="#e05858" stroke-width="1.2" fill="none" />
<circle cx="403.19" cy="525.18" r="2.9" stroke="#e05858" stroke-width="1.2" fill="none" />
<circle cx="405.38" cy="525.12" r="2.9" stroke="#e05858" stroke-width="1.2" fill="none" />
<circle cx="407.57" cy="525.97" r="2.9" stroke="#e05858" stroke-width="1.2" fill="none" />
<circle cx="409.76" cy="525.19" r="2.9" stroke="#e05858" stroke-width="1.2" fill="none" />
<circle cx="411.95" cy="525.7" r="2.9" stroke="#e05858" stroke-width="1.2" fill="none" />
<circle cx="414.14" cy="526.06" r="2.9" stroke="#e05858" stroke-width="1.2" fill="none" />
<circle cx="416.33" cy="525.16" r="2.9" stroke="#e05858" stroke-width="1.2" fill="none" />
<circle cx="418.52" cy="525.49" r="2.9" stroke="#e05858" stroke-width="1.2" fill="none" />
<circle cx="420.71" cy="525.38" r="2.9" stroke="#e05858" stroke-width="1.2" fill="none" />
<circle cx="422.9" cy="524.59" r="2.9" stroke="#e05858" stroke-width="1.2" fill="none" />
<circle cx="425.09" cy="524.69" r="2.9" stroke="#e05858" stroke-width="1.2" fill="none" />
<circle cx="427.28" cy="524.77" r="2.9" stroke="#e05858" stroke-width="1.2" fill="none" />
<circle cx="429.47" cy="524.28" r="2.9" stroke="#e05858" stroke-width="1.2" fill="none" />
<circle cx="431.66" cy="524.32" r="2.9" stroke="#e05858" stroke-width="1.2" fill="none" />
<circle cx="433.85" cy="523.55" r="2.9" stroke="#e05858" stroke-width="1.2" fill="none" />
<circle cx="436.04" cy="523.46" r="2.9" stroke="#e05858" stroke-width="1.2" fill="none" />
<circle cx="438.23" cy="523.21" r="2.9" stroke="#e05858" stroke-width="1.2" fill="none" />
<circle cx="440.42" cy="523.53" r="2.9" stroke="#e05858" stroke-width="1.2" fill="none" />
<circle cx="442.61" cy="523.92" r="2.9" stroke="#e05858" stroke-width="1.2" fill="none" />
<circle cx="444.8" cy="523.62" r="2.9" stroke="#e05858" stroke-width="1.2" fill="none" />
<circle cx="446.99" cy="523.9" r="2.9" stroke="#e05858" stroke-width="1.2" fill="none" />
<circle cx="449.18" cy="523.64" r="2.9" stroke="#e05858" stroke-width="1.2" fill="none" />
<circle cx="451.37" cy="524.18" r="2.9" stroke="#e05858" stroke-width="1.2" fill="none" />
<circle cx="453.56" cy="523.75" r="2.9" stroke="#e05858" stroke-width="1.2" fill="none" />
<circle cx="455.75" cy="524.17" r="2.9" stroke="#e05858" stroke-width="1.2" fill="none" />
<circle cx="457.94" cy="524.8" r="2.9" stroke="#e05858" stroke-width="1.2" fill="none" />
<circle cx="460.13" cy="525.1" r="2.9" stroke="#e05858" stroke-width="1.2" fill="none" />
<circle cx="462.32" cy="525.02" r="2.9" stroke="#e05858" stroke-width="1.2" fill="none" />
<circle cx="464.51" cy="524.89" r="2.9" stroke="#e05858" stroke-width="1.2" fill="none" />
<circle cx="466.7" cy="525.24" r="2.9" stroke="#e05858" stroke-width="1.2" fill="none" />
<circle cx="468.89" cy="525.31" r="2.9" stroke="#e05858" stroke-width="1.2" fill="none" />
<circle cx="471.08" cy="525.46" r="2.9" stroke="#e05858" stroke-width="1.2" fill="none" />
<circle cx="473.27" cy="526.01" r="2.9" stroke="#e05858" stroke-width="1.2" fill="none" />
<circle cx="475.46" cy="525.37" r="2.9" stroke="#e05858" stroke-width="1.2" fill="none" />
<circle cx="477.65" cy="525.97" r="2.9" stroke="#e05858" stroke-width="1.2" fill="none" />
<circle cx="479.84" cy="525.82" r="2.9" stroke="#e05858" stroke-width="1.2" fill="none" />
<circle cx="482.03" cy="524.82" r="2.9" stroke="#e05858" stroke-width="1.2" fill="none" />
<circle cx="484.22" cy="524.93" r="2.9" stroke="#e05858" stroke-width="1.2" fill="none" />
<circle cx="486.41" cy="524.81" r="2.9" stroke="#e05858" stroke-width="1.2" fill="none" />
<circle cx="488.6" cy="524.1" r="2.9" stroke="#e05858" stroke-width="1.2" fill="none" />
<circle cx="490.79" cy="524.26" r="2.9" stroke="#e05858" stroke-width="1.2" fill="none" />
<circle cx="492.98" cy="524.51" r="2.9" stroke="#e05858" stroke-width="1.2" fill="none" />
<circle cx="495.17" cy="523.51" r="2.9" stroke="#e05858" stroke-width="1.2" fill="none" />
<circle cx="497.36" cy="523.82" r="2.9" stroke="#e05858" stroke-width="1.2" fill="none" />
<circle cx="499.55" cy="523.22" r="2.9" stroke="#e05858" stroke-width="1.2" fill="none" />
<circle cx="501.74" cy="523.6" r="2.9" stroke="#e05858" stroke-width="1.2" fill="none" />
<circle cx="503.93" cy="523.9" r="2.9" stroke="#e05858" stroke-width="1.2" fill="none" />
<circle cx="506.12" cy="523.24" r="2.9" stroke="#e05858" stroke-width="1.2" fill="none" />
<circle cx="508.31" cy="523.13" r="2.9" stroke="#e05858" stroke-width="1.2" fill="none" />
<circle cx="510.5" cy="523.34" r="2.9" stroke="#e05858" stroke-width="1.2" fill="none" />
<circle cx="512.69" cy="523.97" r="2.9" stroke="#e05858" stroke-width="1.2" fill="none" />
<circle cx="514.88" cy="523.66" r="2.9" stroke="#e05858" stroke-width="1.2" fill="none" />
<circle cx="517.07" cy="523.96" r="2.9" stroke="#e05858" stroke-width="1.2" fill="none" />
<circle cx="519.26" cy="524.62" r="2.9" stroke="#e05858" stroke-width="1.2" fill="none" />
<circle cx="521.45" cy="525.29" r="2.9" stroke="#e05858" stroke-width="1.2" fill="none" />
<circle cx="523.64" cy="525.02" r="2.9" stroke="#e05858" stroke-width="1.2" fill="none" />
<circle cx="525.83" cy="525.2" r="2.9" stroke="#e05858" stroke-width="1.2" fill="none" />
<circle cx="528.02" cy="525.61" r="2.9" stroke="#e05858" stroke-width="1.2" fill="none" />
<circle cx="530.21" cy="525.19" r="2.9" stroke="#e05858" stroke-width="1.2" fill="none" />
<circle cx="532.4" cy="525.76" r="2.9" stroke="#e05858" stroke-width="1.2" fill="none" />
<circle cx="534.59" cy="525.37" r="2.9" stroke="#e05858" stroke-width="1.2" fill="none" />
<circle cx="536.78" cy="525.78" r="2.9" stroke="#e05858" stroke-width="1.2" fill="none" />
<circle cx="538.97" cy="526.04" r="2.9" stroke="#e05858" stroke-width="1.2" fill="none" />
<circle cx="541.16" cy="525" r="2.9" stroke="#e05858" stroke-width="1.2" fill="none" />
<circle cx="543.35" cy="525.33" r="2.9" stroke="#e05858" stroke-width="1.2" fill="none" />
<circle cx="545.54" cy="525.17" r="2.9" stroke="#e05858" stroke-width="1.2" fill="none" />
<circle cx="547.73" cy="524.48" r="2.9" stroke="#e05858" stroke-width="1.2" fill="none" />
<circle cx="549.92" cy="524.35" r="2.9" stroke="#e05858" stroke-width="1.2" fill="none" />
<circle cx="552.11" cy="524.83" r="2.9" stroke="#e05858" stroke-width="1.2" fill="none" />
<circle cx="554.3" cy="524.6" r="2.9" stroke="#e05858" stroke-width="1.2" fill="none" />
<circle cx="556.49" cy="523.52" r="2.9" stroke="#e05858" stroke-width="1.2" fill="none" />
<circle cx="558.68" cy="523.93" r="2.9" stroke="#e05858" stroke-width="1.2" fill="none" />
<circle cx="560.87" cy="524.05" r="2.9" stroke="#e05858" stroke-width="1.2" fill="none" />
<circle cx="563.06" cy="523.26" r="2.9" stroke="#e05858" stroke-width="1.2" fill="none" />
<circle cx="565.25" cy="523.61" r="2.9" stroke="#e05858" stroke-width="1.2" fill="none" />
<circle cx="567.44" cy="523.07" r="2.9" stroke="#e05858" stroke-width="1.2" fill="none" />
<circle cx="569.63" cy="523.48" r="2.9" stroke="#e05858" stroke-width="1.2" fill="none" />
<circle cx="571.82" cy="523.92" r="2.9" stroke="#e05858" stroke-width="1.2" fill="none" />
<circle cx="574.01" cy="524.02" r="2.9" stroke="#e05858" stroke-width="1.2" fill="none" />
<circle cx="576.2" cy="524.41" r="2.9" stroke="#e05858" stroke-width="1.2" fill="none" />
<circle cx="578.39" cy="523.96" r="2.9" stroke="#e05858" stroke-width="1.2" fill="none" />
<circle cx="580.58" cy="524.46" r="2.9" stroke="#e05858" stroke-width="1.2" fill="none" />
<circle cx="582.77" cy="525.22" r="2.9" stroke="#e05858" stroke-width="1.2" fill="none" />
<circle cx="584.96" cy="525.17" r="2.9" stroke="#e05858" stroke-width="1.2" fill="none" />
<circle cx="587.15" cy="525.25" r="2.9" stroke="#e05858" stroke-width="1.2" fill="none" />
<circle cx="589.34" cy="525.37" r="2.9" stroke="#e05858" stroke-width="1.2" fill="none" />
<circle cx="591.53" cy="526.08" r="2.9" stroke="#e05858" stroke-width="1.2" fill="none" />
<circle cx="593.72" cy="525.75" r="2.9" stroke="#e05858" stroke-width="1.2" fill="none" />
<circle cx="595.91" cy="525.22" r="2.9" stroke="#e05858" stroke-width="1.2" fill="none" />
<circle cx="598.1" cy="525.97" r="2.9" stroke="#e05858" stroke-width="1.2" fill="none" />
<circle cx="600.29" cy="525.41" r="2.9" stroke="#e05858" stroke-width="1.2" fill="none" />
<circle cx="602.48" cy="525.39" r="2.9" stroke="#e05858" stroke-width="1.2" fill="none" />
<circle cx="604.67" cy="524.99" r="2.9" stroke="#e05858" stroke-width="1.2" fill="none" />
<circle cx="606.86" cy="525.01" r="2.9" stroke="#e05858" stroke-width="1.2" fill="none" />
<circle cx="609.05" cy="524.66" r="2.9" stroke="#e05858" stroke-width="1.2" fill="none" />
<circle cx="611.24" cy="524.18" r="2.9" stroke="#e05858" stroke-width="1.2" fill="none" />
<circle cx="613.43" cy="524.47" r="2.9" stroke="#e05858" stroke-width="1.2" fill="none" />
<circle cx="615.62" cy="523.72" r="2.9" stroke="#e05858" stroke-width="1.2" fill="none" />
<circle cx="617.81" cy="524.19" r="2.9" stroke="#e05858" stroke-width="1.2" fill="none" />
<circle cx="620" cy="523.26" r="2.9" stroke="#e05858" stroke-width="1.2" fill="none" />
<circle cx="622.19" cy="523.89" r="2.9" stroke="#e05858" stroke-width="1.2" fill="none" />
<circle cx="624.38" cy="523.83" r="2.9" stroke="#e05858" stroke-width="1.2" fill="none" />
<circle cx="626.57" cy="523.5" r="2.9" stroke="#e05858" stroke-width="1.2" fill="none" />
<circle cx="628.76" cy="524.89" r="2.9" stroke="#e05858" stroke-width="1.2" fill="none" />
<circle cx="630.95" cy="525.66" r="2.9" stroke="#e05858" stroke-width="1.2" fill="none" />
<circle cx="633.14" cy="526.25" r="2.9" stroke="#e05858" stroke-width="1.2" fill="none" />
<circle cx="635.33" cy="526.54" r="2.9" stroke="#e05858" stroke-width="1.2" fill="none" />
<circle cx="637.52" cy="526.46" r="2.9" stroke="#e05858" stroke-width="1.2" fill="none" />
<circle cx="639.71" cy="525.98" r="2.9" stroke="#e05858" stroke-width="1.2" fill="none" />
<circle cx="641.9" cy="525.14" r="2.9" stroke="#e05858" stroke-width="1.2" fill="none" />
<circle cx="644.09" cy="524" r="2.9" stroke="#e05858" stroke-width="1.2" fill="none" />
<circle cx="646.28" cy="522.69" r="2.9" stroke="#e05858" stroke-width="1.2" fill="none" />
</g>
<line x1="374.4" y1="451.6" x2="648.4" y2="451.6" stroke="#555" stroke-width="1" />
<line x1="374.4" y1="597.6" x2="648.4" y2="597.6" stroke="#666" stroke-width="1.2" />
<line x1="374.4" y1="451.6" x2="374.4" y2="597.6" stroke="#666" stroke-width="1.2" />
<line x1="648.4" y1="451.6" x2="648.4" y2="597.6" stroke="#666" stroke-width="1.2" />
<line x1="374.4" y1="597.6" x2="371.4" y2="597.6" stroke="#666" stroke-width="1" />
<line x1="374.4" y1="565.15" x2="371.4" y2="565.15" stroke="#666" stroke-width="1" />
<line x1="374.4" y1="532.69" x2="371.4" y2="532.69" stroke="#666" stroke-width="1" />
<line x1="374.4" y1="500.24" x2="371.4" y2="500.24" stroke="#666" stroke-width="1" />
<line x1="374.4" y1="467.78" x2="371.4" y2="467.78" stroke="#666" stroke-width="1" />
<line x1="374.4" y1="581.37" x2="372.9" y2="581.37" stroke="#666" stroke-width="1" />
<line x1="374.4" y1="548.92" x2="372.9" y2="548.92" stroke="#666" stroke-width="1" />
<line x1="374.4" y1="516.47" x2="372.9" y2="516.47" stroke="#666" stroke-width="1" />
<line x1="374.4" y1="484.01" x2="372.9" y2="484.01" stroke="#666" stroke-width="1" />
<line x1="374.4" y1="451.56" x2="372.9" y2="451.56" stroke="#666" stroke-width="1" />
<line x1="648.4" y1="597.6" x2="651.4" y2="597.6" stroke="#666" stroke-width="1" />
<line x1="648.4" y1="551.87" x2="651.4" y2="551.87" stroke="#666" stroke-width="1" />
<line x1="648.4" y1="506.14" x2="651.4" y2="506.14" stroke="#666" stroke-width="1" />
<line x1="648.4" y1="460.41" x2="651.4" y2="460.41" stroke="#666" stroke-width="1" />
<line x1="648.4" y1="574.74" x2="649.9" y2="574.74" stroke="#666" stroke-width="1" />
<line x1="648.4" y1="529" x2="649.9" y2="529" stroke="#666" stroke-width="1" />
<line x1="648.4" y1="483.27" x2="649.9" y2="483.27" stroke="#666" stroke-width="1" />
<line x1="374.4" y1="597.6" x2="374.4" y2="600.6" stroke="#666" stroke-width="1" />
<line x1="429.2" y1="597.6" x2="429.2" y2="600.6" stroke="#666" stroke-width="1" />
<line x1="484" y1="597.6" x2="484" y2="600.6" stroke="#666" stroke-width="1" />
<line x1="538.8" y1="597.6" x2="538.8" y2="600.6" stroke="#666" stroke-width="1" />
<line x1="593.6" y1="597.6" x2="593.6" y2="600.6" stroke="#666" stroke-width="1" />
<line x1="648.4" y1="597.6" x2="648.4" y2="600.6" stroke="#666" stroke-width="1" />
<text x="369.8" y="601.2" font-size="10.6" text-anchor="end" fill="#1a1a1a" stroke="#1a1a1a" >0.0</text>
<text x="369.8" y="568.75" font-size="10.6" text-anchor="end" fill="#1a1a1a" stroke="#1a1a1a" >1.8</text>
<text x="369.8" y="536.29" font-size="10.6" text-anchor="end" fill="#1a1a1a" stroke="#1a1a1a" >3.6</text>
<text x="369.8" y="503.84" font-size="10.6" text-anchor="end" fill="#1a1a1a" stroke="#1a1a1a" >5.4</text>
<text x="369.8" y="471.38" font-size="10.6" text-anchor="end" fill="#1a1a1a" stroke="#1a1a1a" >7.2</text>
<text x="653.6" y="601.3" font-size="10.6" text-anchor="start" fill="#1a1a1a" stroke="#1a1a1a" >70</text>
<text x="653.6" y="555.57" font-size="10.6" text-anchor="start" fill="#1a1a1a" stroke="#1a1a1a" >80</text>
<text x="653.6" y="509.84" font-size="10.6" text-anchor="start" fill="#1a1a1a" stroke="#1a1a1a" >90</text>
<text x="653.6" y="464.11" font-size="10.6" text-anchor="start" fill="#1a1a1a" stroke="#1a1a1a" >100</text>
<text x="374.4" y="611.2" font-size="10.6" text-anchor="middle" fill="#1a1a1a" stroke="#1a1a1a" >0</text>
<text x="429.2" y="611.2" font-size="10.6" text-anchor="middle" fill="#1a1a1a" stroke="#1a1a1a" >25</text>
<text x="484" y="611.2" font-size="10.6" text-anchor="middle" fill="#1a1a1a" stroke="#1a1a1a" >50</text>
<text x="538.8" y="611.2" font-size="10.6" text-anchor="middle" fill="#1a1a1a" stroke="#1a1a1a" >75</text>
<text x="593.6" y="611.2" font-size="10.6" text-anchor="middle" fill="#1a1a1a" stroke="#1a1a1a" >100</text>
<text x="648.4" y="611.2" font-size="10.6" text-anchor="middle" fill="#1a1a1a" stroke="#1a1a1a" >125</text>
<text x="514.9" y="625.5" font-size="10.85" text-anchor="middle" fill="#1a1a1a" stroke="#1a1a1a" >Cycle number</text>
<text x="681.8" y="525" font-size="10.85" text-anchor="middle" fill="#1a1a1a" stroke="#1a1a1a" transform="rotate(-90 681.8 525)" >Coulombic efficiency / %</text>
<text x="298" y="451" font-size="12" text-anchor="start" fill="#1f1515" stroke="#1f1515" font-weight="bold" >g</text>
<text x="389.9" y="485.1" font-size="11.2" text-anchor="start" fill="#1a1a1a" stroke="#1a1a1a" >60 mA g<tspan font-size="7.62" dx="0.34" dy="-5.04">-1</tspan><tspan dy="5.04">&#8203;</tspan> (1.1 mA cm<tspan font-size="7.62" dx="0.34" dy="-5.04">-2</tspan><tspan dy="5.04">&#8203;</tspan>)</text>
<text x="469.6" y="516.3" font-size="11.2" text-anchor="start" fill="#1a1a1a" stroke="#1a1a1a" >139 mA g<tspan font-size="7.62" dx="0.34" dy="-5.04">-1</tspan><tspan dy="5.04">&#8203;</tspan> (2.5 mA cm<tspan font-size="7.62" dx="0.34" dy="-5.04">-2</tspan><tspan dy="5.04">&#8203;</tspan>)</text>
<text x="605.8" y="548.2" font-size="11.2" text-anchor="start" fill="#1a1a1a" stroke="#1a1a1a" >84%</text>
<path d="M647.5,522.5 Q645,533 632,537" stroke="#111" stroke-width="1.2" fill="none"/>
<polygon points="630.57,537.44 635.18,533.72 636.47,537.93" fill="#111" stroke="none" stroke-width="1" />
<line x1="390" y1="559.4" x2="416" y2="559.4" stroke="#e05858" stroke-width="1.3" />
<circle cx="403" cy="559.4" r="3.6" stroke="#e05858" stroke-width="1.3" fill="#fff" />
<text x="418.6" y="563.1" font-size="10.95" text-anchor="start" fill="#1a1a1a" stroke="#1a1a1a" >Capacity</text>
<line x1="390" y1="572.6" x2="416" y2="572.6" stroke="#e05858" stroke-width="1.3" />
<rect x="400" y="569.6" width="6" height="6" stroke="#e05858" stroke-width="1.3" fill="#fff" />
<text x="418.6" y="576.3" font-size="10.95" text-anchor="start" fill="#1a1a1a" stroke="#1a1a1a" >Coulombic efficiency</text>
<text x="553" y="590" font-size="10.95" text-anchor="start" fill="#1a1a1a" stroke="#1a1a1a" >1.27 Ah pouch cell</text>
<polyline points="398.6,536.4 398.6,540.4 383.3,540.4" stroke="#111" stroke-width="1.1" fill="none" />
<polygon points="380.3,540.4 384.8,538.4 384.8,542.4" fill="#111" stroke="none" stroke-width="1" />
<polyline points="624,471.4 624,475.4 638,475.4" stroke="#111" stroke-width="1.1" fill="none" />
<polygon points="641,475.4 636.5,473.4 636.5,477.4" fill="#111" stroke="none" stroke-width="1" />
<defs><linearGradient id="lseal" x1="0" y1="0" x2="1" y2="0"><stop offset="0" stop-color="#9c9c9c"/><stop offset="0.25" stop-color="#b8b8b8"/><stop offset="0.55" stop-color="#e4e4e4"/><stop offset="0.8" stop-color="#bdbdbd"/><stop offset="1" stop-color="#8e8e8e"/></linearGradient><linearGradient id="pouch" x1="0" y1="0" x2="0" y2="1"><stop offset="0" stop-color="#a9a9a9"/><stop offset="1" stop-color="#a0a0a0"/></linearGradient></defs>
<rect x="15.9" y="441.2" width="114.6" height="84.6" fill="#c4c4c4" stroke="none" stroke-width="1" />
<rect x="15.9" y="489.1" width="9.8" height="5.3" fill="#8b8b8b" stroke="none" stroke-width="1" />
<rect x="15.9" y="503.4" width="9.8" height="10.4" fill="#8f8f8f" stroke="none" stroke-width="1" />
<rect x="25.7" y="443.7" width="102" height="79.7" fill="url(#pouch)" stroke="#8c8c8c" stroke-width="0.6" />
<rect x="25.7" y="443.7" width="102" height="4.2" fill="#bcbcbc" stroke="none" stroke-width="1" />
<line x1="26" y1="447.9" x2="127.4" y2="447.9" stroke="#8f8f8f" stroke-width="0.7" />
<rect x="25.7" y="516.8" width="102" height="6.6" fill="#b9b9b9" stroke="none" stroke-width="1" />
<line x1="26" y1="517.2" x2="127.4" y2="517.2" stroke="#8e8e8e" stroke-width="0.7" />
<rect x="25.9" y="444" width="11.2" height="79.2" fill="url(#lseal)" stroke="none" stroke-width="1" />
<rect x="122" y="448" width="5.5" height="69" fill="#b6b6b6" stroke="none" stroke-width="1" />
<rect x="37.2" y="453.8" width="81.3" height="47.9" fill="#222" stroke="none" stroke-width="1" />
<rect x="38" y="454.6" width="79.7" height="25.2" fill="#3aa86a" stroke="none" stroke-width="1" />
<rect x="38" y="479.8" width="79.7" height="21.1" fill="#fff" stroke="none" stroke-width="1" />
<text x="77.8" y="466.4" font-size="7.5" text-anchor="middle" fill="#fff" stroke="#fff" font-weight="bold" >Zn||NaV<tspan font-size="5.1" dy="1.88">3</tspan><tspan dy="-1.88">&#8203;</tspan>O<tspan font-size="5.1" dy="1.88">8</tspan><tspan dy="-1.88">&#8203;</tspan>·1.5H<tspan font-size="5.1" dy="1.88">2</tspan><tspan dy="-1.88">&#8203;</tspan>O</text>
<text x="77.8" y="474.8" font-size="7.6" text-anchor="middle" fill="#fff" stroke="#fff" font-weight="bold" >battery</text>
<text x="77.8" y="492.2" font-size="7.5" text-anchor="middle" fill="#222" stroke="#222" font-weight="bold" >Capacity: 1.27 Ah</text>
<text x="106.5" y="509" font-size="6.4" text-anchor="middle" fill="#222" stroke="#222" >2 cm</text>
<rect x="97.4" y="510.6" width="16.5" height="2.6" fill="#000" stroke="none" stroke-width="1" />
<text x="1" y="450.5" font-size="12" text-anchor="start" fill="#1f1515" stroke="#1f1515" font-weight="bold" >e</text>
<polygon points="137.9,464.8 142.2,462.22 142.2,470.22 159.2,460.02 159.2,505.52 137.9,518.3" fill="#f6d66e" stroke="#d8b54c" stroke-width="0.5" />
<polygon points="147.5,474.3 150.8,472.8 150.8,518.3 147.5,519.8" fill="#9a4520" stroke="none" stroke-width="1" />
<polygon points="147.5,474.3 168.8,461.32 172.1,458.02 150.8,471" fill="#9a4520" stroke="none" stroke-width="1" />
<polygon points="147.5,474.3 150.8,472.8 172.1,460.02 168.8,461.52" fill="#9a4520" stroke="none" stroke-width="1" />
<polygon points="147.8,472.5 169.1,459.72 172.1,457.82 150.8,470.6" fill="#9a4520" stroke="none" stroke-width="1" />
<polygon points="150.8,472.8 172.1,460.02 172.1,505.52 150.8,518.3" fill="#ee7a3c" stroke="#b85a2a" stroke-width="0.5" />
<polygon points="161.6,473.5 162.9,472.8 162.9,518.3 161.6,519" fill="#8c8d92" stroke="none" stroke-width="1" />
<polygon points="161.6,473.5 182.9,460.72 184.2,459.22 162.9,472" fill="#8c8d92" stroke="none" stroke-width="1" />
<polygon points="162.9,472.8 184.2,460.02 184.2,505.52 162.9,518.3" fill="#c9cace" stroke="#8e8f94" stroke-width="0.5" />
<polygon points="175.3,473.5 176.6,472.8 176.6,518.3 175.3,519" fill="#4a4a4a" stroke="none" stroke-width="1" />
<polygon points="175.3,473.5 196.6,460.72 197.9,459.22 176.6,472" fill="#4a4a4a" stroke="none" stroke-width="1" />
<polygon points="176.6,472.8 197.9,460.02 197.9,505.52 176.6,518.3" fill="#686868" stroke="#3c3c3c" stroke-width="0.5" />
<polygon points="188,472.8 194.3,469.02 194.3,459.52 198.5,457 198.5,466.5 209.3,460.02 209.3,505.52 188,518.3" fill="#f6d66e" stroke="#d8b54c" stroke-width="0.5" />
<polygon points="199.7,473.5 201,472.8 201,518.3 199.7,519" fill="#4a4a4a" stroke="none" stroke-width="1" />
<polygon points="199.7,473.5 221,460.72 222.3,459.22 201,472" fill="#4a4a4a" stroke="none" stroke-width="1" />
<polygon points="201,472.8 222.3,460.02 222.3,505.52 201,518.3" fill="#686868" stroke="#3c3c3c" stroke-width="0.5" />
<polygon points="211.4,473.5 212.7,472.8 212.7,518.3 211.4,519" fill="#8c8d92" stroke="none" stroke-width="1" />
<polygon points="211.4,473.5 232.7,460.72 234,459.22 212.7,472" fill="#8c8d92" stroke="none" stroke-width="1" />
<polygon points="212.7,472.8 234,460.02 234,505.52 212.7,518.3" fill="#c9cace" stroke="#8e8f94" stroke-width="0.5" />
<polygon points="223.2,474.3 226.5,472.8 226.5,518.3 223.2,519.8" fill="#9a4520" stroke="none" stroke-width="1" />
<polygon points="223.2,474.3 244.5,461.32 247.8,458.02 226.5,471" fill="#9a4520" stroke="none" stroke-width="1" />
<polygon points="223.2,474.3 226.5,472.8 247.8,460.02 244.5,461.52" fill="#9a4520" stroke="none" stroke-width="1" />
<polygon points="223.5,472.5 244.8,459.72 247.8,457.82 226.5,470.6" fill="#9a4520" stroke="none" stroke-width="1" />
<polygon points="226.5,472.8 247.8,460.02 247.8,505.52 226.5,518.3" fill="#ee7a3c" stroke="#b85a2a" stroke-width="0.5" />
<polygon points="240.5,465.8 245.2,462.98 245.2,469.98 261.8,460.02 261.8,505.52 240.5,518.3" fill="#f6d66e" stroke="#d8b54c" stroke-width="0.5" />
<line x1="156.2" y1="435.4" x2="236.7" y2="435.4" stroke="#333" stroke-width="0.9" />
<line x1="156.2" y1="435.4" x2="156.2" y2="468.5" stroke="#333" stroke-width="0.9" />
<polygon points="156.2,471.5 154.4,467.5 158,467.5" fill="#111" stroke="none" stroke-width="1" />
<line x1="236.7" y1="435.4" x2="236.7" y2="467.8" stroke="#333" stroke-width="0.9" />
<polygon points="236.7,470.8 234.9,466.8 238.5,466.8" fill="#111" stroke="none" stroke-width="1" />
<line x1="171.5" y1="446.5" x2="226.7" y2="446.5" stroke="#333" stroke-width="0.9" />
<line x1="171.5" y1="446.5" x2="171.5" y2="467.1" stroke="#333" stroke-width="0.9" />
<polygon points="171.5,470.1 169.7,466.1 173.3,466.1" fill="#111" stroke="none" stroke-width="1" />
<line x1="226.7" y1="446.5" x2="226.7" y2="464.3" stroke="#333" stroke-width="0.9" />
<polygon points="226.7,467.3 224.9,463.3 228.5,463.3" fill="#111" stroke="none" stroke-width="1" />
<line x1="184" y1="457.6" x2="215.9" y2="457.6" stroke="#333" stroke-width="0.9" />
<line x1="184" y1="457.6" x2="184" y2="464.3" stroke="#333" stroke-width="0.9" />
<polygon points="184,467.3 182.2,463.3 185.8,463.3" fill="#111" stroke="none" stroke-width="1" />
<line x1="215.9" y1="457.6" x2="215.9" y2="463.6" stroke="#333" stroke-width="0.9" />
<polygon points="215.9,466.6 214.1,462.6 217.7,462.6" fill="#111" stroke="none" stroke-width="1" />
<text x="199.6" y="433" font-size="9.3" text-anchor="middle" fill="#222" stroke="#222" >VNO</text>
<text x="197.7" y="444.4" font-size="9.3" text-anchor="middle" fill="#222" stroke="#222" >Glass fiber</text>
<text x="200" y="456.6" font-size="9.3" text-anchor="middle" fill="#222" stroke="#222" >Zn</text>
<line x1="139.8" y1="520.2" x2="242.7" y2="520.2" stroke="#333" stroke-width="0.9" />
<line x1="139.8" y1="520.2" x2="139.8" y2="516" stroke="#333" stroke-width="0.9" />
<polygon points="139.8,513 138,517 141.6,517" fill="#111" stroke="none" stroke-width="1" />
<line x1="192.4" y1="520.2" x2="192.4" y2="516" stroke="#333" stroke-width="0.9" />
<polygon points="192.4,513 190.6,517 194.2,517" fill="#111" stroke="none" stroke-width="1" />
<line x1="242.7" y1="520.2" x2="242.7" y2="516" stroke="#333" stroke-width="0.9" />
<polygon points="242.7,513 240.9,517 244.5,517" fill="#111" stroke="none" stroke-width="1" />
<text x="187.8" y="529" font-size="9" text-anchor="middle" fill="#222" stroke="#222" >Ti current collector</text>
<line x1="266.6" y1="464" x2="266.6" y2="499" stroke="#333" stroke-width="0.9" />
<polygon points="266.6,460.8 264.8,465 268.4,465" fill="#111" stroke="none" stroke-width="1" />
<polygon points="266.6,502 264.8,497.8 268.4,497.8" fill="#111" stroke="none" stroke-width="1" />
<text x="276.8" y="481.5" font-size="10" text-anchor="middle" fill="#222" stroke="#222" transform="rotate(-90 276.8 481.5)" >10 cm</text>
<line x1="249.2" y1="519.7" x2="265" y2="509.3" stroke="#333" stroke-width="0.9" />
<polygon points="267.5,507.7 265.14,511.4 263.17,508.38" fill="#111" stroke="none" stroke-width="1" />
<polygon points="246.7,521.3 251.03,520.62 249.06,517.6" fill="#111" stroke="none" stroke-width="1" />
<text x="264.6" y="524" font-size="10" text-anchor="middle" fill="#222" stroke="#222" transform="rotate(-35 264.6 524)" >9 cm</text>
<path d="M37,547.68 L38.7,549.87 L40.41,551.89 L42.19,553.66 L43.98,555.26 L45.77,556.72 L47.56,558.04 L49.3,559.27 L51.03,560.44 L52.77,561.52 L54.51,562.47 L56.24,563.23 L58,563.87 L59.75,564.46 L61.51,565.01 L63.26,565.51 L65.01,565.97 L66.77,566.4 L68.52,566.79 L70.28,567.15 L72.03,567.47 L73.78,567.76 L75.53,568.03 L77.28,568.29 L79.03,568.52 L80.78,568.74 L82.53,568.95 L84.28,569.15 L86.02,569.34 L87.77,569.52 L89.52,569.69 L91.27,569.86 L93.02,570.02 L94.77,570.19 L96.51,570.35 L98.26,570.51 L100.01,570.68 L101.77,570.85 L103.53,571.01 L105.29,571.17 L107.05,571.32 L108.81,571.47 L110.57,571.62 L112.33,571.77 L114.09,571.91 L115.85,572.06 L117.61,572.2 L119.37,572.35 L121.13,572.49 L122.89,572.64 L124.65,572.79 L126.41,572.95 L128.17,573.11 L129.93,573.27 L131.69,573.43 L133.45,573.59 L135.21,573.75 L136.97,573.92 L138.89,574.1 L140.81,574.28 L142.73,574.46 L144.65,574.65 L146.58,574.83 L148.5,575.02 L150.42,575.22 L152.17,575.4 L153.92,575.59 L155.67,575.78 L157.41,575.97 L159.16,576.17 L160.91,576.37 L162.66,576.57 L164.41,576.78 L166.16,576.98 L167.9,577.18 L169.65,577.38 L171.4,577.57 L173.15,577.76 L174.9,577.95 L176.65,578.13 L178.35,578.3 L180.05,578.47 L181.75,578.64 L183.46,578.8 L185.16,578.96 L186.86,579.12 L188.57,579.28 L190.27,579.44 L191.97,579.59 L193.68,579.75 L195.38,579.91 L197.08,580.08 L198.89,580.25 L200.7,580.42 L202.52,580.59 L204.33,580.75 L206.14,580.92 L207.95,581.09 L209.76,581.27 L211.57,581.44 L213.38,581.63 L215.2,581.82 L217.01,582.02 L219.02,582.25 L221.03,582.5 L223.04,582.76 L225.05,583.03 L227.05,583.32 L229.03,583.6 L231.01,583.9 L232.98,584.22 L234.96,584.56 L236.93,584.94 L238.93,585.34 L240.93,585.79 L242.94,586.3 L244.94,586.88 L246.81,587.56 L248.68,588.39 L250.56,589.27 L252.43,590.12" stroke="#e02b2b" stroke-width="1.7" fill="none" stroke-linecap="round" stroke-linejoin="round" />
<path d="M37,584.61 L37.34,582.68 L37.68,581.05 L38.19,579.38 L38.7,578.46 L40.47,577.6 L42.25,577.05 L44.02,576.71 L45.79,576.46 L47.56,576.19 L49.3,575.89 L51.03,575.63 L52.77,575.38 L54.51,575.16 L56.24,574.95 L57.98,574.74 L59.72,574.54 L61.46,574.34 L63.19,574.14 L64.93,573.92 L66.7,573.69 L68.47,573.46 L70.24,573.24 L72.01,573.01 L73.78,572.79 L75.56,572.56 L77.33,572.33 L79.1,572.11 L80.87,571.88 L82.64,571.65 L84.38,571.43 L86.11,571.2 L87.85,570.97 L89.59,570.74 L91.33,570.51 L93.06,570.28 L94.8,570.06 L96.54,569.83 L98.27,569.61 L100.01,569.38 L101.77,569.16 L103.53,568.94 L105.29,568.71 L107.05,568.49 L108.81,568.27 L110.57,568.05 L112.33,567.83 L114.09,567.61 L115.85,567.39 L117.61,567.18 L119.37,566.97 L121.13,566.76 L122.89,566.55 L124.65,566.35 L126.41,566.14 L128.17,565.94 L129.93,565.75 L131.69,565.55 L133.45,565.36 L135.21,565.18 L136.97,565.01 L138.79,564.84 L140.62,564.68 L142.45,564.52 L144.27,564.37 L146.1,564.23 L147.93,564.08 L149.75,563.94 L151.58,563.8 L153.41,563.66 L155.23,563.53 L157.06,563.39 L158.87,563.26 L160.68,563.12 L162.5,563 L164.31,562.87 L166.12,562.74 L167.93,562.62 L169.74,562.49 L171.55,562.37 L173.36,562.25 L175.18,562.12 L176.99,562 L178.81,561.87 L180.64,561.75 L182.47,561.64 L184.29,561.53 L186.12,561.41 L187.95,561.29 L189.77,561.17 L191.6,561.04 L193.43,560.91 L195.26,560.76 L197.08,560.6 L198.89,560.44 L200.7,560.26 L202.52,560.07 L204.33,559.88 L206.14,559.67 L207.95,559.44 L209.76,559.2 L211.57,558.93 L213.38,558.65 L215.2,558.34 L217.01,558.01 L219.02,557.56 L221.03,556.99 L223.04,556.35 L225.05,555.67 L227.05,555 L229.03,554.33 L231.01,553.64 L232.98,552.92 L234.96,552.17 L236.93,551.4 L238.93,550.6 L240.93,549.78 L242.94,548.91 L244.94,548 L246.85,547.06 L248.77,546.06 L250.68,545.03 L252.6,544.01" stroke="#e02b2b" stroke-width="1.7" fill="none" stroke-linecap="round" stroke-linejoin="round" />
<path d="M37,562.26 L37.85,565.49 L38.7,567.76 L40.47,569.24 L42.25,570.26 L44.02,570.95 L45.79,571.47 L47.56,571.98 L49.3,572.49 L51.03,572.97 L52.77,573.42 L54.51,573.83 L56.24,574.21 L57.98,574.56 L59.72,574.88 L61.46,575.18 L63.19,575.45 L64.93,575.7 L66.68,575.94 L68.44,576.16 L70.19,576.37 L71.95,576.56 L73.7,576.74 L75.45,576.92 L77.21,577.08 L78.96,577.24 L80.72,577.39 L82.47,577.54 L84.22,577.69 L85.98,577.83 L87.73,577.97 L89.49,578.12 L91.24,578.27 L92.99,578.42 L94.75,578.58 L96.5,578.75 L98.26,578.92 L100.01,579.1 L101.77,579.3 L103.53,579.49 L105.29,579.69 L107.05,579.89 L108.81,580.09 L110.57,580.3 L112.33,580.5 L114.09,580.71 L115.85,580.93 L117.61,581.14 L119.37,581.36 L121.13,581.58 L122.89,581.8 L124.65,582.02 L126.41,582.25 L128.17,582.48 L129.93,582.71 L131.69,582.94 L133.45,583.17 L135.21,583.4 L136.97,583.64 L138.89,583.9 L140.81,584.16 L142.73,584.43 L144.65,584.7 L146.58,584.98 L148.5,585.27 L150.42,585.58 L152.18,585.88 L153.93,586.2 L155.69,586.53 L157.44,586.87 L159.2,587.22 L160.95,587.57 L162.71,587.94 L164.46,588.31 L166.22,588.67 L167.97,589.04 L169.73,589.41 L171.48,589.77 L173.24,590.12" stroke="#3aa63a" stroke-width="1.7" fill="none" stroke-linecap="round" stroke-linejoin="round" />
<path d="M37,567.76 L38.76,567.21 L40.52,566.64 L42.28,566.07 L44.04,565.51 L45.8,564.99 L47.56,564.52 L49.3,564.09 L51.03,563.68 L52.77,563.27 L54.51,562.88 L56.24,562.51 L57.98,562.15 L59.72,561.82 L61.46,561.51 L63.19,561.22 L64.93,560.96 L66.68,560.72 L68.44,560.49 L70.19,560.27 L71.95,560.06 L73.7,559.86 L75.45,559.67 L77.21,559.49 L78.96,559.31 L80.72,559.14 L82.47,558.97 L84.22,558.81 L85.98,558.65 L87.73,558.49 L89.49,558.34 L91.24,558.19 L92.99,558.03 L94.75,557.88 L96.5,557.72 L98.26,557.56 L100.01,557.4 L101.77,557.23 L103.53,557.08 L105.29,556.93 L107.05,556.79 L108.81,556.65 L110.57,556.52 L112.33,556.38 L114.09,556.25 L115.85,556.12 L117.61,555.99 L119.37,555.85 L121.13,555.71 L122.89,555.57 L124.65,555.42 L126.41,555.27 L128.17,555.11 L129.93,554.94 L131.69,554.76 L133.45,554.57 L135.21,554.37 L136.97,554.16 L138.79,553.92 L140.62,553.65 L142.45,553.37 L144.27,553.06 L146.1,552.72 L147.93,552.37 L149.75,551.99 L151.58,551.59 L153.41,551.17 L155.23,550.73 L157.06,550.27 L158.86,549.76 L160.66,549.16 L162.45,548.51 L164.25,547.8 L166.05,547.06 L167.85,546.31 L169.64,545.56 L171.44,544.82 L173.24,544.11" stroke="#3aa63a" stroke-width="1.7" fill="none" stroke-linecap="round" stroke-linejoin="round" />
<line x1="37" y1="537.9" x2="258" y2="537.9" stroke="#a9a9a9" stroke-width="1.4" />
<line x1="37" y1="596.6" x2="258" y2="596.6" stroke="#666" stroke-width="1.2" />
<line x1="37" y1="537.9" x2="37" y2="596.6" stroke="#666" stroke-width="1.2" />
<line x1="258" y1="537.9" x2="258" y2="596.6" stroke="#888" stroke-width="1.1" />
<line x1="37" y1="596.6" x2="34" y2="596.6" stroke="#666" stroke-width="1" />
<line x1="37" y1="567.44" x2="34" y2="567.44" stroke="#666" stroke-width="1" />
<line x1="37" y1="538.28" x2="34" y2="538.28" stroke="#666" stroke-width="1" />
<line x1="37" y1="582.02" x2="35.5" y2="582.02" stroke="#666" stroke-width="1" />
<line x1="37" y1="552.86" x2="35.5" y2="552.86" stroke="#666" stroke-width="1" />
<line x1="37" y1="596.6" x2="37" y2="599.6" stroke="#666" stroke-width="1" />
<line x1="105.12" y1="596.6" x2="105.12" y2="599.6" stroke="#666" stroke-width="1" />
<line x1="173.24" y1="596.6" x2="173.24" y2="599.6" stroke="#666" stroke-width="1" />
<line x1="241.36" y1="596.6" x2="241.36" y2="599.6" stroke="#666" stroke-width="1" />
<line x1="71.06" y1="596.6" x2="71.06" y2="598.1" stroke="#666" stroke-width="1" />
<line x1="139.18" y1="596.6" x2="139.18" y2="598.1" stroke="#666" stroke-width="1" />
<line x1="207.3" y1="596.6" x2="207.3" y2="598.1" stroke="#666" stroke-width="1" />
<text x="33" y="600.2" font-size="10.6" text-anchor="end" fill="#1a1a1a" stroke="#1a1a1a" >0.0</text>
<text x="33" y="571.04" font-size="10.6" text-anchor="end" fill="#1a1a1a" stroke="#1a1a1a" >0.9</text>
<text x="33" y="541.88" font-size="10.6" text-anchor="end" fill="#1a1a1a" stroke="#1a1a1a" >1.8</text>
<text x="37" y="608" font-size="10.6" text-anchor="middle" fill="#1a1a1a" stroke="#1a1a1a" >0.0</text>
<text x="105.12" y="608" font-size="10.6" text-anchor="middle" fill="#1a1a1a" stroke="#1a1a1a" >0.4</text>
<text x="173.24" y="608" font-size="10.6" text-anchor="middle" fill="#1a1a1a" stroke="#1a1a1a" >0.8</text>
<text x="241.36" y="608" font-size="10.6" text-anchor="middle" fill="#1a1a1a" stroke="#1a1a1a" >1.2</text>
<text x="147" y="622" font-size="10.85" text-anchor="middle" fill="#1a1a1a" stroke="#1a1a1a" >Capacity / Ah</text>
<text x="13" y="568.5" font-size="10.85" text-anchor="middle" fill="#1a1a1a" stroke="#1a1a1a" transform="rotate(-90 13 568.5)" >Voltage / V</text>
<text x="2" y="536" font-size="12" text-anchor="start" fill="#1f1515" stroke="#1f1515" font-weight="bold" >f</text>
<text x="176.4" y="551.6" font-size="11.2" text-anchor="start" fill="#3aa63a" stroke="#3aa63a" >139 mA g<tspan font-size="7.62" dx="0.34" dy="-5.04">-1</tspan><tspan dy="5.04">&#8203;</tspan></text>
<text x="205" y="574.2" font-size="11.2" text-anchor="start" fill="#e02b2b" stroke="#e02b2b" >60 mA g<tspan font-size="7.62" dx="0.34" dy="-5.04">-1</tspan><tspan dy="5.04">&#8203;</tspan></text>
</svg></body></html>
